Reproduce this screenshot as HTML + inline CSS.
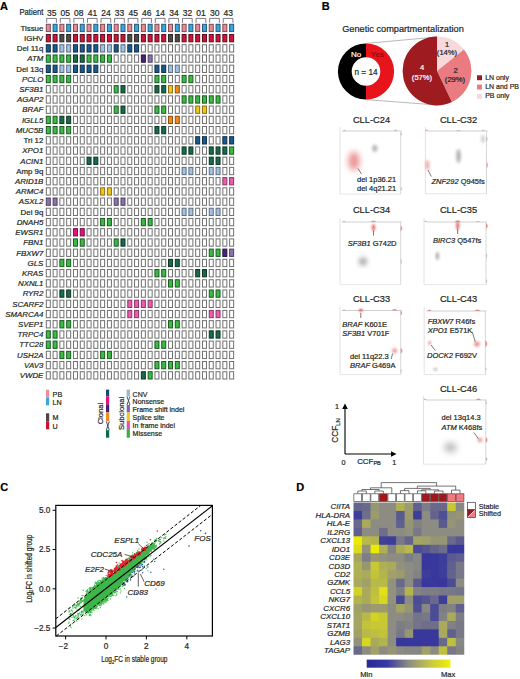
<!DOCTYPE html>
<html><head><meta charset="utf-8"><style>
html,body{margin:0;padding:0;background:#fff;width:520px;height:679px;overflow:hidden}
svg{display:block}
text{font-family:"Liberation Sans", sans-serif}
</style></head><body>
<svg width="520" height="679" viewBox="0 0 520 679">
<text x="0.00" y="9.60" font-size="11" text-anchor="start" font-weight="bold" fill="#000" stroke="#000" stroke-width="0.2">A</text>
<text x="0.00" y="0.00" font-size="8.2" text-anchor="start" fill="#231f20" stroke="#231f20" stroke-width="0.2" transform="translate(19.40 15.30) scale(0.94 1)">Patient</text>
<text x="51.69" y="15.50" font-size="8.5" text-anchor="middle" fill="#231f20" stroke="#231f20" stroke-width="0.2">35</text>
<path d="M46.70 22.8V18.4H56.39V22.8" fill="none" stroke="#5d5a6a" stroke-width="0.8"/>
<text x="65.28" y="15.50" font-size="8.5" text-anchor="middle" fill="#231f20" stroke="#231f20" stroke-width="0.2">05</text>
<path d="M60.28 22.8V18.4H69.97V22.8" fill="none" stroke="#5d5a6a" stroke-width="0.8"/>
<text x="78.85" y="15.50" font-size="8.5" text-anchor="middle" fill="#231f20" stroke="#231f20" stroke-width="0.2">08</text>
<path d="M73.86 22.8V18.4H83.55V22.8" fill="none" stroke="#5d5a6a" stroke-width="0.8"/>
<text x="92.44" y="15.50" font-size="8.5" text-anchor="middle" fill="#231f20" stroke="#231f20" stroke-width="0.2">41</text>
<path d="M87.44 22.8V18.4H97.13V22.8" fill="none" stroke="#5d5a6a" stroke-width="0.8"/>
<text x="106.02" y="15.50" font-size="8.5" text-anchor="middle" fill="#231f20" stroke="#231f20" stroke-width="0.2">24</text>
<path d="M101.02 22.8V18.4H110.71V22.8" fill="none" stroke="#5d5a6a" stroke-width="0.8"/>
<text x="119.59" y="15.50" font-size="8.5" text-anchor="middle" fill="#231f20" stroke="#231f20" stroke-width="0.2">33</text>
<path d="M114.60 22.8V18.4H124.29V22.8" fill="none" stroke="#5d5a6a" stroke-width="0.8"/>
<text x="133.18" y="15.50" font-size="8.5" text-anchor="middle" fill="#231f20" stroke="#231f20" stroke-width="0.2">45</text>
<path d="M128.18 22.8V18.4H137.87V22.8" fill="none" stroke="#5d5a6a" stroke-width="0.8"/>
<text x="146.75" y="15.50" font-size="8.5" text-anchor="middle" fill="#231f20" stroke="#231f20" stroke-width="0.2">46</text>
<path d="M141.76 22.8V18.4H151.45V22.8" fill="none" stroke="#5d5a6a" stroke-width="0.8"/>
<text x="160.34" y="15.50" font-size="8.5" text-anchor="middle" fill="#231f20" stroke="#231f20" stroke-width="0.2">14</text>
<path d="M155.34 22.8V18.4H165.03V22.8" fill="none" stroke="#5d5a6a" stroke-width="0.8"/>
<text x="173.91" y="15.50" font-size="8.5" text-anchor="middle" fill="#231f20" stroke="#231f20" stroke-width="0.2">34</text>
<path d="M168.92 22.8V18.4H178.61V22.8" fill="none" stroke="#5d5a6a" stroke-width="0.8"/>
<text x="187.50" y="15.50" font-size="8.5" text-anchor="middle" fill="#231f20" stroke="#231f20" stroke-width="0.2">32</text>
<path d="M182.50 22.8V18.4H192.19V22.8" fill="none" stroke="#5d5a6a" stroke-width="0.8"/>
<text x="201.07" y="15.50" font-size="8.5" text-anchor="middle" fill="#231f20" stroke="#231f20" stroke-width="0.2">01</text>
<path d="M196.08 22.8V18.4H205.77V22.8" fill="none" stroke="#5d5a6a" stroke-width="0.8"/>
<text x="214.66" y="15.50" font-size="8.5" text-anchor="middle" fill="#231f20" stroke="#231f20" stroke-width="0.2">30</text>
<path d="M209.66 22.8V18.4H219.35V22.8" fill="none" stroke="#5d5a6a" stroke-width="0.8"/>
<text x="228.23" y="15.50" font-size="8.5" text-anchor="middle" fill="#231f20" stroke="#231f20" stroke-width="0.2">43</text>
<path d="M223.24 22.8V18.4H232.93V22.8" fill="none" stroke="#5d5a6a" stroke-width="0.8"/>
<text x="43.40" y="30.70" font-size="7.9" text-anchor="end" fill="#231f20" stroke="#231f20" stroke-width="0.2">Tissue</text>
<rect x="46.30" y="24.30" width="4.00" height="7.30" fill="#e88a96" stroke="#7e4a52" stroke-width="1.0"/>
<rect x="53.09" y="24.30" width="4.00" height="7.30" fill="#36a6dd" stroke="#265a7c" stroke-width="1.0"/>
<rect x="59.88" y="24.30" width="4.00" height="7.30" fill="#e88a96" stroke="#7e4a52" stroke-width="1.0"/>
<rect x="66.67" y="24.30" width="4.00" height="7.30" fill="#36a6dd" stroke="#265a7c" stroke-width="1.0"/>
<rect x="73.46" y="24.30" width="4.00" height="7.30" fill="#e88a96" stroke="#7e4a52" stroke-width="1.0"/>
<rect x="80.25" y="24.30" width="4.00" height="7.30" fill="#36a6dd" stroke="#265a7c" stroke-width="1.0"/>
<rect x="87.04" y="24.30" width="4.00" height="7.30" fill="#e88a96" stroke="#7e4a52" stroke-width="1.0"/>
<rect x="93.83" y="24.30" width="4.00" height="7.30" fill="#36a6dd" stroke="#265a7c" stroke-width="1.0"/>
<rect x="100.62" y="24.30" width="4.00" height="7.30" fill="#e88a96" stroke="#7e4a52" stroke-width="1.0"/>
<rect x="107.41" y="24.30" width="4.00" height="7.30" fill="#36a6dd" stroke="#265a7c" stroke-width="1.0"/>
<rect x="114.20" y="24.30" width="4.00" height="7.30" fill="#e88a96" stroke="#7e4a52" stroke-width="1.0"/>
<rect x="120.99" y="24.30" width="4.00" height="7.30" fill="#36a6dd" stroke="#265a7c" stroke-width="1.0"/>
<rect x="127.78" y="24.30" width="4.00" height="7.30" fill="#e88a96" stroke="#7e4a52" stroke-width="1.0"/>
<rect x="134.57" y="24.30" width="4.00" height="7.30" fill="#36a6dd" stroke="#265a7c" stroke-width="1.0"/>
<rect x="141.36" y="24.30" width="4.00" height="7.30" fill="#e88a96" stroke="#7e4a52" stroke-width="1.0"/>
<rect x="148.15" y="24.30" width="4.00" height="7.30" fill="#36a6dd" stroke="#265a7c" stroke-width="1.0"/>
<rect x="154.94" y="24.30" width="4.00" height="7.30" fill="#e88a96" stroke="#7e4a52" stroke-width="1.0"/>
<rect x="161.73" y="24.30" width="4.00" height="7.30" fill="#36a6dd" stroke="#265a7c" stroke-width="1.0"/>
<rect x="168.52" y="24.30" width="4.00" height="7.30" fill="#e88a96" stroke="#7e4a52" stroke-width="1.0"/>
<rect x="175.31" y="24.30" width="4.00" height="7.30" fill="#36a6dd" stroke="#265a7c" stroke-width="1.0"/>
<rect x="182.10" y="24.30" width="4.00" height="7.30" fill="#e88a96" stroke="#7e4a52" stroke-width="1.0"/>
<rect x="188.89" y="24.30" width="4.00" height="7.30" fill="#36a6dd" stroke="#265a7c" stroke-width="1.0"/>
<rect x="195.68" y="24.30" width="4.00" height="7.30" fill="#e88a96" stroke="#7e4a52" stroke-width="1.0"/>
<rect x="202.47" y="24.30" width="4.00" height="7.30" fill="#36a6dd" stroke="#265a7c" stroke-width="1.0"/>
<rect x="209.26" y="24.30" width="4.00" height="7.30" fill="#e88a96" stroke="#7e4a52" stroke-width="1.0"/>
<rect x="216.05" y="24.30" width="4.00" height="7.30" fill="#36a6dd" stroke="#265a7c" stroke-width="1.0"/>
<rect x="222.84" y="24.30" width="4.00" height="7.30" fill="#e88a96" stroke="#7e4a52" stroke-width="1.0"/>
<rect x="229.63" y="24.30" width="4.00" height="7.30" fill="#36a6dd" stroke="#265a7c" stroke-width="1.0"/>
<text x="43.40" y="40.92" font-size="7.9" text-anchor="end" fill="#231f20" stroke="#231f20" stroke-width="0.2">IGHV</text>
<rect x="46.30" y="34.52" width="4.00" height="7.30" fill="#cf143c" stroke="#5e0c1c" stroke-width="1.0"/>
<rect x="53.09" y="34.52" width="4.00" height="7.30" fill="#cf143c" stroke="#5e0c1c" stroke-width="1.0"/>
<rect x="59.88" y="34.52" width="4.00" height="7.30" fill="#4e4a48" stroke="#2a2626" stroke-width="1.0"/>
<rect x="66.67" y="34.52" width="4.00" height="7.30" fill="#4e4a48" stroke="#2a2626" stroke-width="1.0"/>
<rect x="73.46" y="34.52" width="4.00" height="7.30" fill="#cf143c" stroke="#5e0c1c" stroke-width="1.0"/>
<rect x="80.25" y="34.52" width="4.00" height="7.30" fill="#cf143c" stroke="#5e0c1c" stroke-width="1.0"/>
<rect x="87.04" y="34.52" width="4.00" height="7.30" fill="#cf143c" stroke="#5e0c1c" stroke-width="1.0"/>
<rect x="93.83" y="34.52" width="4.00" height="7.30" fill="#cf143c" stroke="#5e0c1c" stroke-width="1.0"/>
<rect x="100.62" y="34.52" width="4.00" height="7.30" fill="#cf143c" stroke="#5e0c1c" stroke-width="1.0"/>
<rect x="107.41" y="34.52" width="4.00" height="7.30" fill="#cf143c" stroke="#5e0c1c" stroke-width="1.0"/>
<rect x="114.20" y="34.52" width="4.00" height="7.30" fill="#cf143c" stroke="#5e0c1c" stroke-width="1.0"/>
<rect x="120.99" y="34.52" width="4.00" height="7.30" fill="#cf143c" stroke="#5e0c1c" stroke-width="1.0"/>
<rect x="127.78" y="34.52" width="4.00" height="7.30" fill="#4e4a48" stroke="#2a2626" stroke-width="1.0"/>
<rect x="134.57" y="34.52" width="4.00" height="7.30" fill="#4e4a48" stroke="#2a2626" stroke-width="1.0"/>
<rect x="141.36" y="34.52" width="4.00" height="7.30" fill="#cf143c" stroke="#5e0c1c" stroke-width="1.0"/>
<rect x="148.15" y="34.52" width="4.00" height="7.30" fill="#cf143c" stroke="#5e0c1c" stroke-width="1.0"/>
<rect x="154.94" y="34.52" width="4.00" height="7.30" fill="#cf143c" stroke="#5e0c1c" stroke-width="1.0"/>
<rect x="161.73" y="34.52" width="4.00" height="7.30" fill="#cf143c" stroke="#5e0c1c" stroke-width="1.0"/>
<rect x="168.52" y="34.52" width="4.00" height="7.30" fill="#4e4a48" stroke="#2a2626" stroke-width="1.0"/>
<rect x="175.31" y="34.52" width="4.00" height="7.30" fill="#4e4a48" stroke="#2a2626" stroke-width="1.0"/>
<rect x="182.10" y="34.52" width="4.00" height="7.30" fill="#cf143c" stroke="#5e0c1c" stroke-width="1.0"/>
<rect x="188.89" y="34.52" width="4.00" height="7.30" fill="#cf143c" stroke="#5e0c1c" stroke-width="1.0"/>
<rect x="195.68" y="34.52" width="4.00" height="7.30" fill="#cf143c" stroke="#5e0c1c" stroke-width="1.0"/>
<rect x="202.47" y="34.52" width="4.00" height="7.30" fill="#cf143c" stroke="#5e0c1c" stroke-width="1.0"/>
<rect x="209.26" y="34.52" width="4.00" height="7.30" fill="#cf143c" stroke="#5e0c1c" stroke-width="1.0"/>
<rect x="216.05" y="34.52" width="4.00" height="7.30" fill="#cf143c" stroke="#5e0c1c" stroke-width="1.0"/>
<rect x="222.84" y="34.52" width="4.00" height="7.30" fill="#cf143c" stroke="#5e0c1c" stroke-width="1.0"/>
<rect x="229.63" y="34.52" width="4.00" height="7.30" fill="#cf143c" stroke="#5e0c1c" stroke-width="1.0"/>
<text x="43.40" y="51.14" font-size="7.9" text-anchor="end" fill="#231f20" stroke="#231f20" stroke-width="0.2">Del 11q</text>
<rect x="46.30" y="44.74" width="4.00" height="7.30" fill="#1d5a8c" stroke="#0e2c4a" stroke-width="1.0"/>
<rect x="53.09" y="44.74" width="4.00" height="7.30" fill="#1d5a8c" stroke="#0e2c4a" stroke-width="1.0"/>
<rect x="59.88" y="44.74" width="4.00" height="7.30" fill="#a6c2e0" stroke="#5c6c84" stroke-width="1.0"/>
<rect x="66.67" y="44.74" width="4.00" height="7.30" fill="#a6c2e0" stroke="#5c6c84" stroke-width="1.0"/>
<rect x="73.46" y="44.74" width="4.00" height="7.30" fill="#1d5a8c" stroke="#0e2c4a" stroke-width="1.0"/>
<rect x="80.25" y="44.74" width="4.00" height="7.30" fill="#1d5a8c" stroke="#0e2c4a" stroke-width="1.0"/>
<rect x="87.04" y="44.74" width="4.00" height="7.30" fill="#1d5a8c" stroke="#0e2c4a" stroke-width="1.0"/>
<rect x="93.83" y="44.74" width="4.00" height="7.30" fill="#1d5a8c" stroke="#0e2c4a" stroke-width="1.0"/>
<rect x="100.62" y="44.74" width="4.00" height="7.30" fill="#a6c2e0" stroke="#5c6c84" stroke-width="1.0"/>
<rect x="107.41" y="44.74" width="4.00" height="7.30" fill="#a6c2e0" stroke="#5c6c84" stroke-width="1.0"/>
<rect x="114.20" y="44.74" width="4.00" height="7.30" fill="#1d5a8c" stroke="#0e2c4a" stroke-width="1.0"/>
<rect x="120.99" y="44.74" width="4.00" height="7.30" fill="#a6c2e0" stroke="#5c6c84" stroke-width="1.0"/>
<rect x="127.78" y="44.74" width="4.00" height="7.30" fill="#1d5a8c" stroke="#0e2c4a" stroke-width="1.0"/>
<rect x="134.57" y="44.74" width="4.00" height="7.30" fill="#1d5a8c" stroke="#0e2c4a" stroke-width="1.0"/>
<rect x="141.36" y="44.74" width="4.00" height="7.30" fill="#ffffff" stroke="#707070" stroke-width="1.0"/>
<rect x="148.15" y="44.74" width="4.00" height="7.30" fill="#ffffff" stroke="#707070" stroke-width="1.0"/>
<rect x="154.94" y="44.74" width="4.00" height="7.30" fill="#ffffff" stroke="#707070" stroke-width="1.0"/>
<rect x="161.73" y="44.74" width="4.00" height="7.30" fill="#ffffff" stroke="#707070" stroke-width="1.0"/>
<rect x="168.52" y="44.74" width="4.00" height="7.30" fill="#ffffff" stroke="#707070" stroke-width="1.0"/>
<rect x="175.31" y="44.74" width="4.00" height="7.30" fill="#ffffff" stroke="#707070" stroke-width="1.0"/>
<rect x="182.10" y="44.74" width="4.00" height="7.30" fill="#ffffff" stroke="#707070" stroke-width="1.0"/>
<rect x="188.89" y="44.74" width="4.00" height="7.30" fill="#ffffff" stroke="#707070" stroke-width="1.0"/>
<rect x="195.68" y="44.74" width="4.00" height="7.30" fill="#ffffff" stroke="#707070" stroke-width="1.0"/>
<rect x="202.47" y="44.74" width="4.00" height="7.30" fill="#ffffff" stroke="#707070" stroke-width="1.0"/>
<rect x="209.26" y="44.74" width="4.00" height="7.30" fill="#ffffff" stroke="#707070" stroke-width="1.0"/>
<rect x="216.05" y="44.74" width="4.00" height="7.30" fill="#ffffff" stroke="#707070" stroke-width="1.0"/>
<rect x="222.84" y="44.74" width="4.00" height="7.30" fill="#ffffff" stroke="#707070" stroke-width="1.0"/>
<rect x="229.63" y="44.74" width="4.00" height="7.30" fill="#ffffff" stroke="#707070" stroke-width="1.0"/>
<text x="43.40" y="61.35" font-size="7.9" text-anchor="end" font-style="italic" fill="#231f20" stroke="#231f20" stroke-width="0.2">ATM</text>
<rect x="46.30" y="54.95" width="4.00" height="7.30" fill="#3cbc46" stroke="#1a5a20" stroke-width="1.0"/>
<rect x="53.09" y="54.95" width="4.00" height="7.30" fill="#3cbc46" stroke="#1a5a20" stroke-width="1.0"/>
<rect x="59.88" y="54.95" width="4.00" height="7.30" fill="#3cbc46" stroke="#1a5a20" stroke-width="1.0"/>
<rect x="66.67" y="54.95" width="4.00" height="7.30" fill="#3cbc46" stroke="#1a5a20" stroke-width="1.0"/>
<rect x="73.46" y="54.95" width="4.00" height="7.30" fill="#1a6b4a" stroke="#0c3524" stroke-width="1.0"/>
<rect x="80.25" y="54.95" width="4.00" height="7.30" fill="#1a6b4a" stroke="#0c3524" stroke-width="1.0"/>
<rect x="87.04" y="54.95" width="4.00" height="7.30" fill="#3cbc46" stroke="#1a5a20" stroke-width="1.0"/>
<rect x="93.83" y="54.95" width="4.00" height="7.30" fill="#3cbc46" stroke="#1a5a20" stroke-width="1.0"/>
<rect x="100.62" y="54.95" width="4.00" height="7.30" fill="#3cbc46" stroke="#1a5a20" stroke-width="1.0"/>
<rect x="107.41" y="54.95" width="4.00" height="7.30" fill="#3cbc46" stroke="#1a5a20" stroke-width="1.0"/>
<rect x="114.20" y="54.95" width="4.00" height="7.30" fill="#ffffff" stroke="#707070" stroke-width="1.0"/>
<rect x="120.99" y="54.95" width="4.00" height="7.30" fill="#ffffff" stroke="#707070" stroke-width="1.0"/>
<rect x="127.78" y="54.95" width="4.00" height="7.30" fill="#ffffff" stroke="#707070" stroke-width="1.0"/>
<rect x="134.57" y="54.95" width="4.00" height="7.30" fill="#ffffff" stroke="#707070" stroke-width="1.0"/>
<rect x="141.36" y="54.95" width="4.00" height="7.30" fill="#4b2375" stroke="#2a1242" stroke-width="1.0"/>
<rect x="148.15" y="54.95" width="4.00" height="7.30" fill="#8c74aa" stroke="#4e4066" stroke-width="1.0"/>
<rect x="154.94" y="54.95" width="4.00" height="7.30" fill="#ffffff" stroke="#707070" stroke-width="1.0"/>
<rect x="161.73" y="54.95" width="4.00" height="7.30" fill="#ffffff" stroke="#707070" stroke-width="1.0"/>
<rect x="168.52" y="54.95" width="4.00" height="7.30" fill="#ffffff" stroke="#707070" stroke-width="1.0"/>
<rect x="175.31" y="54.95" width="4.00" height="7.30" fill="#ffffff" stroke="#707070" stroke-width="1.0"/>
<rect x="182.10" y="54.95" width="4.00" height="7.30" fill="#ffffff" stroke="#707070" stroke-width="1.0"/>
<rect x="188.89" y="54.95" width="4.00" height="7.30" fill="#ffffff" stroke="#707070" stroke-width="1.0"/>
<rect x="195.68" y="54.95" width="4.00" height="7.30" fill="#ffffff" stroke="#707070" stroke-width="1.0"/>
<rect x="202.47" y="54.95" width="4.00" height="7.30" fill="#ffffff" stroke="#707070" stroke-width="1.0"/>
<rect x="209.26" y="54.95" width="4.00" height="7.30" fill="#ffffff" stroke="#707070" stroke-width="1.0"/>
<rect x="216.05" y="54.95" width="4.00" height="7.30" fill="#ffffff" stroke="#707070" stroke-width="1.0"/>
<rect x="222.84" y="54.95" width="4.00" height="7.30" fill="#ffffff" stroke="#707070" stroke-width="1.0"/>
<rect x="229.63" y="54.95" width="4.00" height="7.30" fill="#ffffff" stroke="#707070" stroke-width="1.0"/>
<text x="43.40" y="71.57" font-size="7.9" text-anchor="end" fill="#231f20" stroke="#231f20" stroke-width="0.2">Del 13q</text>
<rect x="46.30" y="65.17" width="4.00" height="7.30" fill="#1d5a8c" stroke="#0e2c4a" stroke-width="1.0"/>
<rect x="53.09" y="65.17" width="4.00" height="7.30" fill="#1d5a8c" stroke="#0e2c4a" stroke-width="1.0"/>
<rect x="59.88" y="65.17" width="4.00" height="7.30" fill="#a6c2e0" stroke="#5c6c84" stroke-width="1.0"/>
<rect x="66.67" y="65.17" width="4.00" height="7.30" fill="#a6c2e0" stroke="#5c6c84" stroke-width="1.0"/>
<rect x="73.46" y="65.17" width="4.00" height="7.30" fill="#1d5a8c" stroke="#0e2c4a" stroke-width="1.0"/>
<rect x="80.25" y="65.17" width="4.00" height="7.30" fill="#1d5a8c" stroke="#0e2c4a" stroke-width="1.0"/>
<rect x="87.04" y="65.17" width="4.00" height="7.30" fill="#1d5a8c" stroke="#0e2c4a" stroke-width="1.0"/>
<rect x="93.83" y="65.17" width="4.00" height="7.30" fill="#1d5a8c" stroke="#0e2c4a" stroke-width="1.0"/>
<rect x="100.62" y="65.17" width="4.00" height="7.30" fill="#ffffff" stroke="#707070" stroke-width="1.0"/>
<rect x="107.41" y="65.17" width="4.00" height="7.30" fill="#ffffff" stroke="#707070" stroke-width="1.0"/>
<rect x="114.20" y="65.17" width="4.00" height="7.30" fill="#ffffff" stroke="#707070" stroke-width="1.0"/>
<rect x="120.99" y="65.17" width="4.00" height="7.30" fill="#ffffff" stroke="#707070" stroke-width="1.0"/>
<rect x="127.78" y="65.17" width="4.00" height="7.30" fill="#ffffff" stroke="#707070" stroke-width="1.0"/>
<rect x="134.57" y="65.17" width="4.00" height="7.30" fill="#ffffff" stroke="#707070" stroke-width="1.0"/>
<rect x="141.36" y="65.17" width="4.00" height="7.30" fill="#ffffff" stroke="#707070" stroke-width="1.0"/>
<rect x="148.15" y="65.17" width="4.00" height="7.30" fill="#ffffff" stroke="#707070" stroke-width="1.0"/>
<rect x="154.94" y="65.17" width="4.00" height="7.30" fill="#1d5a8c" stroke="#0e2c4a" stroke-width="1.0"/>
<rect x="161.73" y="65.17" width="4.00" height="7.30" fill="#1d5a8c" stroke="#0e2c4a" stroke-width="1.0"/>
<rect x="168.52" y="65.17" width="4.00" height="7.30" fill="#a6c2e0" stroke="#5c6c84" stroke-width="1.0"/>
<rect x="175.31" y="65.17" width="4.00" height="7.30" fill="#a6c2e0" stroke="#5c6c84" stroke-width="1.0"/>
<rect x="182.10" y="65.17" width="4.00" height="7.30" fill="#ffffff" stroke="#707070" stroke-width="1.0"/>
<rect x="188.89" y="65.17" width="4.00" height="7.30" fill="#ffffff" stroke="#707070" stroke-width="1.0"/>
<rect x="195.68" y="65.17" width="4.00" height="7.30" fill="#ffffff" stroke="#707070" stroke-width="1.0"/>
<rect x="202.47" y="65.17" width="4.00" height="7.30" fill="#ffffff" stroke="#707070" stroke-width="1.0"/>
<rect x="209.26" y="65.17" width="4.00" height="7.30" fill="#ffffff" stroke="#707070" stroke-width="1.0"/>
<rect x="216.05" y="65.17" width="4.00" height="7.30" fill="#ffffff" stroke="#707070" stroke-width="1.0"/>
<rect x="222.84" y="65.17" width="4.00" height="7.30" fill="#ffffff" stroke="#707070" stroke-width="1.0"/>
<rect x="229.63" y="65.17" width="4.00" height="7.30" fill="#ffffff" stroke="#707070" stroke-width="1.0"/>
<text x="43.40" y="81.79" font-size="7.9" text-anchor="end" font-style="italic" fill="#231f20" stroke="#231f20" stroke-width="0.2">PCLO</text>
<rect x="46.30" y="75.39" width="4.00" height="7.30" fill="#3cbc46" stroke="#1a5a20" stroke-width="1.0"/>
<rect x="53.09" y="75.39" width="4.00" height="7.30" fill="#3cbc46" stroke="#1a5a20" stroke-width="1.0"/>
<rect x="59.88" y="75.39" width="4.00" height="7.30" fill="#3cbc46" stroke="#1a5a20" stroke-width="1.0"/>
<rect x="66.67" y="75.39" width="4.00" height="7.30" fill="#3cbc46" stroke="#1a5a20" stroke-width="1.0"/>
<rect x="73.46" y="75.39" width="4.00" height="7.30" fill="#ffffff" stroke="#707070" stroke-width="1.0"/>
<rect x="80.25" y="75.39" width="4.00" height="7.30" fill="#ffffff" stroke="#707070" stroke-width="1.0"/>
<rect x="87.04" y="75.39" width="4.00" height="7.30" fill="#ffffff" stroke="#707070" stroke-width="1.0"/>
<rect x="93.83" y="75.39" width="4.00" height="7.30" fill="#ffffff" stroke="#707070" stroke-width="1.0"/>
<rect x="100.62" y="75.39" width="4.00" height="7.30" fill="#ffffff" stroke="#707070" stroke-width="1.0"/>
<rect x="107.41" y="75.39" width="4.00" height="7.30" fill="#ffffff" stroke="#707070" stroke-width="1.0"/>
<rect x="114.20" y="75.39" width="4.00" height="7.30" fill="#ffffff" stroke="#707070" stroke-width="1.0"/>
<rect x="120.99" y="75.39" width="4.00" height="7.30" fill="#ffffff" stroke="#707070" stroke-width="1.0"/>
<rect x="127.78" y="75.39" width="4.00" height="7.30" fill="#ffffff" stroke="#707070" stroke-width="1.0"/>
<rect x="134.57" y="75.39" width="4.00" height="7.30" fill="#ffffff" stroke="#707070" stroke-width="1.0"/>
<rect x="141.36" y="75.39" width="4.00" height="7.30" fill="#ffffff" stroke="#707070" stroke-width="1.0"/>
<rect x="148.15" y="75.39" width="4.00" height="7.30" fill="#ffffff" stroke="#707070" stroke-width="1.0"/>
<rect x="154.94" y="75.39" width="4.00" height="7.30" fill="#3cbc46" stroke="#1a5a20" stroke-width="1.0"/>
<rect x="161.73" y="75.39" width="4.00" height="7.30" fill="#3cbc46" stroke="#1a5a20" stroke-width="1.0"/>
<rect x="168.52" y="75.39" width="4.00" height="7.30" fill="#ffffff" stroke="#707070" stroke-width="1.0"/>
<rect x="175.31" y="75.39" width="4.00" height="7.30" fill="#ffffff" stroke="#707070" stroke-width="1.0"/>
<rect x="182.10" y="75.39" width="4.00" height="7.30" fill="#3cbc46" stroke="#1a5a20" stroke-width="1.0"/>
<rect x="188.89" y="75.39" width="4.00" height="7.30" fill="#3cbc46" stroke="#1a5a20" stroke-width="1.0"/>
<rect x="195.68" y="75.39" width="4.00" height="7.30" fill="#ffffff" stroke="#707070" stroke-width="1.0"/>
<rect x="202.47" y="75.39" width="4.00" height="7.30" fill="#ffffff" stroke="#707070" stroke-width="1.0"/>
<rect x="209.26" y="75.39" width="4.00" height="7.30" fill="#ffffff" stroke="#707070" stroke-width="1.0"/>
<rect x="216.05" y="75.39" width="4.00" height="7.30" fill="#ffffff" stroke="#707070" stroke-width="1.0"/>
<rect x="222.84" y="75.39" width="4.00" height="7.30" fill="#ffffff" stroke="#707070" stroke-width="1.0"/>
<rect x="229.63" y="75.39" width="4.00" height="7.30" fill="#ffffff" stroke="#707070" stroke-width="1.0"/>
<text x="43.40" y="92.01" font-size="7.9" text-anchor="end" font-style="italic" fill="#231f20" stroke="#231f20" stroke-width="0.2">SF3B1</text>
<rect x="46.30" y="85.61" width="4.00" height="7.30" fill="#ffffff" stroke="#707070" stroke-width="1.0"/>
<rect x="53.09" y="85.61" width="4.00" height="7.30" fill="#ffffff" stroke="#707070" stroke-width="1.0"/>
<rect x="59.88" y="85.61" width="4.00" height="7.30" fill="#ffffff" stroke="#707070" stroke-width="1.0"/>
<rect x="66.67" y="85.61" width="4.00" height="7.30" fill="#ffffff" stroke="#707070" stroke-width="1.0"/>
<rect x="73.46" y="85.61" width="4.00" height="7.30" fill="#ffffff" stroke="#707070" stroke-width="1.0"/>
<rect x="80.25" y="85.61" width="4.00" height="7.30" fill="#ffffff" stroke="#707070" stroke-width="1.0"/>
<rect x="87.04" y="85.61" width="4.00" height="7.30" fill="#ffffff" stroke="#707070" stroke-width="1.0"/>
<rect x="93.83" y="85.61" width="4.00" height="7.30" fill="#ffffff" stroke="#707070" stroke-width="1.0"/>
<rect x="100.62" y="85.61" width="4.00" height="7.30" fill="#ffffff" stroke="#707070" stroke-width="1.0"/>
<rect x="107.41" y="85.61" width="4.00" height="7.30" fill="#ffffff" stroke="#707070" stroke-width="1.0"/>
<rect x="114.20" y="85.61" width="4.00" height="7.30" fill="#3cbc46" stroke="#1a5a20" stroke-width="1.0"/>
<rect x="120.99" y="85.61" width="4.00" height="7.30" fill="#1a6b4a" stroke="#0c3524" stroke-width="1.0"/>
<rect x="127.78" y="85.61" width="4.00" height="7.30" fill="#ffffff" stroke="#707070" stroke-width="1.0"/>
<rect x="134.57" y="85.61" width="4.00" height="7.30" fill="#ffffff" stroke="#707070" stroke-width="1.0"/>
<rect x="141.36" y="85.61" width="4.00" height="7.30" fill="#ffffff" stroke="#707070" stroke-width="1.0"/>
<rect x="148.15" y="85.61" width="4.00" height="7.30" fill="#ffffff" stroke="#707070" stroke-width="1.0"/>
<rect x="154.94" y="85.61" width="4.00" height="7.30" fill="#1a6b4a" stroke="#0c3524" stroke-width="1.0"/>
<rect x="161.73" y="85.61" width="4.00" height="7.30" fill="#1a6b4a" stroke="#0c3524" stroke-width="1.0"/>
<rect x="168.52" y="85.61" width="4.00" height="7.30" fill="#f4c624" stroke="#8a7010" stroke-width="1.0"/>
<rect x="175.31" y="85.61" width="4.00" height="7.30" fill="#f28a1c" stroke="#8a5010" stroke-width="1.0"/>
<rect x="182.10" y="85.61" width="4.00" height="7.30" fill="#ffffff" stroke="#707070" stroke-width="1.0"/>
<rect x="188.89" y="85.61" width="4.00" height="7.30" fill="#ffffff" stroke="#707070" stroke-width="1.0"/>
<rect x="195.68" y="85.61" width="4.00" height="7.30" fill="#ffffff" stroke="#707070" stroke-width="1.0"/>
<rect x="202.47" y="85.61" width="4.00" height="7.30" fill="#ffffff" stroke="#707070" stroke-width="1.0"/>
<rect x="209.26" y="85.61" width="4.00" height="7.30" fill="#ffffff" stroke="#707070" stroke-width="1.0"/>
<rect x="216.05" y="85.61" width="4.00" height="7.30" fill="#ffffff" stroke="#707070" stroke-width="1.0"/>
<rect x="222.84" y="85.61" width="4.00" height="7.30" fill="#ffffff" stroke="#707070" stroke-width="1.0"/>
<rect x="229.63" y="85.61" width="4.00" height="7.30" fill="#ffffff" stroke="#707070" stroke-width="1.0"/>
<text x="43.40" y="102.23" font-size="7.9" text-anchor="end" font-style="italic" fill="#231f20" stroke="#231f20" stroke-width="0.2">AGAP2</text>
<rect x="46.30" y="95.83" width="4.00" height="7.30" fill="#ffffff" stroke="#707070" stroke-width="1.0"/>
<rect x="53.09" y="95.83" width="4.00" height="7.30" fill="#ffffff" stroke="#707070" stroke-width="1.0"/>
<rect x="59.88" y="95.83" width="4.00" height="7.30" fill="#ffffff" stroke="#707070" stroke-width="1.0"/>
<rect x="66.67" y="95.83" width="4.00" height="7.30" fill="#ffffff" stroke="#707070" stroke-width="1.0"/>
<rect x="73.46" y="95.83" width="4.00" height="7.30" fill="#ffffff" stroke="#707070" stroke-width="1.0"/>
<rect x="80.25" y="95.83" width="4.00" height="7.30" fill="#ffffff" stroke="#707070" stroke-width="1.0"/>
<rect x="87.04" y="95.83" width="4.00" height="7.30" fill="#ffffff" stroke="#707070" stroke-width="1.0"/>
<rect x="93.83" y="95.83" width="4.00" height="7.30" fill="#ffffff" stroke="#707070" stroke-width="1.0"/>
<rect x="100.62" y="95.83" width="4.00" height="7.30" fill="#ffffff" stroke="#707070" stroke-width="1.0"/>
<rect x="107.41" y="95.83" width="4.00" height="7.30" fill="#ffffff" stroke="#707070" stroke-width="1.0"/>
<rect x="114.20" y="95.83" width="4.00" height="7.30" fill="#ffffff" stroke="#707070" stroke-width="1.0"/>
<rect x="120.99" y="95.83" width="4.00" height="7.30" fill="#ffffff" stroke="#707070" stroke-width="1.0"/>
<rect x="127.78" y="95.83" width="4.00" height="7.30" fill="#ffffff" stroke="#707070" stroke-width="1.0"/>
<rect x="134.57" y="95.83" width="4.00" height="7.30" fill="#ffffff" stroke="#707070" stroke-width="1.0"/>
<rect x="141.36" y="95.83" width="4.00" height="7.30" fill="#ffffff" stroke="#707070" stroke-width="1.0"/>
<rect x="148.15" y="95.83" width="4.00" height="7.30" fill="#ffffff" stroke="#707070" stroke-width="1.0"/>
<rect x="154.94" y="95.83" width="4.00" height="7.30" fill="#ffffff" stroke="#707070" stroke-width="1.0"/>
<rect x="161.73" y="95.83" width="4.00" height="7.30" fill="#ffffff" stroke="#707070" stroke-width="1.0"/>
<rect x="168.52" y="95.83" width="4.00" height="7.30" fill="#ffffff" stroke="#707070" stroke-width="1.0"/>
<rect x="175.31" y="95.83" width="4.00" height="7.30" fill="#ffffff" stroke="#707070" stroke-width="1.0"/>
<rect x="182.10" y="95.83" width="4.00" height="7.30" fill="#3cbc46" stroke="#1a5a20" stroke-width="1.0"/>
<rect x="188.89" y="95.83" width="4.00" height="7.30" fill="#3cbc46" stroke="#1a5a20" stroke-width="1.0"/>
<rect x="195.68" y="95.83" width="4.00" height="7.30" fill="#3cbc46" stroke="#1a5a20" stroke-width="1.0"/>
<rect x="202.47" y="95.83" width="4.00" height="7.30" fill="#3cbc46" stroke="#1a5a20" stroke-width="1.0"/>
<rect x="209.26" y="95.83" width="4.00" height="7.30" fill="#3cbc46" stroke="#1a5a20" stroke-width="1.0"/>
<rect x="216.05" y="95.83" width="4.00" height="7.30" fill="#3cbc46" stroke="#1a5a20" stroke-width="1.0"/>
<rect x="222.84" y="95.83" width="4.00" height="7.30" fill="#ffffff" stroke="#707070" stroke-width="1.0"/>
<rect x="229.63" y="95.83" width="4.00" height="7.30" fill="#ffffff" stroke="#707070" stroke-width="1.0"/>
<text x="43.40" y="112.44" font-size="7.9" text-anchor="end" font-style="italic" fill="#231f20" stroke="#231f20" stroke-width="0.2">BRAF</text>
<rect x="46.30" y="106.04" width="4.00" height="7.30" fill="#ffffff" stroke="#707070" stroke-width="1.0"/>
<rect x="53.09" y="106.04" width="4.00" height="7.30" fill="#ffffff" stroke="#707070" stroke-width="1.0"/>
<rect x="59.88" y="106.04" width="4.00" height="7.30" fill="#ffffff" stroke="#707070" stroke-width="1.0"/>
<rect x="66.67" y="106.04" width="4.00" height="7.30" fill="#ffffff" stroke="#707070" stroke-width="1.0"/>
<rect x="73.46" y="106.04" width="4.00" height="7.30" fill="#ffffff" stroke="#707070" stroke-width="1.0"/>
<rect x="80.25" y="106.04" width="4.00" height="7.30" fill="#ffffff" stroke="#707070" stroke-width="1.0"/>
<rect x="87.04" y="106.04" width="4.00" height="7.30" fill="#ffffff" stroke="#707070" stroke-width="1.0"/>
<rect x="93.83" y="106.04" width="4.00" height="7.30" fill="#ffffff" stroke="#707070" stroke-width="1.0"/>
<rect x="100.62" y="106.04" width="4.00" height="7.30" fill="#ffffff" stroke="#707070" stroke-width="1.0"/>
<rect x="107.41" y="106.04" width="4.00" height="7.30" fill="#ffffff" stroke="#707070" stroke-width="1.0"/>
<rect x="114.20" y="106.04" width="4.00" height="7.30" fill="#3cbc46" stroke="#1a5a20" stroke-width="1.0"/>
<rect x="120.99" y="106.04" width="4.00" height="7.30" fill="#1a6b4a" stroke="#0c3524" stroke-width="1.0"/>
<rect x="127.78" y="106.04" width="4.00" height="7.30" fill="#ffffff" stroke="#707070" stroke-width="1.0"/>
<rect x="134.57" y="106.04" width="4.00" height="7.30" fill="#ffffff" stroke="#707070" stroke-width="1.0"/>
<rect x="141.36" y="106.04" width="4.00" height="7.30" fill="#ffffff" stroke="#707070" stroke-width="1.0"/>
<rect x="148.15" y="106.04" width="4.00" height="7.30" fill="#ffffff" stroke="#707070" stroke-width="1.0"/>
<rect x="154.94" y="106.04" width="4.00" height="7.30" fill="#3cbc46" stroke="#1a5a20" stroke-width="1.0"/>
<rect x="161.73" y="106.04" width="4.00" height="7.30" fill="#3cbc46" stroke="#1a5a20" stroke-width="1.0"/>
<rect x="168.52" y="106.04" width="4.00" height="7.30" fill="#ffffff" stroke="#707070" stroke-width="1.0"/>
<rect x="175.31" y="106.04" width="4.00" height="7.30" fill="#ffffff" stroke="#707070" stroke-width="1.0"/>
<rect x="182.10" y="106.04" width="4.00" height="7.30" fill="#ffffff" stroke="#707070" stroke-width="1.0"/>
<rect x="188.89" y="106.04" width="4.00" height="7.30" fill="#ffffff" stroke="#707070" stroke-width="1.0"/>
<rect x="195.68" y="106.04" width="4.00" height="7.30" fill="#f4c624" stroke="#8a7010" stroke-width="1.0"/>
<rect x="202.47" y="106.04" width="4.00" height="7.30" fill="#f4c624" stroke="#8a7010" stroke-width="1.0"/>
<rect x="209.26" y="106.04" width="4.00" height="7.30" fill="#ffffff" stroke="#707070" stroke-width="1.0"/>
<rect x="216.05" y="106.04" width="4.00" height="7.30" fill="#ffffff" stroke="#707070" stroke-width="1.0"/>
<rect x="222.84" y="106.04" width="4.00" height="7.30" fill="#ffffff" stroke="#707070" stroke-width="1.0"/>
<rect x="229.63" y="106.04" width="4.00" height="7.30" fill="#ffffff" stroke="#707070" stroke-width="1.0"/>
<text x="43.40" y="122.66" font-size="7.9" text-anchor="end" font-style="italic" fill="#231f20" stroke="#231f20" stroke-width="0.2">IGLL5</text>
<rect x="46.30" y="116.26" width="4.00" height="7.30" fill="#3cbc46" stroke="#1a5a20" stroke-width="1.0"/>
<rect x="53.09" y="116.26" width="4.00" height="7.30" fill="#3cbc46" stroke="#1a5a20" stroke-width="1.0"/>
<rect x="59.88" y="116.26" width="4.00" height="7.30" fill="#1a6b4a" stroke="#0c3524" stroke-width="1.0"/>
<rect x="66.67" y="116.26" width="4.00" height="7.30" fill="#1a6b4a" stroke="#0c3524" stroke-width="1.0"/>
<rect x="73.46" y="116.26" width="4.00" height="7.30" fill="#ffffff" stroke="#707070" stroke-width="1.0"/>
<rect x="80.25" y="116.26" width="4.00" height="7.30" fill="#ffffff" stroke="#707070" stroke-width="1.0"/>
<rect x="87.04" y="116.26" width="4.00" height="7.30" fill="#ffffff" stroke="#707070" stroke-width="1.0"/>
<rect x="93.83" y="116.26" width="4.00" height="7.30" fill="#ffffff" stroke="#707070" stroke-width="1.0"/>
<rect x="100.62" y="116.26" width="4.00" height="7.30" fill="#ffffff" stroke="#707070" stroke-width="1.0"/>
<rect x="107.41" y="116.26" width="4.00" height="7.30" fill="#ffffff" stroke="#707070" stroke-width="1.0"/>
<rect x="114.20" y="116.26" width="4.00" height="7.30" fill="#ffffff" stroke="#707070" stroke-width="1.0"/>
<rect x="120.99" y="116.26" width="4.00" height="7.30" fill="#ffffff" stroke="#707070" stroke-width="1.0"/>
<rect x="127.78" y="116.26" width="4.00" height="7.30" fill="#ffffff" stroke="#707070" stroke-width="1.0"/>
<rect x="134.57" y="116.26" width="4.00" height="7.30" fill="#ffffff" stroke="#707070" stroke-width="1.0"/>
<rect x="141.36" y="116.26" width="4.00" height="7.30" fill="#ffffff" stroke="#707070" stroke-width="1.0"/>
<rect x="148.15" y="116.26" width="4.00" height="7.30" fill="#ffffff" stroke="#707070" stroke-width="1.0"/>
<rect x="154.94" y="116.26" width="4.00" height="7.30" fill="#ffffff" stroke="#707070" stroke-width="1.0"/>
<rect x="161.73" y="116.26" width="4.00" height="7.30" fill="#ffffff" stroke="#707070" stroke-width="1.0"/>
<rect x="168.52" y="116.26" width="4.00" height="7.30" fill="#f28a1c" stroke="#8a5010" stroke-width="1.0"/>
<rect x="175.31" y="116.26" width="4.00" height="7.30" fill="#f28a1c" stroke="#8a5010" stroke-width="1.0"/>
<rect x="182.10" y="116.26" width="4.00" height="7.30" fill="#ffffff" stroke="#707070" stroke-width="1.0"/>
<rect x="188.89" y="116.26" width="4.00" height="7.30" fill="#ffffff" stroke="#707070" stroke-width="1.0"/>
<rect x="195.68" y="116.26" width="4.00" height="7.30" fill="#ffffff" stroke="#707070" stroke-width="1.0"/>
<rect x="202.47" y="116.26" width="4.00" height="7.30" fill="#ffffff" stroke="#707070" stroke-width="1.0"/>
<rect x="209.26" y="116.26" width="4.00" height="7.30" fill="#ffffff" stroke="#707070" stroke-width="1.0"/>
<rect x="216.05" y="116.26" width="4.00" height="7.30" fill="#ffffff" stroke="#707070" stroke-width="1.0"/>
<rect x="222.84" y="116.26" width="4.00" height="7.30" fill="#ffffff" stroke="#707070" stroke-width="1.0"/>
<rect x="229.63" y="116.26" width="4.00" height="7.30" fill="#ffffff" stroke="#707070" stroke-width="1.0"/>
<text x="43.40" y="132.88" font-size="7.9" text-anchor="end" font-style="italic" fill="#231f20" stroke="#231f20" stroke-width="0.2">MUC5B</text>
<rect x="46.30" y="126.48" width="4.00" height="7.30" fill="#3cbc46" stroke="#1a5a20" stroke-width="1.0"/>
<rect x="53.09" y="126.48" width="4.00" height="7.30" fill="#3cbc46" stroke="#1a5a20" stroke-width="1.0"/>
<rect x="59.88" y="126.48" width="4.00" height="7.30" fill="#3cbc46" stroke="#1a5a20" stroke-width="1.0"/>
<rect x="66.67" y="126.48" width="4.00" height="7.30" fill="#3cbc46" stroke="#1a5a20" stroke-width="1.0"/>
<rect x="73.46" y="126.48" width="4.00" height="7.30" fill="#ffffff" stroke="#707070" stroke-width="1.0"/>
<rect x="80.25" y="126.48" width="4.00" height="7.30" fill="#ffffff" stroke="#707070" stroke-width="1.0"/>
<rect x="87.04" y="126.48" width="4.00" height="7.30" fill="#ffffff" stroke="#707070" stroke-width="1.0"/>
<rect x="93.83" y="126.48" width="4.00" height="7.30" fill="#ffffff" stroke="#707070" stroke-width="1.0"/>
<rect x="100.62" y="126.48" width="4.00" height="7.30" fill="#ffffff" stroke="#707070" stroke-width="1.0"/>
<rect x="107.41" y="126.48" width="4.00" height="7.30" fill="#ffffff" stroke="#707070" stroke-width="1.0"/>
<rect x="114.20" y="126.48" width="4.00" height="7.30" fill="#ffffff" stroke="#707070" stroke-width="1.0"/>
<rect x="120.99" y="126.48" width="4.00" height="7.30" fill="#ffffff" stroke="#707070" stroke-width="1.0"/>
<rect x="127.78" y="126.48" width="4.00" height="7.30" fill="#ffffff" stroke="#707070" stroke-width="1.0"/>
<rect x="134.57" y="126.48" width="4.00" height="7.30" fill="#ffffff" stroke="#707070" stroke-width="1.0"/>
<rect x="141.36" y="126.48" width="4.00" height="7.30" fill="#ffffff" stroke="#707070" stroke-width="1.0"/>
<rect x="148.15" y="126.48" width="4.00" height="7.30" fill="#ffffff" stroke="#707070" stroke-width="1.0"/>
<rect x="154.94" y="126.48" width="4.00" height="7.30" fill="#1a6b4a" stroke="#0c3524" stroke-width="1.0"/>
<rect x="161.73" y="126.48" width="4.00" height="7.30" fill="#1a6b4a" stroke="#0c3524" stroke-width="1.0"/>
<rect x="168.52" y="126.48" width="4.00" height="7.30" fill="#ffffff" stroke="#707070" stroke-width="1.0"/>
<rect x="175.31" y="126.48" width="4.00" height="7.30" fill="#ffffff" stroke="#707070" stroke-width="1.0"/>
<rect x="182.10" y="126.48" width="4.00" height="7.30" fill="#ffffff" stroke="#707070" stroke-width="1.0"/>
<rect x="188.89" y="126.48" width="4.00" height="7.30" fill="#ffffff" stroke="#707070" stroke-width="1.0"/>
<rect x="195.68" y="126.48" width="4.00" height="7.30" fill="#ffffff" stroke="#707070" stroke-width="1.0"/>
<rect x="202.47" y="126.48" width="4.00" height="7.30" fill="#ffffff" stroke="#707070" stroke-width="1.0"/>
<rect x="209.26" y="126.48" width="4.00" height="7.30" fill="#ffffff" stroke="#707070" stroke-width="1.0"/>
<rect x="216.05" y="126.48" width="4.00" height="7.30" fill="#ffffff" stroke="#707070" stroke-width="1.0"/>
<rect x="222.84" y="126.48" width="4.00" height="7.30" fill="#ffffff" stroke="#707070" stroke-width="1.0"/>
<rect x="229.63" y="126.48" width="4.00" height="7.30" fill="#ffffff" stroke="#707070" stroke-width="1.0"/>
<text x="43.40" y="143.10" font-size="7.9" text-anchor="end" fill="#231f20" stroke="#231f20" stroke-width="0.2">Tri 12</text>
<rect x="46.30" y="136.70" width="4.00" height="7.30" fill="#ffffff" stroke="#707070" stroke-width="1.0"/>
<rect x="53.09" y="136.70" width="4.00" height="7.30" fill="#ffffff" stroke="#707070" stroke-width="1.0"/>
<rect x="59.88" y="136.70" width="4.00" height="7.30" fill="#ffffff" stroke="#707070" stroke-width="1.0"/>
<rect x="66.67" y="136.70" width="4.00" height="7.30" fill="#ffffff" stroke="#707070" stroke-width="1.0"/>
<rect x="73.46" y="136.70" width="4.00" height="7.30" fill="#ffffff" stroke="#707070" stroke-width="1.0"/>
<rect x="80.25" y="136.70" width="4.00" height="7.30" fill="#ffffff" stroke="#707070" stroke-width="1.0"/>
<rect x="87.04" y="136.70" width="4.00" height="7.30" fill="#ffffff" stroke="#707070" stroke-width="1.0"/>
<rect x="93.83" y="136.70" width="4.00" height="7.30" fill="#ffffff" stroke="#707070" stroke-width="1.0"/>
<rect x="100.62" y="136.70" width="4.00" height="7.30" fill="#ffffff" stroke="#707070" stroke-width="1.0"/>
<rect x="107.41" y="136.70" width="4.00" height="7.30" fill="#ffffff" stroke="#707070" stroke-width="1.0"/>
<rect x="114.20" y="136.70" width="4.00" height="7.30" fill="#ffffff" stroke="#707070" stroke-width="1.0"/>
<rect x="120.99" y="136.70" width="4.00" height="7.30" fill="#ffffff" stroke="#707070" stroke-width="1.0"/>
<rect x="127.78" y="136.70" width="4.00" height="7.30" fill="#ffffff" stroke="#707070" stroke-width="1.0"/>
<rect x="134.57" y="136.70" width="4.00" height="7.30" fill="#ffffff" stroke="#707070" stroke-width="1.0"/>
<rect x="141.36" y="136.70" width="4.00" height="7.30" fill="#ffffff" stroke="#707070" stroke-width="1.0"/>
<rect x="148.15" y="136.70" width="4.00" height="7.30" fill="#ffffff" stroke="#707070" stroke-width="1.0"/>
<rect x="154.94" y="136.70" width="4.00" height="7.30" fill="#ffffff" stroke="#707070" stroke-width="1.0"/>
<rect x="161.73" y="136.70" width="4.00" height="7.30" fill="#ffffff" stroke="#707070" stroke-width="1.0"/>
<rect x="168.52" y="136.70" width="4.00" height="7.30" fill="#ffffff" stroke="#707070" stroke-width="1.0"/>
<rect x="175.31" y="136.70" width="4.00" height="7.30" fill="#ffffff" stroke="#707070" stroke-width="1.0"/>
<rect x="182.10" y="136.70" width="4.00" height="7.30" fill="#ffffff" stroke="#707070" stroke-width="1.0"/>
<rect x="188.89" y="136.70" width="4.00" height="7.30" fill="#ffffff" stroke="#707070" stroke-width="1.0"/>
<rect x="195.68" y="136.70" width="4.00" height="7.30" fill="#1d5a8c" stroke="#0e2c4a" stroke-width="1.0"/>
<rect x="202.47" y="136.70" width="4.00" height="7.30" fill="#1d5a8c" stroke="#0e2c4a" stroke-width="1.0"/>
<rect x="209.26" y="136.70" width="4.00" height="7.30" fill="#ffffff" stroke="#707070" stroke-width="1.0"/>
<rect x="216.05" y="136.70" width="4.00" height="7.30" fill="#ffffff" stroke="#707070" stroke-width="1.0"/>
<rect x="222.84" y="136.70" width="4.00" height="7.30" fill="#1d5a8c" stroke="#0e2c4a" stroke-width="1.0"/>
<rect x="229.63" y="136.70" width="4.00" height="7.30" fill="#1d5a8c" stroke="#0e2c4a" stroke-width="1.0"/>
<text x="43.40" y="153.32" font-size="7.9" text-anchor="end" font-style="italic" fill="#231f20" stroke="#231f20" stroke-width="0.2">XPO1</text>
<rect x="46.30" y="146.92" width="4.00" height="7.30" fill="#ffffff" stroke="#707070" stroke-width="1.0"/>
<rect x="53.09" y="146.92" width="4.00" height="7.30" fill="#ffffff" stroke="#707070" stroke-width="1.0"/>
<rect x="59.88" y="146.92" width="4.00" height="7.30" fill="#ffffff" stroke="#707070" stroke-width="1.0"/>
<rect x="66.67" y="146.92" width="4.00" height="7.30" fill="#ffffff" stroke="#707070" stroke-width="1.0"/>
<rect x="73.46" y="146.92" width="4.00" height="7.30" fill="#ffffff" stroke="#707070" stroke-width="1.0"/>
<rect x="80.25" y="146.92" width="4.00" height="7.30" fill="#ffffff" stroke="#707070" stroke-width="1.0"/>
<rect x="87.04" y="146.92" width="4.00" height="7.30" fill="#ffffff" stroke="#707070" stroke-width="1.0"/>
<rect x="93.83" y="146.92" width="4.00" height="7.30" fill="#ffffff" stroke="#707070" stroke-width="1.0"/>
<rect x="100.62" y="146.92" width="4.00" height="7.30" fill="#ffffff" stroke="#707070" stroke-width="1.0"/>
<rect x="107.41" y="146.92" width="4.00" height="7.30" fill="#ffffff" stroke="#707070" stroke-width="1.0"/>
<rect x="114.20" y="146.92" width="4.00" height="7.30" fill="#ffffff" stroke="#707070" stroke-width="1.0"/>
<rect x="120.99" y="146.92" width="4.00" height="7.30" fill="#ffffff" stroke="#707070" stroke-width="1.0"/>
<rect x="127.78" y="146.92" width="4.00" height="7.30" fill="#ffffff" stroke="#707070" stroke-width="1.0"/>
<rect x="134.57" y="146.92" width="4.00" height="7.30" fill="#ffffff" stroke="#707070" stroke-width="1.0"/>
<rect x="141.36" y="146.92" width="4.00" height="7.30" fill="#ffffff" stroke="#707070" stroke-width="1.0"/>
<rect x="148.15" y="146.92" width="4.00" height="7.30" fill="#ffffff" stroke="#707070" stroke-width="1.0"/>
<rect x="154.94" y="146.92" width="4.00" height="7.30" fill="#ffffff" stroke="#707070" stroke-width="1.0"/>
<rect x="161.73" y="146.92" width="4.00" height="7.30" fill="#ffffff" stroke="#707070" stroke-width="1.0"/>
<rect x="168.52" y="146.92" width="4.00" height="7.30" fill="#ffffff" stroke="#707070" stroke-width="1.0"/>
<rect x="175.31" y="146.92" width="4.00" height="7.30" fill="#ffffff" stroke="#707070" stroke-width="1.0"/>
<rect x="182.10" y="146.92" width="4.00" height="7.30" fill="#1a6b4a" stroke="#0c3524" stroke-width="1.0"/>
<rect x="188.89" y="146.92" width="4.00" height="7.30" fill="#1a6b4a" stroke="#0c3524" stroke-width="1.0"/>
<rect x="195.68" y="146.92" width="4.00" height="7.30" fill="#ffffff" stroke="#707070" stroke-width="1.0"/>
<rect x="202.47" y="146.92" width="4.00" height="7.30" fill="#ffffff" stroke="#707070" stroke-width="1.0"/>
<rect x="209.26" y="146.92" width="4.00" height="7.30" fill="#1a6b4a" stroke="#0c3524" stroke-width="1.0"/>
<rect x="216.05" y="146.92" width="4.00" height="7.30" fill="#1a6b4a" stroke="#0c3524" stroke-width="1.0"/>
<rect x="222.84" y="146.92" width="4.00" height="7.30" fill="#1a6b4a" stroke="#0c3524" stroke-width="1.0"/>
<rect x="229.63" y="146.92" width="4.00" height="7.30" fill="#3cbc46" stroke="#1a5a20" stroke-width="1.0"/>
<text x="43.40" y="163.53" font-size="7.9" text-anchor="end" font-style="italic" fill="#231f20" stroke="#231f20" stroke-width="0.2">ACIN1</text>
<rect x="46.30" y="157.13" width="4.00" height="7.30" fill="#ffffff" stroke="#707070" stroke-width="1.0"/>
<rect x="53.09" y="157.13" width="4.00" height="7.30" fill="#ffffff" stroke="#707070" stroke-width="1.0"/>
<rect x="59.88" y="157.13" width="4.00" height="7.30" fill="#ffffff" stroke="#707070" stroke-width="1.0"/>
<rect x="66.67" y="157.13" width="4.00" height="7.30" fill="#ffffff" stroke="#707070" stroke-width="1.0"/>
<rect x="73.46" y="157.13" width="4.00" height="7.30" fill="#ffffff" stroke="#707070" stroke-width="1.0"/>
<rect x="80.25" y="157.13" width="4.00" height="7.30" fill="#ffffff" stroke="#707070" stroke-width="1.0"/>
<rect x="87.04" y="157.13" width="4.00" height="7.30" fill="#1a6b4a" stroke="#0c3524" stroke-width="1.0"/>
<rect x="93.83" y="157.13" width="4.00" height="7.30" fill="#1a6b4a" stroke="#0c3524" stroke-width="1.0"/>
<rect x="100.62" y="157.13" width="4.00" height="7.30" fill="#ffffff" stroke="#707070" stroke-width="1.0"/>
<rect x="107.41" y="157.13" width="4.00" height="7.30" fill="#ffffff" stroke="#707070" stroke-width="1.0"/>
<rect x="114.20" y="157.13" width="4.00" height="7.30" fill="#ffffff" stroke="#707070" stroke-width="1.0"/>
<rect x="120.99" y="157.13" width="4.00" height="7.30" fill="#ffffff" stroke="#707070" stroke-width="1.0"/>
<rect x="127.78" y="157.13" width="4.00" height="7.30" fill="#ffffff" stroke="#707070" stroke-width="1.0"/>
<rect x="134.57" y="157.13" width="4.00" height="7.30" fill="#ffffff" stroke="#707070" stroke-width="1.0"/>
<rect x="141.36" y="157.13" width="4.00" height="7.30" fill="#ffffff" stroke="#707070" stroke-width="1.0"/>
<rect x="148.15" y="157.13" width="4.00" height="7.30" fill="#ffffff" stroke="#707070" stroke-width="1.0"/>
<rect x="154.94" y="157.13" width="4.00" height="7.30" fill="#ffffff" stroke="#707070" stroke-width="1.0"/>
<rect x="161.73" y="157.13" width="4.00" height="7.30" fill="#ffffff" stroke="#707070" stroke-width="1.0"/>
<rect x="168.52" y="157.13" width="4.00" height="7.30" fill="#ffffff" stroke="#707070" stroke-width="1.0"/>
<rect x="175.31" y="157.13" width="4.00" height="7.30" fill="#ffffff" stroke="#707070" stroke-width="1.0"/>
<rect x="182.10" y="157.13" width="4.00" height="7.30" fill="#ffffff" stroke="#707070" stroke-width="1.0"/>
<rect x="188.89" y="157.13" width="4.00" height="7.30" fill="#ffffff" stroke="#707070" stroke-width="1.0"/>
<rect x="195.68" y="157.13" width="4.00" height="7.30" fill="#ffffff" stroke="#707070" stroke-width="1.0"/>
<rect x="202.47" y="157.13" width="4.00" height="7.30" fill="#ffffff" stroke="#707070" stroke-width="1.0"/>
<rect x="209.26" y="157.13" width="4.00" height="7.30" fill="#1a6b4a" stroke="#0c3524" stroke-width="1.0"/>
<rect x="216.05" y="157.13" width="4.00" height="7.30" fill="#1a6b4a" stroke="#0c3524" stroke-width="1.0"/>
<rect x="222.84" y="157.13" width="4.00" height="7.30" fill="#ffffff" stroke="#707070" stroke-width="1.0"/>
<rect x="229.63" y="157.13" width="4.00" height="7.30" fill="#ffffff" stroke="#707070" stroke-width="1.0"/>
<text x="43.40" y="173.75" font-size="7.9" text-anchor="end" fill="#231f20" stroke="#231f20" stroke-width="0.2">Amp 9q</text>
<rect x="46.30" y="167.35" width="4.00" height="7.30" fill="#ffffff" stroke="#707070" stroke-width="1.0"/>
<rect x="53.09" y="167.35" width="4.00" height="7.30" fill="#ffffff" stroke="#707070" stroke-width="1.0"/>
<rect x="59.88" y="167.35" width="4.00" height="7.30" fill="#ffffff" stroke="#707070" stroke-width="1.0"/>
<rect x="66.67" y="167.35" width="4.00" height="7.30" fill="#ffffff" stroke="#707070" stroke-width="1.0"/>
<rect x="73.46" y="167.35" width="4.00" height="7.30" fill="#ffffff" stroke="#707070" stroke-width="1.0"/>
<rect x="80.25" y="167.35" width="4.00" height="7.30" fill="#ffffff" stroke="#707070" stroke-width="1.0"/>
<rect x="87.04" y="167.35" width="4.00" height="7.30" fill="#ffffff" stroke="#707070" stroke-width="1.0"/>
<rect x="93.83" y="167.35" width="4.00" height="7.30" fill="#ffffff" stroke="#707070" stroke-width="1.0"/>
<rect x="100.62" y="167.35" width="4.00" height="7.30" fill="#ffffff" stroke="#707070" stroke-width="1.0"/>
<rect x="107.41" y="167.35" width="4.00" height="7.30" fill="#ffffff" stroke="#707070" stroke-width="1.0"/>
<rect x="114.20" y="167.35" width="4.00" height="7.30" fill="#ffffff" stroke="#707070" stroke-width="1.0"/>
<rect x="120.99" y="167.35" width="4.00" height="7.30" fill="#ffffff" stroke="#707070" stroke-width="1.0"/>
<rect x="127.78" y="167.35" width="4.00" height="7.30" fill="#ffffff" stroke="#707070" stroke-width="1.0"/>
<rect x="134.57" y="167.35" width="4.00" height="7.30" fill="#ffffff" stroke="#707070" stroke-width="1.0"/>
<rect x="141.36" y="167.35" width="4.00" height="7.30" fill="#ffffff" stroke="#707070" stroke-width="1.0"/>
<rect x="148.15" y="167.35" width="4.00" height="7.30" fill="#ffffff" stroke="#707070" stroke-width="1.0"/>
<rect x="154.94" y="167.35" width="4.00" height="7.30" fill="#ffffff" stroke="#707070" stroke-width="1.0"/>
<rect x="161.73" y="167.35" width="4.00" height="7.30" fill="#ffffff" stroke="#707070" stroke-width="1.0"/>
<rect x="168.52" y="167.35" width="4.00" height="7.30" fill="#ffffff" stroke="#707070" stroke-width="1.0"/>
<rect x="175.31" y="167.35" width="4.00" height="7.30" fill="#ffffff" stroke="#707070" stroke-width="1.0"/>
<rect x="182.10" y="167.35" width="4.00" height="7.30" fill="#a6c2e0" stroke="#5c6c84" stroke-width="1.0"/>
<rect x="188.89" y="167.35" width="4.00" height="7.30" fill="#a6c2e0" stroke="#5c6c84" stroke-width="1.0"/>
<rect x="195.68" y="167.35" width="4.00" height="7.30" fill="#ffffff" stroke="#707070" stroke-width="1.0"/>
<rect x="202.47" y="167.35" width="4.00" height="7.30" fill="#ffffff" stroke="#707070" stroke-width="1.0"/>
<rect x="209.26" y="167.35" width="4.00" height="7.30" fill="#a6c2e0" stroke="#5c6c84" stroke-width="1.0"/>
<rect x="216.05" y="167.35" width="4.00" height="7.30" fill="#a6c2e0" stroke="#5c6c84" stroke-width="1.0"/>
<rect x="222.84" y="167.35" width="4.00" height="7.30" fill="#ffffff" stroke="#707070" stroke-width="1.0"/>
<rect x="229.63" y="167.35" width="4.00" height="7.30" fill="#ffffff" stroke="#707070" stroke-width="1.0"/>
<text x="43.40" y="183.97" font-size="7.9" text-anchor="end" font-style="italic" fill="#231f20" stroke="#231f20" stroke-width="0.2">ARID1B</text>
<rect x="46.30" y="177.57" width="4.00" height="7.30" fill="#ffffff" stroke="#707070" stroke-width="1.0"/>
<rect x="53.09" y="177.57" width="4.00" height="7.30" fill="#ffffff" stroke="#707070" stroke-width="1.0"/>
<rect x="59.88" y="177.57" width="4.00" height="7.30" fill="#ffffff" stroke="#707070" stroke-width="1.0"/>
<rect x="66.67" y="177.57" width="4.00" height="7.30" fill="#ffffff" stroke="#707070" stroke-width="1.0"/>
<rect x="73.46" y="177.57" width="4.00" height="7.30" fill="#ffffff" stroke="#707070" stroke-width="1.0"/>
<rect x="80.25" y="177.57" width="4.00" height="7.30" fill="#ffffff" stroke="#707070" stroke-width="1.0"/>
<rect x="87.04" y="177.57" width="4.00" height="7.30" fill="#ffffff" stroke="#707070" stroke-width="1.0"/>
<rect x="93.83" y="177.57" width="4.00" height="7.30" fill="#ffffff" stroke="#707070" stroke-width="1.0"/>
<rect x="100.62" y="177.57" width="4.00" height="7.30" fill="#ffffff" stroke="#707070" stroke-width="1.0"/>
<rect x="107.41" y="177.57" width="4.00" height="7.30" fill="#ffffff" stroke="#707070" stroke-width="1.0"/>
<rect x="114.20" y="177.57" width="4.00" height="7.30" fill="#ffffff" stroke="#707070" stroke-width="1.0"/>
<rect x="120.99" y="177.57" width="4.00" height="7.30" fill="#ffffff" stroke="#707070" stroke-width="1.0"/>
<rect x="127.78" y="177.57" width="4.00" height="7.30" fill="#ffffff" stroke="#707070" stroke-width="1.0"/>
<rect x="134.57" y="177.57" width="4.00" height="7.30" fill="#ffffff" stroke="#707070" stroke-width="1.0"/>
<rect x="141.36" y="177.57" width="4.00" height="7.30" fill="#ffffff" stroke="#707070" stroke-width="1.0"/>
<rect x="148.15" y="177.57" width="4.00" height="7.30" fill="#ffffff" stroke="#707070" stroke-width="1.0"/>
<rect x="154.94" y="177.57" width="4.00" height="7.30" fill="#ffffff" stroke="#707070" stroke-width="1.0"/>
<rect x="161.73" y="177.57" width="4.00" height="7.30" fill="#ffffff" stroke="#707070" stroke-width="1.0"/>
<rect x="168.52" y="177.57" width="4.00" height="7.30" fill="#ffffff" stroke="#707070" stroke-width="1.0"/>
<rect x="175.31" y="177.57" width="4.00" height="7.30" fill="#ffffff" stroke="#707070" stroke-width="1.0"/>
<rect x="182.10" y="177.57" width="4.00" height="7.30" fill="#ffffff" stroke="#707070" stroke-width="1.0"/>
<rect x="188.89" y="177.57" width="4.00" height="7.30" fill="#ffffff" stroke="#707070" stroke-width="1.0"/>
<rect x="195.68" y="177.57" width="4.00" height="7.30" fill="#ffffff" stroke="#707070" stroke-width="1.0"/>
<rect x="202.47" y="177.57" width="4.00" height="7.30" fill="#ffffff" stroke="#707070" stroke-width="1.0"/>
<rect x="209.26" y="177.57" width="4.00" height="7.30" fill="#ffffff" stroke="#707070" stroke-width="1.0"/>
<rect x="216.05" y="177.57" width="4.00" height="7.30" fill="#ffffff" stroke="#707070" stroke-width="1.0"/>
<rect x="222.84" y="177.57" width="4.00" height="7.30" fill="#ea5fae" stroke="#8a3464" stroke-width="1.0"/>
<rect x="229.63" y="177.57" width="4.00" height="7.30" fill="#ea5fae" stroke="#8a3464" stroke-width="1.0"/>
<text x="43.40" y="194.19" font-size="7.9" text-anchor="end" font-style="italic" fill="#231f20" stroke="#231f20" stroke-width="0.2">ARMC4</text>
<rect x="46.30" y="187.79" width="4.00" height="7.30" fill="#ffffff" stroke="#707070" stroke-width="1.0"/>
<rect x="53.09" y="187.79" width="4.00" height="7.30" fill="#ffffff" stroke="#707070" stroke-width="1.0"/>
<rect x="59.88" y="187.79" width="4.00" height="7.30" fill="#ffffff" stroke="#707070" stroke-width="1.0"/>
<rect x="66.67" y="187.79" width="4.00" height="7.30" fill="#ffffff" stroke="#707070" stroke-width="1.0"/>
<rect x="73.46" y="187.79" width="4.00" height="7.30" fill="#ffffff" stroke="#707070" stroke-width="1.0"/>
<rect x="80.25" y="187.79" width="4.00" height="7.30" fill="#ffffff" stroke="#707070" stroke-width="1.0"/>
<rect x="87.04" y="187.79" width="4.00" height="7.30" fill="#ffffff" stroke="#707070" stroke-width="1.0"/>
<rect x="93.83" y="187.79" width="4.00" height="7.30" fill="#ffffff" stroke="#707070" stroke-width="1.0"/>
<rect x="100.62" y="187.79" width="4.00" height="7.30" fill="#f4c624" stroke="#8a7010" stroke-width="1.0"/>
<rect x="107.41" y="187.79" width="4.00" height="7.30" fill="#f4c624" stroke="#8a7010" stroke-width="1.0"/>
<rect x="114.20" y="187.79" width="4.00" height="7.30" fill="#ffffff" stroke="#707070" stroke-width="1.0"/>
<rect x="120.99" y="187.79" width="4.00" height="7.30" fill="#ffffff" stroke="#707070" stroke-width="1.0"/>
<rect x="127.78" y="187.79" width="4.00" height="7.30" fill="#ffffff" stroke="#707070" stroke-width="1.0"/>
<rect x="134.57" y="187.79" width="4.00" height="7.30" fill="#ffffff" stroke="#707070" stroke-width="1.0"/>
<rect x="141.36" y="187.79" width="4.00" height="7.30" fill="#ffffff" stroke="#707070" stroke-width="1.0"/>
<rect x="148.15" y="187.79" width="4.00" height="7.30" fill="#ffffff" stroke="#707070" stroke-width="1.0"/>
<rect x="154.94" y="187.79" width="4.00" height="7.30" fill="#ffffff" stroke="#707070" stroke-width="1.0"/>
<rect x="161.73" y="187.79" width="4.00" height="7.30" fill="#ffffff" stroke="#707070" stroke-width="1.0"/>
<rect x="168.52" y="187.79" width="4.00" height="7.30" fill="#ffffff" stroke="#707070" stroke-width="1.0"/>
<rect x="175.31" y="187.79" width="4.00" height="7.30" fill="#ffffff" stroke="#707070" stroke-width="1.0"/>
<rect x="182.10" y="187.79" width="4.00" height="7.30" fill="#ffffff" stroke="#707070" stroke-width="1.0"/>
<rect x="188.89" y="187.79" width="4.00" height="7.30" fill="#ffffff" stroke="#707070" stroke-width="1.0"/>
<rect x="195.68" y="187.79" width="4.00" height="7.30" fill="#ffffff" stroke="#707070" stroke-width="1.0"/>
<rect x="202.47" y="187.79" width="4.00" height="7.30" fill="#ffffff" stroke="#707070" stroke-width="1.0"/>
<rect x="209.26" y="187.79" width="4.00" height="7.30" fill="#ffffff" stroke="#707070" stroke-width="1.0"/>
<rect x="216.05" y="187.79" width="4.00" height="7.30" fill="#ffffff" stroke="#707070" stroke-width="1.0"/>
<rect x="222.84" y="187.79" width="4.00" height="7.30" fill="#ffffff" stroke="#707070" stroke-width="1.0"/>
<rect x="229.63" y="187.79" width="4.00" height="7.30" fill="#ffffff" stroke="#707070" stroke-width="1.0"/>
<text x="43.40" y="204.41" font-size="7.9" text-anchor="end" font-style="italic" fill="#231f20" stroke="#231f20" stroke-width="0.2">ASXL2</text>
<rect x="46.30" y="198.01" width="4.00" height="7.30" fill="#8c74aa" stroke="#4e4066" stroke-width="1.0"/>
<rect x="53.09" y="198.01" width="4.00" height="7.30" fill="#8c74aa" stroke="#4e4066" stroke-width="1.0"/>
<rect x="59.88" y="198.01" width="4.00" height="7.30" fill="#ffffff" stroke="#707070" stroke-width="1.0"/>
<rect x="66.67" y="198.01" width="4.00" height="7.30" fill="#ffffff" stroke="#707070" stroke-width="1.0"/>
<rect x="73.46" y="198.01" width="4.00" height="7.30" fill="#ffffff" stroke="#707070" stroke-width="1.0"/>
<rect x="80.25" y="198.01" width="4.00" height="7.30" fill="#ffffff" stroke="#707070" stroke-width="1.0"/>
<rect x="87.04" y="198.01" width="4.00" height="7.30" fill="#ffffff" stroke="#707070" stroke-width="1.0"/>
<rect x="93.83" y="198.01" width="4.00" height="7.30" fill="#ffffff" stroke="#707070" stroke-width="1.0"/>
<rect x="100.62" y="198.01" width="4.00" height="7.30" fill="#ffffff" stroke="#707070" stroke-width="1.0"/>
<rect x="107.41" y="198.01" width="4.00" height="7.30" fill="#ffffff" stroke="#707070" stroke-width="1.0"/>
<rect x="114.20" y="198.01" width="4.00" height="7.30" fill="#8c74aa" stroke="#4e4066" stroke-width="1.0"/>
<rect x="120.99" y="198.01" width="4.00" height="7.30" fill="#8c74aa" stroke="#4e4066" stroke-width="1.0"/>
<rect x="127.78" y="198.01" width="4.00" height="7.30" fill="#ffffff" stroke="#707070" stroke-width="1.0"/>
<rect x="134.57" y="198.01" width="4.00" height="7.30" fill="#ffffff" stroke="#707070" stroke-width="1.0"/>
<rect x="141.36" y="198.01" width="4.00" height="7.30" fill="#ffffff" stroke="#707070" stroke-width="1.0"/>
<rect x="148.15" y="198.01" width="4.00" height="7.30" fill="#ffffff" stroke="#707070" stroke-width="1.0"/>
<rect x="154.94" y="198.01" width="4.00" height="7.30" fill="#ffffff" stroke="#707070" stroke-width="1.0"/>
<rect x="161.73" y="198.01" width="4.00" height="7.30" fill="#ffffff" stroke="#707070" stroke-width="1.0"/>
<rect x="168.52" y="198.01" width="4.00" height="7.30" fill="#ffffff" stroke="#707070" stroke-width="1.0"/>
<rect x="175.31" y="198.01" width="4.00" height="7.30" fill="#ffffff" stroke="#707070" stroke-width="1.0"/>
<rect x="182.10" y="198.01" width="4.00" height="7.30" fill="#ffffff" stroke="#707070" stroke-width="1.0"/>
<rect x="188.89" y="198.01" width="4.00" height="7.30" fill="#ffffff" stroke="#707070" stroke-width="1.0"/>
<rect x="195.68" y="198.01" width="4.00" height="7.30" fill="#ffffff" stroke="#707070" stroke-width="1.0"/>
<rect x="202.47" y="198.01" width="4.00" height="7.30" fill="#ffffff" stroke="#707070" stroke-width="1.0"/>
<rect x="209.26" y="198.01" width="4.00" height="7.30" fill="#ffffff" stroke="#707070" stroke-width="1.0"/>
<rect x="216.05" y="198.01" width="4.00" height="7.30" fill="#ffffff" stroke="#707070" stroke-width="1.0"/>
<rect x="222.84" y="198.01" width="4.00" height="7.30" fill="#ffffff" stroke="#707070" stroke-width="1.0"/>
<rect x="229.63" y="198.01" width="4.00" height="7.30" fill="#ffffff" stroke="#707070" stroke-width="1.0"/>
<text x="43.40" y="214.62" font-size="7.9" text-anchor="end" fill="#231f20" stroke="#231f20" stroke-width="0.2">Del 9q</text>
<rect x="46.30" y="208.22" width="4.00" height="7.30" fill="#ffffff" stroke="#707070" stroke-width="1.0"/>
<rect x="53.09" y="208.22" width="4.00" height="7.30" fill="#ffffff" stroke="#707070" stroke-width="1.0"/>
<rect x="59.88" y="208.22" width="4.00" height="7.30" fill="#ffffff" stroke="#707070" stroke-width="1.0"/>
<rect x="66.67" y="208.22" width="4.00" height="7.30" fill="#ffffff" stroke="#707070" stroke-width="1.0"/>
<rect x="73.46" y="208.22" width="4.00" height="7.30" fill="#ffffff" stroke="#707070" stroke-width="1.0"/>
<rect x="80.25" y="208.22" width="4.00" height="7.30" fill="#ffffff" stroke="#707070" stroke-width="1.0"/>
<rect x="87.04" y="208.22" width="4.00" height="7.30" fill="#ffffff" stroke="#707070" stroke-width="1.0"/>
<rect x="93.83" y="208.22" width="4.00" height="7.30" fill="#ffffff" stroke="#707070" stroke-width="1.0"/>
<rect x="100.62" y="208.22" width="4.00" height="7.30" fill="#ffffff" stroke="#707070" stroke-width="1.0"/>
<rect x="107.41" y="208.22" width="4.00" height="7.30" fill="#ffffff" stroke="#707070" stroke-width="1.0"/>
<rect x="114.20" y="208.22" width="4.00" height="7.30" fill="#ffffff" stroke="#707070" stroke-width="1.0"/>
<rect x="120.99" y="208.22" width="4.00" height="7.30" fill="#ffffff" stroke="#707070" stroke-width="1.0"/>
<rect x="127.78" y="208.22" width="4.00" height="7.30" fill="#ffffff" stroke="#707070" stroke-width="1.0"/>
<rect x="134.57" y="208.22" width="4.00" height="7.30" fill="#ffffff" stroke="#707070" stroke-width="1.0"/>
<rect x="141.36" y="208.22" width="4.00" height="7.30" fill="#ffffff" stroke="#707070" stroke-width="1.0"/>
<rect x="148.15" y="208.22" width="4.00" height="7.30" fill="#ffffff" stroke="#707070" stroke-width="1.0"/>
<rect x="154.94" y="208.22" width="4.00" height="7.30" fill="#ffffff" stroke="#707070" stroke-width="1.0"/>
<rect x="161.73" y="208.22" width="4.00" height="7.30" fill="#ffffff" stroke="#707070" stroke-width="1.0"/>
<rect x="168.52" y="208.22" width="4.00" height="7.30" fill="#ffffff" stroke="#707070" stroke-width="1.0"/>
<rect x="175.31" y="208.22" width="4.00" height="7.30" fill="#ffffff" stroke="#707070" stroke-width="1.0"/>
<rect x="182.10" y="208.22" width="4.00" height="7.30" fill="#a6c2e0" stroke="#5c6c84" stroke-width="1.0"/>
<rect x="188.89" y="208.22" width="4.00" height="7.30" fill="#a6c2e0" stroke="#5c6c84" stroke-width="1.0"/>
<rect x="195.68" y="208.22" width="4.00" height="7.30" fill="#ffffff" stroke="#707070" stroke-width="1.0"/>
<rect x="202.47" y="208.22" width="4.00" height="7.30" fill="#ffffff" stroke="#707070" stroke-width="1.0"/>
<rect x="209.26" y="208.22" width="4.00" height="7.30" fill="#a6c2e0" stroke="#5c6c84" stroke-width="1.0"/>
<rect x="216.05" y="208.22" width="4.00" height="7.30" fill="#a6c2e0" stroke="#5c6c84" stroke-width="1.0"/>
<rect x="222.84" y="208.22" width="4.00" height="7.30" fill="#ffffff" stroke="#707070" stroke-width="1.0"/>
<rect x="229.63" y="208.22" width="4.00" height="7.30" fill="#ffffff" stroke="#707070" stroke-width="1.0"/>
<text x="43.40" y="224.84" font-size="7.9" text-anchor="end" font-style="italic" fill="#231f20" stroke="#231f20" stroke-width="0.2">DNAH5</text>
<rect x="46.30" y="218.44" width="4.00" height="7.30" fill="#ffffff" stroke="#707070" stroke-width="1.0"/>
<rect x="53.09" y="218.44" width="4.00" height="7.30" fill="#ffffff" stroke="#707070" stroke-width="1.0"/>
<rect x="59.88" y="218.44" width="4.00" height="7.30" fill="#ffffff" stroke="#707070" stroke-width="1.0"/>
<rect x="66.67" y="218.44" width="4.00" height="7.30" fill="#ffffff" stroke="#707070" stroke-width="1.0"/>
<rect x="73.46" y="218.44" width="4.00" height="7.30" fill="#ffffff" stroke="#707070" stroke-width="1.0"/>
<rect x="80.25" y="218.44" width="4.00" height="7.30" fill="#ffffff" stroke="#707070" stroke-width="1.0"/>
<rect x="87.04" y="218.44" width="4.00" height="7.30" fill="#ffffff" stroke="#707070" stroke-width="1.0"/>
<rect x="93.83" y="218.44" width="4.00" height="7.30" fill="#ffffff" stroke="#707070" stroke-width="1.0"/>
<rect x="100.62" y="218.44" width="4.00" height="7.30" fill="#3cbc46" stroke="#1a5a20" stroke-width="1.0"/>
<rect x="107.41" y="218.44" width="4.00" height="7.30" fill="#3cbc46" stroke="#1a5a20" stroke-width="1.0"/>
<rect x="114.20" y="218.44" width="4.00" height="7.30" fill="#ffffff" stroke="#707070" stroke-width="1.0"/>
<rect x="120.99" y="218.44" width="4.00" height="7.30" fill="#ffffff" stroke="#707070" stroke-width="1.0"/>
<rect x="127.78" y="218.44" width="4.00" height="7.30" fill="#ffffff" stroke="#707070" stroke-width="1.0"/>
<rect x="134.57" y="218.44" width="4.00" height="7.30" fill="#ffffff" stroke="#707070" stroke-width="1.0"/>
<rect x="141.36" y="218.44" width="4.00" height="7.30" fill="#3cbc46" stroke="#1a5a20" stroke-width="1.0"/>
<rect x="148.15" y="218.44" width="4.00" height="7.30" fill="#3cbc46" stroke="#1a5a20" stroke-width="1.0"/>
<rect x="154.94" y="218.44" width="4.00" height="7.30" fill="#ffffff" stroke="#707070" stroke-width="1.0"/>
<rect x="161.73" y="218.44" width="4.00" height="7.30" fill="#ffffff" stroke="#707070" stroke-width="1.0"/>
<rect x="168.52" y="218.44" width="4.00" height="7.30" fill="#ffffff" stroke="#707070" stroke-width="1.0"/>
<rect x="175.31" y="218.44" width="4.00" height="7.30" fill="#ffffff" stroke="#707070" stroke-width="1.0"/>
<rect x="182.10" y="218.44" width="4.00" height="7.30" fill="#ffffff" stroke="#707070" stroke-width="1.0"/>
<rect x="188.89" y="218.44" width="4.00" height="7.30" fill="#ffffff" stroke="#707070" stroke-width="1.0"/>
<rect x="195.68" y="218.44" width="4.00" height="7.30" fill="#ffffff" stroke="#707070" stroke-width="1.0"/>
<rect x="202.47" y="218.44" width="4.00" height="7.30" fill="#ffffff" stroke="#707070" stroke-width="1.0"/>
<rect x="209.26" y="218.44" width="4.00" height="7.30" fill="#ffffff" stroke="#707070" stroke-width="1.0"/>
<rect x="216.05" y="218.44" width="4.00" height="7.30" fill="#ffffff" stroke="#707070" stroke-width="1.0"/>
<rect x="222.84" y="218.44" width="4.00" height="7.30" fill="#ffffff" stroke="#707070" stroke-width="1.0"/>
<rect x="229.63" y="218.44" width="4.00" height="7.30" fill="#ffffff" stroke="#707070" stroke-width="1.0"/>
<text x="43.40" y="235.06" font-size="7.9" text-anchor="end" font-style="italic" fill="#231f20" stroke="#231f20" stroke-width="0.2">EWSR1</text>
<rect x="46.30" y="228.66" width="4.00" height="7.30" fill="#ffffff" stroke="#707070" stroke-width="1.0"/>
<rect x="53.09" y="228.66" width="4.00" height="7.30" fill="#ffffff" stroke="#707070" stroke-width="1.0"/>
<rect x="59.88" y="228.66" width="4.00" height="7.30" fill="#ffffff" stroke="#707070" stroke-width="1.0"/>
<rect x="66.67" y="228.66" width="4.00" height="7.30" fill="#ffffff" stroke="#707070" stroke-width="1.0"/>
<rect x="73.46" y="228.66" width="4.00" height="7.30" fill="#e6137c" stroke="#7e0a44" stroke-width="1.0"/>
<rect x="80.25" y="228.66" width="4.00" height="7.30" fill="#e6137c" stroke="#7e0a44" stroke-width="1.0"/>
<rect x="87.04" y="228.66" width="4.00" height="7.30" fill="#ffffff" stroke="#707070" stroke-width="1.0"/>
<rect x="93.83" y="228.66" width="4.00" height="7.30" fill="#ffffff" stroke="#707070" stroke-width="1.0"/>
<rect x="100.62" y="228.66" width="4.00" height="7.30" fill="#ffffff" stroke="#707070" stroke-width="1.0"/>
<rect x="107.41" y="228.66" width="4.00" height="7.30" fill="#ffffff" stroke="#707070" stroke-width="1.0"/>
<rect x="114.20" y="228.66" width="4.00" height="7.30" fill="#ffffff" stroke="#707070" stroke-width="1.0"/>
<rect x="120.99" y="228.66" width="4.00" height="7.30" fill="#ffffff" stroke="#707070" stroke-width="1.0"/>
<rect x="127.78" y="228.66" width="4.00" height="7.30" fill="#ffffff" stroke="#707070" stroke-width="1.0"/>
<rect x="134.57" y="228.66" width="4.00" height="7.30" fill="#ffffff" stroke="#707070" stroke-width="1.0"/>
<rect x="141.36" y="228.66" width="4.00" height="7.30" fill="#ffffff" stroke="#707070" stroke-width="1.0"/>
<rect x="148.15" y="228.66" width="4.00" height="7.30" fill="#ffffff" stroke="#707070" stroke-width="1.0"/>
<rect x="154.94" y="228.66" width="4.00" height="7.30" fill="#ffffff" stroke="#707070" stroke-width="1.0"/>
<rect x="161.73" y="228.66" width="4.00" height="7.30" fill="#ffffff" stroke="#707070" stroke-width="1.0"/>
<rect x="168.52" y="228.66" width="4.00" height="7.30" fill="#ffffff" stroke="#707070" stroke-width="1.0"/>
<rect x="175.31" y="228.66" width="4.00" height="7.30" fill="#ffffff" stroke="#707070" stroke-width="1.0"/>
<rect x="182.10" y="228.66" width="4.00" height="7.30" fill="#ffffff" stroke="#707070" stroke-width="1.0"/>
<rect x="188.89" y="228.66" width="4.00" height="7.30" fill="#ffffff" stroke="#707070" stroke-width="1.0"/>
<rect x="195.68" y="228.66" width="4.00" height="7.30" fill="#ffffff" stroke="#707070" stroke-width="1.0"/>
<rect x="202.47" y="228.66" width="4.00" height="7.30" fill="#ffffff" stroke="#707070" stroke-width="1.0"/>
<rect x="209.26" y="228.66" width="4.00" height="7.30" fill="#ffffff" stroke="#707070" stroke-width="1.0"/>
<rect x="216.05" y="228.66" width="4.00" height="7.30" fill="#ffffff" stroke="#707070" stroke-width="1.0"/>
<rect x="222.84" y="228.66" width="4.00" height="7.30" fill="#ffffff" stroke="#707070" stroke-width="1.0"/>
<rect x="229.63" y="228.66" width="4.00" height="7.30" fill="#ffffff" stroke="#707070" stroke-width="1.0"/>
<text x="43.40" y="245.28" font-size="7.9" text-anchor="end" font-style="italic" fill="#231f20" stroke="#231f20" stroke-width="0.2">FBN1</text>
<rect x="46.30" y="238.88" width="4.00" height="7.30" fill="#ffffff" stroke="#707070" stroke-width="1.0"/>
<rect x="53.09" y="238.88" width="4.00" height="7.30" fill="#ffffff" stroke="#707070" stroke-width="1.0"/>
<rect x="59.88" y="238.88" width="4.00" height="7.30" fill="#ffffff" stroke="#707070" stroke-width="1.0"/>
<rect x="66.67" y="238.88" width="4.00" height="7.30" fill="#ffffff" stroke="#707070" stroke-width="1.0"/>
<rect x="73.46" y="238.88" width="4.00" height="7.30" fill="#3cbc46" stroke="#1a5a20" stroke-width="1.0"/>
<rect x="80.25" y="238.88" width="4.00" height="7.30" fill="#3cbc46" stroke="#1a5a20" stroke-width="1.0"/>
<rect x="87.04" y="238.88" width="4.00" height="7.30" fill="#ffffff" stroke="#707070" stroke-width="1.0"/>
<rect x="93.83" y="238.88" width="4.00" height="7.30" fill="#ffffff" stroke="#707070" stroke-width="1.0"/>
<rect x="100.62" y="238.88" width="4.00" height="7.30" fill="#ffffff" stroke="#707070" stroke-width="1.0"/>
<rect x="107.41" y="238.88" width="4.00" height="7.30" fill="#ffffff" stroke="#707070" stroke-width="1.0"/>
<rect x="114.20" y="238.88" width="4.00" height="7.30" fill="#3cbc46" stroke="#1a5a20" stroke-width="1.0"/>
<rect x="120.99" y="238.88" width="4.00" height="7.30" fill="#1a6b4a" stroke="#0c3524" stroke-width="1.0"/>
<rect x="127.78" y="238.88" width="4.00" height="7.30" fill="#ffffff" stroke="#707070" stroke-width="1.0"/>
<rect x="134.57" y="238.88" width="4.00" height="7.30" fill="#ffffff" stroke="#707070" stroke-width="1.0"/>
<rect x="141.36" y="238.88" width="4.00" height="7.30" fill="#ffffff" stroke="#707070" stroke-width="1.0"/>
<rect x="148.15" y="238.88" width="4.00" height="7.30" fill="#ffffff" stroke="#707070" stroke-width="1.0"/>
<rect x="154.94" y="238.88" width="4.00" height="7.30" fill="#ffffff" stroke="#707070" stroke-width="1.0"/>
<rect x="161.73" y="238.88" width="4.00" height="7.30" fill="#ffffff" stroke="#707070" stroke-width="1.0"/>
<rect x="168.52" y="238.88" width="4.00" height="7.30" fill="#ffffff" stroke="#707070" stroke-width="1.0"/>
<rect x="175.31" y="238.88" width="4.00" height="7.30" fill="#ffffff" stroke="#707070" stroke-width="1.0"/>
<rect x="182.10" y="238.88" width="4.00" height="7.30" fill="#ffffff" stroke="#707070" stroke-width="1.0"/>
<rect x="188.89" y="238.88" width="4.00" height="7.30" fill="#ffffff" stroke="#707070" stroke-width="1.0"/>
<rect x="195.68" y="238.88" width="4.00" height="7.30" fill="#ffffff" stroke="#707070" stroke-width="1.0"/>
<rect x="202.47" y="238.88" width="4.00" height="7.30" fill="#ffffff" stroke="#707070" stroke-width="1.0"/>
<rect x="209.26" y="238.88" width="4.00" height="7.30" fill="#ffffff" stroke="#707070" stroke-width="1.0"/>
<rect x="216.05" y="238.88" width="4.00" height="7.30" fill="#ffffff" stroke="#707070" stroke-width="1.0"/>
<rect x="222.84" y="238.88" width="4.00" height="7.30" fill="#ffffff" stroke="#707070" stroke-width="1.0"/>
<rect x="229.63" y="238.88" width="4.00" height="7.30" fill="#ffffff" stroke="#707070" stroke-width="1.0"/>
<text x="43.40" y="255.50" font-size="7.9" text-anchor="end" font-style="italic" fill="#231f20" stroke="#231f20" stroke-width="0.2">FBXW7</text>
<rect x="46.30" y="249.10" width="4.00" height="7.30" fill="#ffffff" stroke="#707070" stroke-width="1.0"/>
<rect x="53.09" y="249.10" width="4.00" height="7.30" fill="#ffffff" stroke="#707070" stroke-width="1.0"/>
<rect x="59.88" y="249.10" width="4.00" height="7.30" fill="#ffffff" stroke="#707070" stroke-width="1.0"/>
<rect x="66.67" y="249.10" width="4.00" height="7.30" fill="#ffffff" stroke="#707070" stroke-width="1.0"/>
<rect x="73.46" y="249.10" width="4.00" height="7.30" fill="#ffffff" stroke="#707070" stroke-width="1.0"/>
<rect x="80.25" y="249.10" width="4.00" height="7.30" fill="#ffffff" stroke="#707070" stroke-width="1.0"/>
<rect x="87.04" y="249.10" width="4.00" height="7.30" fill="#ffffff" stroke="#707070" stroke-width="1.0"/>
<rect x="93.83" y="249.10" width="4.00" height="7.30" fill="#ffffff" stroke="#707070" stroke-width="1.0"/>
<rect x="100.62" y="249.10" width="4.00" height="7.30" fill="#ffffff" stroke="#707070" stroke-width="1.0"/>
<rect x="107.41" y="249.10" width="4.00" height="7.30" fill="#ffffff" stroke="#707070" stroke-width="1.0"/>
<rect x="114.20" y="249.10" width="4.00" height="7.30" fill="#ffffff" stroke="#707070" stroke-width="1.0"/>
<rect x="120.99" y="249.10" width="4.00" height="7.30" fill="#ffffff" stroke="#707070" stroke-width="1.0"/>
<rect x="127.78" y="249.10" width="4.00" height="7.30" fill="#ffffff" stroke="#707070" stroke-width="1.0"/>
<rect x="134.57" y="249.10" width="4.00" height="7.30" fill="#ffffff" stroke="#707070" stroke-width="1.0"/>
<rect x="141.36" y="249.10" width="4.00" height="7.30" fill="#ffffff" stroke="#707070" stroke-width="1.0"/>
<rect x="148.15" y="249.10" width="4.00" height="7.30" fill="#ffffff" stroke="#707070" stroke-width="1.0"/>
<rect x="154.94" y="249.10" width="4.00" height="7.30" fill="#ffffff" stroke="#707070" stroke-width="1.0"/>
<rect x="161.73" y="249.10" width="4.00" height="7.30" fill="#ffffff" stroke="#707070" stroke-width="1.0"/>
<rect x="168.52" y="249.10" width="4.00" height="7.30" fill="#ffffff" stroke="#707070" stroke-width="1.0"/>
<rect x="175.31" y="249.10" width="4.00" height="7.30" fill="#ffffff" stroke="#707070" stroke-width="1.0"/>
<rect x="182.10" y="249.10" width="4.00" height="7.30" fill="#ffffff" stroke="#707070" stroke-width="1.0"/>
<rect x="188.89" y="249.10" width="4.00" height="7.30" fill="#ffffff" stroke="#707070" stroke-width="1.0"/>
<rect x="195.68" y="249.10" width="4.00" height="7.30" fill="#ffffff" stroke="#707070" stroke-width="1.0"/>
<rect x="202.47" y="249.10" width="4.00" height="7.30" fill="#ffffff" stroke="#707070" stroke-width="1.0"/>
<rect x="209.26" y="249.10" width="4.00" height="7.30" fill="#3cbc46" stroke="#1a5a20" stroke-width="1.0"/>
<rect x="216.05" y="249.10" width="4.00" height="7.30" fill="#3cbc46" stroke="#1a5a20" stroke-width="1.0"/>
<rect x="222.84" y="249.10" width="4.00" height="7.30" fill="#4b2375" stroke="#2a1242" stroke-width="1.0"/>
<rect x="229.63" y="249.10" width="4.00" height="7.30" fill="#8c74aa" stroke="#4e4066" stroke-width="1.0"/>
<text x="43.40" y="265.71" font-size="7.9" text-anchor="end" font-style="italic" fill="#231f20" stroke="#231f20" stroke-width="0.2">GLS</text>
<rect x="46.30" y="259.31" width="4.00" height="7.30" fill="#ffffff" stroke="#707070" stroke-width="1.0"/>
<rect x="53.09" y="259.31" width="4.00" height="7.30" fill="#ffffff" stroke="#707070" stroke-width="1.0"/>
<rect x="59.88" y="259.31" width="4.00" height="7.30" fill="#3cbc46" stroke="#1a5a20" stroke-width="1.0"/>
<rect x="66.67" y="259.31" width="4.00" height="7.30" fill="#3cbc46" stroke="#1a5a20" stroke-width="1.0"/>
<rect x="73.46" y="259.31" width="4.00" height="7.30" fill="#ffffff" stroke="#707070" stroke-width="1.0"/>
<rect x="80.25" y="259.31" width="4.00" height="7.30" fill="#ffffff" stroke="#707070" stroke-width="1.0"/>
<rect x="87.04" y="259.31" width="4.00" height="7.30" fill="#ffffff" stroke="#707070" stroke-width="1.0"/>
<rect x="93.83" y="259.31" width="4.00" height="7.30" fill="#ffffff" stroke="#707070" stroke-width="1.0"/>
<rect x="100.62" y="259.31" width="4.00" height="7.30" fill="#ffffff" stroke="#707070" stroke-width="1.0"/>
<rect x="107.41" y="259.31" width="4.00" height="7.30" fill="#ffffff" stroke="#707070" stroke-width="1.0"/>
<rect x="114.20" y="259.31" width="4.00" height="7.30" fill="#ffffff" stroke="#707070" stroke-width="1.0"/>
<rect x="120.99" y="259.31" width="4.00" height="7.30" fill="#ffffff" stroke="#707070" stroke-width="1.0"/>
<rect x="127.78" y="259.31" width="4.00" height="7.30" fill="#ffffff" stroke="#707070" stroke-width="1.0"/>
<rect x="134.57" y="259.31" width="4.00" height="7.30" fill="#ffffff" stroke="#707070" stroke-width="1.0"/>
<rect x="141.36" y="259.31" width="4.00" height="7.30" fill="#ffffff" stroke="#707070" stroke-width="1.0"/>
<rect x="148.15" y="259.31" width="4.00" height="7.30" fill="#ffffff" stroke="#707070" stroke-width="1.0"/>
<rect x="154.94" y="259.31" width="4.00" height="7.30" fill="#ffffff" stroke="#707070" stroke-width="1.0"/>
<rect x="161.73" y="259.31" width="4.00" height="7.30" fill="#ffffff" stroke="#707070" stroke-width="1.0"/>
<rect x="168.52" y="259.31" width="4.00" height="7.30" fill="#1a6b4a" stroke="#0c3524" stroke-width="1.0"/>
<rect x="175.31" y="259.31" width="4.00" height="7.30" fill="#1a6b4a" stroke="#0c3524" stroke-width="1.0"/>
<rect x="182.10" y="259.31" width="4.00" height="7.30" fill="#ffffff" stroke="#707070" stroke-width="1.0"/>
<rect x="188.89" y="259.31" width="4.00" height="7.30" fill="#ffffff" stroke="#707070" stroke-width="1.0"/>
<rect x="195.68" y="259.31" width="4.00" height="7.30" fill="#ffffff" stroke="#707070" stroke-width="1.0"/>
<rect x="202.47" y="259.31" width="4.00" height="7.30" fill="#ffffff" stroke="#707070" stroke-width="1.0"/>
<rect x="209.26" y="259.31" width="4.00" height="7.30" fill="#ffffff" stroke="#707070" stroke-width="1.0"/>
<rect x="216.05" y="259.31" width="4.00" height="7.30" fill="#ffffff" stroke="#707070" stroke-width="1.0"/>
<rect x="222.84" y="259.31" width="4.00" height="7.30" fill="#ffffff" stroke="#707070" stroke-width="1.0"/>
<rect x="229.63" y="259.31" width="4.00" height="7.30" fill="#ffffff" stroke="#707070" stroke-width="1.0"/>
<text x="43.40" y="275.93" font-size="7.9" text-anchor="end" font-style="italic" fill="#231f20" stroke="#231f20" stroke-width="0.2">KRAS</text>
<rect x="46.30" y="269.53" width="4.00" height="7.30" fill="#ffffff" stroke="#707070" stroke-width="1.0"/>
<rect x="53.09" y="269.53" width="4.00" height="7.30" fill="#ffffff" stroke="#707070" stroke-width="1.0"/>
<rect x="59.88" y="269.53" width="4.00" height="7.30" fill="#ffffff" stroke="#707070" stroke-width="1.0"/>
<rect x="66.67" y="269.53" width="4.00" height="7.30" fill="#ffffff" stroke="#707070" stroke-width="1.0"/>
<rect x="73.46" y="269.53" width="4.00" height="7.30" fill="#ffffff" stroke="#707070" stroke-width="1.0"/>
<rect x="80.25" y="269.53" width="4.00" height="7.30" fill="#ffffff" stroke="#707070" stroke-width="1.0"/>
<rect x="87.04" y="269.53" width="4.00" height="7.30" fill="#ffffff" stroke="#707070" stroke-width="1.0"/>
<rect x="93.83" y="269.53" width="4.00" height="7.30" fill="#ffffff" stroke="#707070" stroke-width="1.0"/>
<rect x="100.62" y="269.53" width="4.00" height="7.30" fill="#ffffff" stroke="#707070" stroke-width="1.0"/>
<rect x="107.41" y="269.53" width="4.00" height="7.30" fill="#ffffff" stroke="#707070" stroke-width="1.0"/>
<rect x="114.20" y="269.53" width="4.00" height="7.30" fill="#ffffff" stroke="#707070" stroke-width="1.0"/>
<rect x="120.99" y="269.53" width="4.00" height="7.30" fill="#ffffff" stroke="#707070" stroke-width="1.0"/>
<rect x="127.78" y="269.53" width="4.00" height="7.30" fill="#ffffff" stroke="#707070" stroke-width="1.0"/>
<rect x="134.57" y="269.53" width="4.00" height="7.30" fill="#ffffff" stroke="#707070" stroke-width="1.0"/>
<rect x="141.36" y="269.53" width="4.00" height="7.30" fill="#ffffff" stroke="#707070" stroke-width="1.0"/>
<rect x="148.15" y="269.53" width="4.00" height="7.30" fill="#ffffff" stroke="#707070" stroke-width="1.0"/>
<rect x="154.94" y="269.53" width="4.00" height="7.30" fill="#3cbc46" stroke="#1a5a20" stroke-width="1.0"/>
<rect x="161.73" y="269.53" width="4.00" height="7.30" fill="#3cbc46" stroke="#1a5a20" stroke-width="1.0"/>
<rect x="168.52" y="269.53" width="4.00" height="7.30" fill="#ffffff" stroke="#707070" stroke-width="1.0"/>
<rect x="175.31" y="269.53" width="4.00" height="7.30" fill="#ffffff" stroke="#707070" stroke-width="1.0"/>
<rect x="182.10" y="269.53" width="4.00" height="7.30" fill="#ffffff" stroke="#707070" stroke-width="1.0"/>
<rect x="188.89" y="269.53" width="4.00" height="7.30" fill="#ffffff" stroke="#707070" stroke-width="1.0"/>
<rect x="195.68" y="269.53" width="4.00" height="7.30" fill="#1a6b4a" stroke="#0c3524" stroke-width="1.0"/>
<rect x="202.47" y="269.53" width="4.00" height="7.30" fill="#1a6b4a" stroke="#0c3524" stroke-width="1.0"/>
<rect x="209.26" y="269.53" width="4.00" height="7.30" fill="#ffffff" stroke="#707070" stroke-width="1.0"/>
<rect x="216.05" y="269.53" width="4.00" height="7.30" fill="#ffffff" stroke="#707070" stroke-width="1.0"/>
<rect x="222.84" y="269.53" width="4.00" height="7.30" fill="#ffffff" stroke="#707070" stroke-width="1.0"/>
<rect x="229.63" y="269.53" width="4.00" height="7.30" fill="#ffffff" stroke="#707070" stroke-width="1.0"/>
<text x="43.40" y="286.15" font-size="7.9" text-anchor="end" font-style="italic" fill="#231f20" stroke="#231f20" stroke-width="0.2">NXNL1</text>
<rect x="46.30" y="279.75" width="4.00" height="7.30" fill="#ffffff" stroke="#707070" stroke-width="1.0"/>
<rect x="53.09" y="279.75" width="4.00" height="7.30" fill="#ffffff" stroke="#707070" stroke-width="1.0"/>
<rect x="59.88" y="279.75" width="4.00" height="7.30" fill="#ffffff" stroke="#707070" stroke-width="1.0"/>
<rect x="66.67" y="279.75" width="4.00" height="7.30" fill="#ffffff" stroke="#707070" stroke-width="1.0"/>
<rect x="73.46" y="279.75" width="4.00" height="7.30" fill="#ffffff" stroke="#707070" stroke-width="1.0"/>
<rect x="80.25" y="279.75" width="4.00" height="7.30" fill="#ffffff" stroke="#707070" stroke-width="1.0"/>
<rect x="87.04" y="279.75" width="4.00" height="7.30" fill="#ffffff" stroke="#707070" stroke-width="1.0"/>
<rect x="93.83" y="279.75" width="4.00" height="7.30" fill="#ffffff" stroke="#707070" stroke-width="1.0"/>
<rect x="100.62" y="279.75" width="4.00" height="7.30" fill="#ffffff" stroke="#707070" stroke-width="1.0"/>
<rect x="107.41" y="279.75" width="4.00" height="7.30" fill="#ffffff" stroke="#707070" stroke-width="1.0"/>
<rect x="114.20" y="279.75" width="4.00" height="7.30" fill="#ffffff" stroke="#707070" stroke-width="1.0"/>
<rect x="120.99" y="279.75" width="4.00" height="7.30" fill="#ffffff" stroke="#707070" stroke-width="1.0"/>
<rect x="127.78" y="279.75" width="4.00" height="7.30" fill="#ffffff" stroke="#707070" stroke-width="1.0"/>
<rect x="134.57" y="279.75" width="4.00" height="7.30" fill="#ffffff" stroke="#707070" stroke-width="1.0"/>
<rect x="141.36" y="279.75" width="4.00" height="7.30" fill="#ffffff" stroke="#707070" stroke-width="1.0"/>
<rect x="148.15" y="279.75" width="4.00" height="7.30" fill="#ffffff" stroke="#707070" stroke-width="1.0"/>
<rect x="154.94" y="279.75" width="4.00" height="7.30" fill="#ffffff" stroke="#707070" stroke-width="1.0"/>
<rect x="161.73" y="279.75" width="4.00" height="7.30" fill="#ffffff" stroke="#707070" stroke-width="1.0"/>
<rect x="168.52" y="279.75" width="4.00" height="7.30" fill="#3cbc46" stroke="#1a5a20" stroke-width="1.0"/>
<rect x="175.31" y="279.75" width="4.00" height="7.30" fill="#3cbc46" stroke="#1a5a20" stroke-width="1.0"/>
<rect x="182.10" y="279.75" width="4.00" height="7.30" fill="#ffffff" stroke="#707070" stroke-width="1.0"/>
<rect x="188.89" y="279.75" width="4.00" height="7.30" fill="#ffffff" stroke="#707070" stroke-width="1.0"/>
<rect x="195.68" y="279.75" width="4.00" height="7.30" fill="#ffffff" stroke="#707070" stroke-width="1.0"/>
<rect x="202.47" y="279.75" width="4.00" height="7.30" fill="#ffffff" stroke="#707070" stroke-width="1.0"/>
<rect x="209.26" y="279.75" width="4.00" height="7.30" fill="#ffffff" stroke="#707070" stroke-width="1.0"/>
<rect x="216.05" y="279.75" width="4.00" height="7.30" fill="#ffffff" stroke="#707070" stroke-width="1.0"/>
<rect x="222.84" y="279.75" width="4.00" height="7.30" fill="#ffffff" stroke="#707070" stroke-width="1.0"/>
<rect x="229.63" y="279.75" width="4.00" height="7.30" fill="#ffffff" stroke="#707070" stroke-width="1.0"/>
<text x="43.40" y="296.37" font-size="7.9" text-anchor="end" font-style="italic" fill="#231f20" stroke="#231f20" stroke-width="0.2">RYR2</text>
<rect x="46.30" y="289.97" width="4.00" height="7.30" fill="#ffffff" stroke="#707070" stroke-width="1.0"/>
<rect x="53.09" y="289.97" width="4.00" height="7.30" fill="#ffffff" stroke="#707070" stroke-width="1.0"/>
<rect x="59.88" y="289.97" width="4.00" height="7.30" fill="#1a6b4a" stroke="#0c3524" stroke-width="1.0"/>
<rect x="66.67" y="289.97" width="4.00" height="7.30" fill="#1a6b4a" stroke="#0c3524" stroke-width="1.0"/>
<rect x="73.46" y="289.97" width="4.00" height="7.30" fill="#ffffff" stroke="#707070" stroke-width="1.0"/>
<rect x="80.25" y="289.97" width="4.00" height="7.30" fill="#ffffff" stroke="#707070" stroke-width="1.0"/>
<rect x="87.04" y="289.97" width="4.00" height="7.30" fill="#ffffff" stroke="#707070" stroke-width="1.0"/>
<rect x="93.83" y="289.97" width="4.00" height="7.30" fill="#ffffff" stroke="#707070" stroke-width="1.0"/>
<rect x="100.62" y="289.97" width="4.00" height="7.30" fill="#ffffff" stroke="#707070" stroke-width="1.0"/>
<rect x="107.41" y="289.97" width="4.00" height="7.30" fill="#ffffff" stroke="#707070" stroke-width="1.0"/>
<rect x="114.20" y="289.97" width="4.00" height="7.30" fill="#ffffff" stroke="#707070" stroke-width="1.0"/>
<rect x="120.99" y="289.97" width="4.00" height="7.30" fill="#ffffff" stroke="#707070" stroke-width="1.0"/>
<rect x="127.78" y="289.97" width="4.00" height="7.30" fill="#ffffff" stroke="#707070" stroke-width="1.0"/>
<rect x="134.57" y="289.97" width="4.00" height="7.30" fill="#ffffff" stroke="#707070" stroke-width="1.0"/>
<rect x="141.36" y="289.97" width="4.00" height="7.30" fill="#ffffff" stroke="#707070" stroke-width="1.0"/>
<rect x="148.15" y="289.97" width="4.00" height="7.30" fill="#ffffff" stroke="#707070" stroke-width="1.0"/>
<rect x="154.94" y="289.97" width="4.00" height="7.30" fill="#ffffff" stroke="#707070" stroke-width="1.0"/>
<rect x="161.73" y="289.97" width="4.00" height="7.30" fill="#ffffff" stroke="#707070" stroke-width="1.0"/>
<rect x="168.52" y="289.97" width="4.00" height="7.30" fill="#ffffff" stroke="#707070" stroke-width="1.0"/>
<rect x="175.31" y="289.97" width="4.00" height="7.30" fill="#ffffff" stroke="#707070" stroke-width="1.0"/>
<rect x="182.10" y="289.97" width="4.00" height="7.30" fill="#ffffff" stroke="#707070" stroke-width="1.0"/>
<rect x="188.89" y="289.97" width="4.00" height="7.30" fill="#ffffff" stroke="#707070" stroke-width="1.0"/>
<rect x="195.68" y="289.97" width="4.00" height="7.30" fill="#ffffff" stroke="#707070" stroke-width="1.0"/>
<rect x="202.47" y="289.97" width="4.00" height="7.30" fill="#ffffff" stroke="#707070" stroke-width="1.0"/>
<rect x="209.26" y="289.97" width="4.00" height="7.30" fill="#3cbc46" stroke="#1a5a20" stroke-width="1.0"/>
<rect x="216.05" y="289.97" width="4.00" height="7.30" fill="#3cbc46" stroke="#1a5a20" stroke-width="1.0"/>
<rect x="222.84" y="289.97" width="4.00" height="7.30" fill="#ffffff" stroke="#707070" stroke-width="1.0"/>
<rect x="229.63" y="289.97" width="4.00" height="7.30" fill="#ffffff" stroke="#707070" stroke-width="1.0"/>
<text x="43.40" y="306.59" font-size="7.9" text-anchor="end" font-style="italic" fill="#231f20" stroke="#231f20" stroke-width="0.2">SCARF2</text>
<rect x="46.30" y="300.19" width="4.00" height="7.30" fill="#ffffff" stroke="#707070" stroke-width="1.0"/>
<rect x="53.09" y="300.19" width="4.00" height="7.30" fill="#ffffff" stroke="#707070" stroke-width="1.0"/>
<rect x="59.88" y="300.19" width="4.00" height="7.30" fill="#ffffff" stroke="#707070" stroke-width="1.0"/>
<rect x="66.67" y="300.19" width="4.00" height="7.30" fill="#ffffff" stroke="#707070" stroke-width="1.0"/>
<rect x="73.46" y="300.19" width="4.00" height="7.30" fill="#ffffff" stroke="#707070" stroke-width="1.0"/>
<rect x="80.25" y="300.19" width="4.00" height="7.30" fill="#ffffff" stroke="#707070" stroke-width="1.0"/>
<rect x="87.04" y="300.19" width="4.00" height="7.30" fill="#ffffff" stroke="#707070" stroke-width="1.0"/>
<rect x="93.83" y="300.19" width="4.00" height="7.30" fill="#ffffff" stroke="#707070" stroke-width="1.0"/>
<rect x="100.62" y="300.19" width="4.00" height="7.30" fill="#ffffff" stroke="#707070" stroke-width="1.0"/>
<rect x="107.41" y="300.19" width="4.00" height="7.30" fill="#ffffff" stroke="#707070" stroke-width="1.0"/>
<rect x="114.20" y="300.19" width="4.00" height="7.30" fill="#ffffff" stroke="#707070" stroke-width="1.0"/>
<rect x="120.99" y="300.19" width="4.00" height="7.30" fill="#ffffff" stroke="#707070" stroke-width="1.0"/>
<rect x="127.78" y="300.19" width="4.00" height="7.30" fill="#ea5fae" stroke="#8a3464" stroke-width="1.0"/>
<rect x="134.57" y="300.19" width="4.00" height="7.30" fill="#ea5fae" stroke="#8a3464" stroke-width="1.0"/>
<rect x="141.36" y="300.19" width="4.00" height="7.30" fill="#ea5fae" stroke="#8a3464" stroke-width="1.0"/>
<rect x="148.15" y="300.19" width="4.00" height="7.30" fill="#ea5fae" stroke="#8a3464" stroke-width="1.0"/>
<rect x="154.94" y="300.19" width="4.00" height="7.30" fill="#ffffff" stroke="#707070" stroke-width="1.0"/>
<rect x="161.73" y="300.19" width="4.00" height="7.30" fill="#ffffff" stroke="#707070" stroke-width="1.0"/>
<rect x="168.52" y="300.19" width="4.00" height="7.30" fill="#ffffff" stroke="#707070" stroke-width="1.0"/>
<rect x="175.31" y="300.19" width="4.00" height="7.30" fill="#ffffff" stroke="#707070" stroke-width="1.0"/>
<rect x="182.10" y="300.19" width="4.00" height="7.30" fill="#ffffff" stroke="#707070" stroke-width="1.0"/>
<rect x="188.89" y="300.19" width="4.00" height="7.30" fill="#ffffff" stroke="#707070" stroke-width="1.0"/>
<rect x="195.68" y="300.19" width="4.00" height="7.30" fill="#ffffff" stroke="#707070" stroke-width="1.0"/>
<rect x="202.47" y="300.19" width="4.00" height="7.30" fill="#ffffff" stroke="#707070" stroke-width="1.0"/>
<rect x="209.26" y="300.19" width="4.00" height="7.30" fill="#ffffff" stroke="#707070" stroke-width="1.0"/>
<rect x="216.05" y="300.19" width="4.00" height="7.30" fill="#ffffff" stroke="#707070" stroke-width="1.0"/>
<rect x="222.84" y="300.19" width="4.00" height="7.30" fill="#ffffff" stroke="#707070" stroke-width="1.0"/>
<rect x="229.63" y="300.19" width="4.00" height="7.30" fill="#ffffff" stroke="#707070" stroke-width="1.0"/>
<text x="43.40" y="316.80" font-size="7.9" text-anchor="end" font-style="italic" fill="#231f20" stroke="#231f20" stroke-width="0.2">SMARCA4</text>
<rect x="46.30" y="310.40" width="4.00" height="7.30" fill="#ffffff" stroke="#707070" stroke-width="1.0"/>
<rect x="53.09" y="310.40" width="4.00" height="7.30" fill="#ffffff" stroke="#707070" stroke-width="1.0"/>
<rect x="59.88" y="310.40" width="4.00" height="7.30" fill="#ffffff" stroke="#707070" stroke-width="1.0"/>
<rect x="66.67" y="310.40" width="4.00" height="7.30" fill="#ffffff" stroke="#707070" stroke-width="1.0"/>
<rect x="73.46" y="310.40" width="4.00" height="7.30" fill="#ffffff" stroke="#707070" stroke-width="1.0"/>
<rect x="80.25" y="310.40" width="4.00" height="7.30" fill="#ffffff" stroke="#707070" stroke-width="1.0"/>
<rect x="87.04" y="310.40" width="4.00" height="7.30" fill="#ffffff" stroke="#707070" stroke-width="1.0"/>
<rect x="93.83" y="310.40" width="4.00" height="7.30" fill="#ffffff" stroke="#707070" stroke-width="1.0"/>
<rect x="100.62" y="310.40" width="4.00" height="7.30" fill="#ffffff" stroke="#707070" stroke-width="1.0"/>
<rect x="107.41" y="310.40" width="4.00" height="7.30" fill="#ffffff" stroke="#707070" stroke-width="1.0"/>
<rect x="114.20" y="310.40" width="4.00" height="7.30" fill="#ffffff" stroke="#707070" stroke-width="1.0"/>
<rect x="120.99" y="310.40" width="4.00" height="7.30" fill="#ffffff" stroke="#707070" stroke-width="1.0"/>
<rect x="127.78" y="310.40" width="4.00" height="7.30" fill="#ea5fae" stroke="#8a3464" stroke-width="1.0"/>
<rect x="134.57" y="310.40" width="4.00" height="7.30" fill="#ea5fae" stroke="#8a3464" stroke-width="1.0"/>
<rect x="141.36" y="310.40" width="4.00" height="7.30" fill="#ffffff" stroke="#707070" stroke-width="1.0"/>
<rect x="148.15" y="310.40" width="4.00" height="7.30" fill="#ffffff" stroke="#707070" stroke-width="1.0"/>
<rect x="154.94" y="310.40" width="4.00" height="7.30" fill="#ffffff" stroke="#707070" stroke-width="1.0"/>
<rect x="161.73" y="310.40" width="4.00" height="7.30" fill="#ffffff" stroke="#707070" stroke-width="1.0"/>
<rect x="168.52" y="310.40" width="4.00" height="7.30" fill="#ffffff" stroke="#707070" stroke-width="1.0"/>
<rect x="175.31" y="310.40" width="4.00" height="7.30" fill="#ffffff" stroke="#707070" stroke-width="1.0"/>
<rect x="182.10" y="310.40" width="4.00" height="7.30" fill="#ffffff" stroke="#707070" stroke-width="1.0"/>
<rect x="188.89" y="310.40" width="4.00" height="7.30" fill="#ffffff" stroke="#707070" stroke-width="1.0"/>
<rect x="195.68" y="310.40" width="4.00" height="7.30" fill="#ffffff" stroke="#707070" stroke-width="1.0"/>
<rect x="202.47" y="310.40" width="4.00" height="7.30" fill="#ffffff" stroke="#707070" stroke-width="1.0"/>
<rect x="209.26" y="310.40" width="4.00" height="7.30" fill="#ea5fae" stroke="#8a3464" stroke-width="1.0"/>
<rect x="216.05" y="310.40" width="4.00" height="7.30" fill="#ea5fae" stroke="#8a3464" stroke-width="1.0"/>
<rect x="222.84" y="310.40" width="4.00" height="7.30" fill="#ffffff" stroke="#707070" stroke-width="1.0"/>
<rect x="229.63" y="310.40" width="4.00" height="7.30" fill="#ffffff" stroke="#707070" stroke-width="1.0"/>
<text x="43.40" y="327.02" font-size="7.9" text-anchor="end" font-style="italic" fill="#231f20" stroke="#231f20" stroke-width="0.2">SVEP1</text>
<rect x="46.30" y="320.62" width="4.00" height="7.30" fill="#ffffff" stroke="#707070" stroke-width="1.0"/>
<rect x="53.09" y="320.62" width="4.00" height="7.30" fill="#ffffff" stroke="#707070" stroke-width="1.0"/>
<rect x="59.88" y="320.62" width="4.00" height="7.30" fill="#3cbc46" stroke="#1a5a20" stroke-width="1.0"/>
<rect x="66.67" y="320.62" width="4.00" height="7.30" fill="#3cbc46" stroke="#1a5a20" stroke-width="1.0"/>
<rect x="73.46" y="320.62" width="4.00" height="7.30" fill="#ffffff" stroke="#707070" stroke-width="1.0"/>
<rect x="80.25" y="320.62" width="4.00" height="7.30" fill="#ffffff" stroke="#707070" stroke-width="1.0"/>
<rect x="87.04" y="320.62" width="4.00" height="7.30" fill="#ffffff" stroke="#707070" stroke-width="1.0"/>
<rect x="93.83" y="320.62" width="4.00" height="7.30" fill="#ffffff" stroke="#707070" stroke-width="1.0"/>
<rect x="100.62" y="320.62" width="4.00" height="7.30" fill="#ffffff" stroke="#707070" stroke-width="1.0"/>
<rect x="107.41" y="320.62" width="4.00" height="7.30" fill="#ffffff" stroke="#707070" stroke-width="1.0"/>
<rect x="114.20" y="320.62" width="4.00" height="7.30" fill="#ffffff" stroke="#707070" stroke-width="1.0"/>
<rect x="120.99" y="320.62" width="4.00" height="7.30" fill="#ffffff" stroke="#707070" stroke-width="1.0"/>
<rect x="127.78" y="320.62" width="4.00" height="7.30" fill="#ffffff" stroke="#707070" stroke-width="1.0"/>
<rect x="134.57" y="320.62" width="4.00" height="7.30" fill="#ffffff" stroke="#707070" stroke-width="1.0"/>
<rect x="141.36" y="320.62" width="4.00" height="7.30" fill="#ffffff" stroke="#707070" stroke-width="1.0"/>
<rect x="148.15" y="320.62" width="4.00" height="7.30" fill="#ffffff" stroke="#707070" stroke-width="1.0"/>
<rect x="154.94" y="320.62" width="4.00" height="7.30" fill="#ffffff" stroke="#707070" stroke-width="1.0"/>
<rect x="161.73" y="320.62" width="4.00" height="7.30" fill="#ffffff" stroke="#707070" stroke-width="1.0"/>
<rect x="168.52" y="320.62" width="4.00" height="7.30" fill="#3cbc46" stroke="#1a5a20" stroke-width="1.0"/>
<rect x="175.31" y="320.62" width="4.00" height="7.30" fill="#3cbc46" stroke="#1a5a20" stroke-width="1.0"/>
<rect x="182.10" y="320.62" width="4.00" height="7.30" fill="#ffffff" stroke="#707070" stroke-width="1.0"/>
<rect x="188.89" y="320.62" width="4.00" height="7.30" fill="#ffffff" stroke="#707070" stroke-width="1.0"/>
<rect x="195.68" y="320.62" width="4.00" height="7.30" fill="#ffffff" stroke="#707070" stroke-width="1.0"/>
<rect x="202.47" y="320.62" width="4.00" height="7.30" fill="#ffffff" stroke="#707070" stroke-width="1.0"/>
<rect x="209.26" y="320.62" width="4.00" height="7.30" fill="#ffffff" stroke="#707070" stroke-width="1.0"/>
<rect x="216.05" y="320.62" width="4.00" height="7.30" fill="#ffffff" stroke="#707070" stroke-width="1.0"/>
<rect x="222.84" y="320.62" width="4.00" height="7.30" fill="#ffffff" stroke="#707070" stroke-width="1.0"/>
<rect x="229.63" y="320.62" width="4.00" height="7.30" fill="#ffffff" stroke="#707070" stroke-width="1.0"/>
<text x="43.40" y="337.24" font-size="7.9" text-anchor="end" font-style="italic" fill="#231f20" stroke="#231f20" stroke-width="0.2">TRPC4</text>
<rect x="46.30" y="330.84" width="4.00" height="7.30" fill="#3cbc46" stroke="#1a5a20" stroke-width="1.0"/>
<rect x="53.09" y="330.84" width="4.00" height="7.30" fill="#3cbc46" stroke="#1a5a20" stroke-width="1.0"/>
<rect x="59.88" y="330.84" width="4.00" height="7.30" fill="#ffffff" stroke="#707070" stroke-width="1.0"/>
<rect x="66.67" y="330.84" width="4.00" height="7.30" fill="#ffffff" stroke="#707070" stroke-width="1.0"/>
<rect x="73.46" y="330.84" width="4.00" height="7.30" fill="#ffffff" stroke="#707070" stroke-width="1.0"/>
<rect x="80.25" y="330.84" width="4.00" height="7.30" fill="#ffffff" stroke="#707070" stroke-width="1.0"/>
<rect x="87.04" y="330.84" width="4.00" height="7.30" fill="#ffffff" stroke="#707070" stroke-width="1.0"/>
<rect x="93.83" y="330.84" width="4.00" height="7.30" fill="#ffffff" stroke="#707070" stroke-width="1.0"/>
<rect x="100.62" y="330.84" width="4.00" height="7.30" fill="#ffffff" stroke="#707070" stroke-width="1.0"/>
<rect x="107.41" y="330.84" width="4.00" height="7.30" fill="#ffffff" stroke="#707070" stroke-width="1.0"/>
<rect x="114.20" y="330.84" width="4.00" height="7.30" fill="#ffffff" stroke="#707070" stroke-width="1.0"/>
<rect x="120.99" y="330.84" width="4.00" height="7.30" fill="#ffffff" stroke="#707070" stroke-width="1.0"/>
<rect x="127.78" y="330.84" width="4.00" height="7.30" fill="#ffffff" stroke="#707070" stroke-width="1.0"/>
<rect x="134.57" y="330.84" width="4.00" height="7.30" fill="#ffffff" stroke="#707070" stroke-width="1.0"/>
<rect x="141.36" y="330.84" width="4.00" height="7.30" fill="#ffffff" stroke="#707070" stroke-width="1.0"/>
<rect x="148.15" y="330.84" width="4.00" height="7.30" fill="#ffffff" stroke="#707070" stroke-width="1.0"/>
<rect x="154.94" y="330.84" width="4.00" height="7.30" fill="#ffffff" stroke="#707070" stroke-width="1.0"/>
<rect x="161.73" y="330.84" width="4.00" height="7.30" fill="#ffffff" stroke="#707070" stroke-width="1.0"/>
<rect x="168.52" y="330.84" width="4.00" height="7.30" fill="#ffffff" stroke="#707070" stroke-width="1.0"/>
<rect x="175.31" y="330.84" width="4.00" height="7.30" fill="#ffffff" stroke="#707070" stroke-width="1.0"/>
<rect x="182.10" y="330.84" width="4.00" height="7.30" fill="#ffffff" stroke="#707070" stroke-width="1.0"/>
<rect x="188.89" y="330.84" width="4.00" height="7.30" fill="#ffffff" stroke="#707070" stroke-width="1.0"/>
<rect x="195.68" y="330.84" width="4.00" height="7.30" fill="#ffffff" stroke="#707070" stroke-width="1.0"/>
<rect x="202.47" y="330.84" width="4.00" height="7.30" fill="#ffffff" stroke="#707070" stroke-width="1.0"/>
<rect x="209.26" y="330.84" width="4.00" height="7.30" fill="#1a6b4a" stroke="#0c3524" stroke-width="1.0"/>
<rect x="216.05" y="330.84" width="4.00" height="7.30" fill="#1a6b4a" stroke="#0c3524" stroke-width="1.0"/>
<rect x="222.84" y="330.84" width="4.00" height="7.30" fill="#ffffff" stroke="#707070" stroke-width="1.0"/>
<rect x="229.63" y="330.84" width="4.00" height="7.30" fill="#ffffff" stroke="#707070" stroke-width="1.0"/>
<text x="43.40" y="347.46" font-size="7.9" text-anchor="end" font-style="italic" fill="#231f20" stroke="#231f20" stroke-width="0.2">TTC28</text>
<rect x="46.30" y="341.06" width="4.00" height="7.30" fill="#3cbc46" stroke="#1a5a20" stroke-width="1.0"/>
<rect x="53.09" y="341.06" width="4.00" height="7.30" fill="#3cbc46" stroke="#1a5a20" stroke-width="1.0"/>
<rect x="59.88" y="341.06" width="4.00" height="7.30" fill="#ffffff" stroke="#707070" stroke-width="1.0"/>
<rect x="66.67" y="341.06" width="4.00" height="7.30" fill="#ffffff" stroke="#707070" stroke-width="1.0"/>
<rect x="73.46" y="341.06" width="4.00" height="7.30" fill="#ffffff" stroke="#707070" stroke-width="1.0"/>
<rect x="80.25" y="341.06" width="4.00" height="7.30" fill="#ffffff" stroke="#707070" stroke-width="1.0"/>
<rect x="87.04" y="341.06" width="4.00" height="7.30" fill="#ffffff" stroke="#707070" stroke-width="1.0"/>
<rect x="93.83" y="341.06" width="4.00" height="7.30" fill="#ffffff" stroke="#707070" stroke-width="1.0"/>
<rect x="100.62" y="341.06" width="4.00" height="7.30" fill="#ffffff" stroke="#707070" stroke-width="1.0"/>
<rect x="107.41" y="341.06" width="4.00" height="7.30" fill="#ffffff" stroke="#707070" stroke-width="1.0"/>
<rect x="114.20" y="341.06" width="4.00" height="7.30" fill="#ffffff" stroke="#707070" stroke-width="1.0"/>
<rect x="120.99" y="341.06" width="4.00" height="7.30" fill="#ffffff" stroke="#707070" stroke-width="1.0"/>
<rect x="127.78" y="341.06" width="4.00" height="7.30" fill="#ffffff" stroke="#707070" stroke-width="1.0"/>
<rect x="134.57" y="341.06" width="4.00" height="7.30" fill="#ffffff" stroke="#707070" stroke-width="1.0"/>
<rect x="141.36" y="341.06" width="4.00" height="7.30" fill="#ffffff" stroke="#707070" stroke-width="1.0"/>
<rect x="148.15" y="341.06" width="4.00" height="7.30" fill="#ffffff" stroke="#707070" stroke-width="1.0"/>
<rect x="154.94" y="341.06" width="4.00" height="7.30" fill="#3cbc46" stroke="#1a5a20" stroke-width="1.0"/>
<rect x="161.73" y="341.06" width="4.00" height="7.30" fill="#3cbc46" stroke="#1a5a20" stroke-width="1.0"/>
<rect x="168.52" y="341.06" width="4.00" height="7.30" fill="#ffffff" stroke="#707070" stroke-width="1.0"/>
<rect x="175.31" y="341.06" width="4.00" height="7.30" fill="#ffffff" stroke="#707070" stroke-width="1.0"/>
<rect x="182.10" y="341.06" width="4.00" height="7.30" fill="#ffffff" stroke="#707070" stroke-width="1.0"/>
<rect x="188.89" y="341.06" width="4.00" height="7.30" fill="#ffffff" stroke="#707070" stroke-width="1.0"/>
<rect x="195.68" y="341.06" width="4.00" height="7.30" fill="#ffffff" stroke="#707070" stroke-width="1.0"/>
<rect x="202.47" y="341.06" width="4.00" height="7.30" fill="#ffffff" stroke="#707070" stroke-width="1.0"/>
<rect x="209.26" y="341.06" width="4.00" height="7.30" fill="#ffffff" stroke="#707070" stroke-width="1.0"/>
<rect x="216.05" y="341.06" width="4.00" height="7.30" fill="#ffffff" stroke="#707070" stroke-width="1.0"/>
<rect x="222.84" y="341.06" width="4.00" height="7.30" fill="#ffffff" stroke="#707070" stroke-width="1.0"/>
<rect x="229.63" y="341.06" width="4.00" height="7.30" fill="#ffffff" stroke="#707070" stroke-width="1.0"/>
<text x="43.40" y="357.68" font-size="7.9" text-anchor="end" font-style="italic" fill="#231f20" stroke="#231f20" stroke-width="0.2">USH2A</text>
<rect x="46.30" y="351.28" width="4.00" height="7.30" fill="#ffffff" stroke="#707070" stroke-width="1.0"/>
<rect x="53.09" y="351.28" width="4.00" height="7.30" fill="#ffffff" stroke="#707070" stroke-width="1.0"/>
<rect x="59.88" y="351.28" width="4.00" height="7.30" fill="#3cbc46" stroke="#1a5a20" stroke-width="1.0"/>
<rect x="66.67" y="351.28" width="4.00" height="7.30" fill="#3cbc46" stroke="#1a5a20" stroke-width="1.0"/>
<rect x="73.46" y="351.28" width="4.00" height="7.30" fill="#ffffff" stroke="#707070" stroke-width="1.0"/>
<rect x="80.25" y="351.28" width="4.00" height="7.30" fill="#ffffff" stroke="#707070" stroke-width="1.0"/>
<rect x="87.04" y="351.28" width="4.00" height="7.30" fill="#ffffff" stroke="#707070" stroke-width="1.0"/>
<rect x="93.83" y="351.28" width="4.00" height="7.30" fill="#ffffff" stroke="#707070" stroke-width="1.0"/>
<rect x="100.62" y="351.28" width="4.00" height="7.30" fill="#3cbc46" stroke="#1a5a20" stroke-width="1.0"/>
<rect x="107.41" y="351.28" width="4.00" height="7.30" fill="#3cbc46" stroke="#1a5a20" stroke-width="1.0"/>
<rect x="114.20" y="351.28" width="4.00" height="7.30" fill="#ffffff" stroke="#707070" stroke-width="1.0"/>
<rect x="120.99" y="351.28" width="4.00" height="7.30" fill="#ffffff" stroke="#707070" stroke-width="1.0"/>
<rect x="127.78" y="351.28" width="4.00" height="7.30" fill="#ffffff" stroke="#707070" stroke-width="1.0"/>
<rect x="134.57" y="351.28" width="4.00" height="7.30" fill="#ffffff" stroke="#707070" stroke-width="1.0"/>
<rect x="141.36" y="351.28" width="4.00" height="7.30" fill="#ffffff" stroke="#707070" stroke-width="1.0"/>
<rect x="148.15" y="351.28" width="4.00" height="7.30" fill="#ffffff" stroke="#707070" stroke-width="1.0"/>
<rect x="154.94" y="351.28" width="4.00" height="7.30" fill="#ffffff" stroke="#707070" stroke-width="1.0"/>
<rect x="161.73" y="351.28" width="4.00" height="7.30" fill="#ffffff" stroke="#707070" stroke-width="1.0"/>
<rect x="168.52" y="351.28" width="4.00" height="7.30" fill="#ffffff" stroke="#707070" stroke-width="1.0"/>
<rect x="175.31" y="351.28" width="4.00" height="7.30" fill="#ffffff" stroke="#707070" stroke-width="1.0"/>
<rect x="182.10" y="351.28" width="4.00" height="7.30" fill="#ffffff" stroke="#707070" stroke-width="1.0"/>
<rect x="188.89" y="351.28" width="4.00" height="7.30" fill="#ffffff" stroke="#707070" stroke-width="1.0"/>
<rect x="195.68" y="351.28" width="4.00" height="7.30" fill="#ffffff" stroke="#707070" stroke-width="1.0"/>
<rect x="202.47" y="351.28" width="4.00" height="7.30" fill="#ffffff" stroke="#707070" stroke-width="1.0"/>
<rect x="209.26" y="351.28" width="4.00" height="7.30" fill="#ffffff" stroke="#707070" stroke-width="1.0"/>
<rect x="216.05" y="351.28" width="4.00" height="7.30" fill="#ffffff" stroke="#707070" stroke-width="1.0"/>
<rect x="222.84" y="351.28" width="4.00" height="7.30" fill="#ffffff" stroke="#707070" stroke-width="1.0"/>
<rect x="229.63" y="351.28" width="4.00" height="7.30" fill="#ffffff" stroke="#707070" stroke-width="1.0"/>
<text x="43.40" y="367.89" font-size="7.9" text-anchor="end" font-style="italic" fill="#231f20" stroke="#231f20" stroke-width="0.2">VAV3</text>
<rect x="46.30" y="361.49" width="4.00" height="7.30" fill="#ffffff" stroke="#707070" stroke-width="1.0"/>
<rect x="53.09" y="361.49" width="4.00" height="7.30" fill="#ffffff" stroke="#707070" stroke-width="1.0"/>
<rect x="59.88" y="361.49" width="4.00" height="7.30" fill="#ffffff" stroke="#707070" stroke-width="1.0"/>
<rect x="66.67" y="361.49" width="4.00" height="7.30" fill="#ffffff" stroke="#707070" stroke-width="1.0"/>
<rect x="73.46" y="361.49" width="4.00" height="7.30" fill="#ffffff" stroke="#707070" stroke-width="1.0"/>
<rect x="80.25" y="361.49" width="4.00" height="7.30" fill="#ffffff" stroke="#707070" stroke-width="1.0"/>
<rect x="87.04" y="361.49" width="4.00" height="7.30" fill="#ffffff" stroke="#707070" stroke-width="1.0"/>
<rect x="93.83" y="361.49" width="4.00" height="7.30" fill="#ffffff" stroke="#707070" stroke-width="1.0"/>
<rect x="100.62" y="361.49" width="4.00" height="7.30" fill="#ffffff" stroke="#707070" stroke-width="1.0"/>
<rect x="107.41" y="361.49" width="4.00" height="7.30" fill="#ffffff" stroke="#707070" stroke-width="1.0"/>
<rect x="114.20" y="361.49" width="4.00" height="7.30" fill="#ffffff" stroke="#707070" stroke-width="1.0"/>
<rect x="120.99" y="361.49" width="4.00" height="7.30" fill="#ffffff" stroke="#707070" stroke-width="1.0"/>
<rect x="127.78" y="361.49" width="4.00" height="7.30" fill="#ffffff" stroke="#707070" stroke-width="1.0"/>
<rect x="134.57" y="361.49" width="4.00" height="7.30" fill="#ffffff" stroke="#707070" stroke-width="1.0"/>
<rect x="141.36" y="361.49" width="4.00" height="7.30" fill="#ffffff" stroke="#707070" stroke-width="1.0"/>
<rect x="148.15" y="361.49" width="4.00" height="7.30" fill="#ffffff" stroke="#707070" stroke-width="1.0"/>
<rect x="154.94" y="361.49" width="4.00" height="7.30" fill="#3cbc46" stroke="#1a5a20" stroke-width="1.0"/>
<rect x="161.73" y="361.49" width="4.00" height="7.30" fill="#3cbc46" stroke="#1a5a20" stroke-width="1.0"/>
<rect x="168.52" y="361.49" width="4.00" height="7.30" fill="#3cbc46" stroke="#1a5a20" stroke-width="1.0"/>
<rect x="175.31" y="361.49" width="4.00" height="7.30" fill="#3cbc46" stroke="#1a5a20" stroke-width="1.0"/>
<rect x="182.10" y="361.49" width="4.00" height="7.30" fill="#ffffff" stroke="#707070" stroke-width="1.0"/>
<rect x="188.89" y="361.49" width="4.00" height="7.30" fill="#ffffff" stroke="#707070" stroke-width="1.0"/>
<rect x="195.68" y="361.49" width="4.00" height="7.30" fill="#ffffff" stroke="#707070" stroke-width="1.0"/>
<rect x="202.47" y="361.49" width="4.00" height="7.30" fill="#ffffff" stroke="#707070" stroke-width="1.0"/>
<rect x="209.26" y="361.49" width="4.00" height="7.30" fill="#ffffff" stroke="#707070" stroke-width="1.0"/>
<rect x="216.05" y="361.49" width="4.00" height="7.30" fill="#ffffff" stroke="#707070" stroke-width="1.0"/>
<rect x="222.84" y="361.49" width="4.00" height="7.30" fill="#ffffff" stroke="#707070" stroke-width="1.0"/>
<rect x="229.63" y="361.49" width="4.00" height="7.30" fill="#ffffff" stroke="#707070" stroke-width="1.0"/>
<text x="43.40" y="378.11" font-size="7.9" text-anchor="end" font-style="italic" fill="#231f20" stroke="#231f20" stroke-width="0.2">VWDE</text>
<rect x="46.30" y="371.71" width="4.00" height="7.30" fill="#ffffff" stroke="#707070" stroke-width="1.0"/>
<rect x="53.09" y="371.71" width="4.00" height="7.30" fill="#ffffff" stroke="#707070" stroke-width="1.0"/>
<rect x="59.88" y="371.71" width="4.00" height="7.30" fill="#ffffff" stroke="#707070" stroke-width="1.0"/>
<rect x="66.67" y="371.71" width="4.00" height="7.30" fill="#ffffff" stroke="#707070" stroke-width="1.0"/>
<rect x="73.46" y="371.71" width="4.00" height="7.30" fill="#ffffff" stroke="#707070" stroke-width="1.0"/>
<rect x="80.25" y="371.71" width="4.00" height="7.30" fill="#ffffff" stroke="#707070" stroke-width="1.0"/>
<rect x="87.04" y="371.71" width="4.00" height="7.30" fill="#ffffff" stroke="#707070" stroke-width="1.0"/>
<rect x="93.83" y="371.71" width="4.00" height="7.30" fill="#ffffff" stroke="#707070" stroke-width="1.0"/>
<rect x="100.62" y="371.71" width="4.00" height="7.30" fill="#ffffff" stroke="#707070" stroke-width="1.0"/>
<rect x="107.41" y="371.71" width="4.00" height="7.30" fill="#ffffff" stroke="#707070" stroke-width="1.0"/>
<rect x="114.20" y="371.71" width="4.00" height="7.30" fill="#ffffff" stroke="#707070" stroke-width="1.0"/>
<rect x="120.99" y="371.71" width="4.00" height="7.30" fill="#ffffff" stroke="#707070" stroke-width="1.0"/>
<rect x="127.78" y="371.71" width="4.00" height="7.30" fill="#ffffff" stroke="#707070" stroke-width="1.0"/>
<rect x="134.57" y="371.71" width="4.00" height="7.30" fill="#ffffff" stroke="#707070" stroke-width="1.0"/>
<rect x="141.36" y="371.71" width="4.00" height="7.30" fill="#1a6b4a" stroke="#0c3524" stroke-width="1.0"/>
<rect x="148.15" y="371.71" width="4.00" height="7.30" fill="#3cbc46" stroke="#1a5a20" stroke-width="1.0"/>
<rect x="154.94" y="371.71" width="4.00" height="7.30" fill="#ffffff" stroke="#707070" stroke-width="1.0"/>
<rect x="161.73" y="371.71" width="4.00" height="7.30" fill="#ffffff" stroke="#707070" stroke-width="1.0"/>
<rect x="168.52" y="371.71" width="4.00" height="7.30" fill="#ffffff" stroke="#707070" stroke-width="1.0"/>
<rect x="175.31" y="371.71" width="4.00" height="7.30" fill="#ffffff" stroke="#707070" stroke-width="1.0"/>
<rect x="182.10" y="371.71" width="4.00" height="7.30" fill="#ffffff" stroke="#707070" stroke-width="1.0"/>
<rect x="188.89" y="371.71" width="4.00" height="7.30" fill="#ffffff" stroke="#707070" stroke-width="1.0"/>
<rect x="195.68" y="371.71" width="4.00" height="7.30" fill="#ffffff" stroke="#707070" stroke-width="1.0"/>
<rect x="202.47" y="371.71" width="4.00" height="7.30" fill="#ffffff" stroke="#707070" stroke-width="1.0"/>
<rect x="209.26" y="371.71" width="4.00" height="7.30" fill="#ffffff" stroke="#707070" stroke-width="1.0"/>
<rect x="216.05" y="371.71" width="4.00" height="7.30" fill="#ffffff" stroke="#707070" stroke-width="1.0"/>
<rect x="222.84" y="371.71" width="4.00" height="7.30" fill="#ffffff" stroke="#707070" stroke-width="1.0"/>
<rect x="229.63" y="371.71" width="4.00" height="7.30" fill="#ffffff" stroke="#707070" stroke-width="1.0"/>
<rect x="46.00" y="389.70" width="3.2" height="7.80" fill="#e8909e"/>
<rect x="46.00" y="397.50" width="3.2" height="7.80" fill="#3aa6de"/>
<text x="52.60" y="396.80" font-size="7.2" text-anchor="start" fill="#231f20" stroke="#231f20" stroke-width="0.2">PB</text>
<text x="52.60" y="404.60" font-size="7.2" text-anchor="start" fill="#231f20" stroke="#231f20" stroke-width="0.2">LN</text>
<rect x="46.00" y="413.30" width="3.2" height="8.00" fill="#4d4547"/>
<rect x="46.00" y="421.30" width="3.2" height="8.00" fill="#c81432"/>
<text x="52.60" y="420.00" font-size="7.2" text-anchor="start" fill="#231f20" stroke="#231f20" stroke-width="0.2">M</text>
<text x="52.60" y="428.70" font-size="7.2" text-anchor="start" fill="#231f20" stroke="#231f20" stroke-width="0.2">U</text>
<rect x="106.00" y="389.60" width="3.2" height="6.70" fill="#124e72"/>
<rect x="106.00" y="396.30" width="3.2" height="8.00" fill="#e2127a"/>
<rect x="106.00" y="404.30" width="3.2" height="8.00" fill="#4b1f78"/>
<rect x="106.00" y="412.30" width="3.2" height="8.70" fill="#f08c1e"/>
<rect x="106.00" y="421.00" width="3.2" height="9.20" fill="#ffffff"/>
<rect x="106.00" y="430.20" width="3.2" height="7.50" fill="#0f6a4a"/>
<rect x="126.70" y="389.60" width="3.2" height="6.90" fill="#9fb4cc"/>
<rect x="126.70" y="396.50" width="3.2" height="8.50" fill="#ffffff"/>
<rect x="126.70" y="405.00" width="3.2" height="7.50" fill="#8462b2"/>
<rect x="126.70" y="412.50" width="3.2" height="8.50" fill="#f2c326"/>
<rect x="126.70" y="421.00" width="3.2" height="9.00" fill="#e452b2"/>
<rect x="126.70" y="430.00" width="3.2" height="7.70" fill="#34b044"/>
<path d="M106.3 421.3 L109.3 430.2 M109.3 421.3 L106.3 430.2" stroke="#2a3a4a" stroke-width="0.9"/>
<path d="M127.0 396.5 L129.9 405.0 M129.9 396.5 L127.0 405.0" stroke="#3a4050" stroke-width="0.9"/>
<text x="0.00" y="0.00" font-size="7.6" text-anchor="middle" fill="#231f20" stroke="#231f20" stroke-width="0.2" transform="translate(103.2 413.6) rotate(-90)">Clonal</text>
<text x="0.00" y="0.00" font-size="7.6" text-anchor="middle" fill="#231f20" stroke="#231f20" stroke-width="0.2" transform="translate(124.0 413.4) rotate(-90)">Subclonal</text>
<text x="132.60" y="396.50" font-size="7.0" text-anchor="start" fill="#231f20" stroke="#231f20" stroke-width="0.2">CNV</text>
<text x="132.60" y="404.48" font-size="7.0" text-anchor="start" fill="#231f20" stroke="#231f20" stroke-width="0.2">Nonsense</text>
<text x="132.60" y="412.46" font-size="7.0" text-anchor="start" fill="#231f20" stroke="#231f20" stroke-width="0.2">Frame shift indel</text>
<text x="132.60" y="420.44" font-size="7.0" text-anchor="start" fill="#231f20" stroke="#231f20" stroke-width="0.2">Splice site</text>
<text x="132.60" y="428.42" font-size="7.0" text-anchor="start" fill="#231f20" stroke="#231f20" stroke-width="0.2">In frame indel</text>
<text x="132.60" y="436.40" font-size="7.0" text-anchor="start" fill="#231f20" stroke="#231f20" stroke-width="0.2">Missense</text>
<text x="321.80" y="9.80" font-size="11" text-anchor="start" font-weight="bold" fill="#000" stroke="#000" stroke-width="0.2">B</text>
<text x="403.00" y="31.50" font-size="9.2" text-anchor="middle" fill="#231f20" stroke="#231f20" stroke-width="0.2">Genetic compartmentalization</text>
<path d="M366 43.4 L437 37 M366 99.6 L437 105" stroke="#9a9a9a" stroke-width="0.7" fill="none"/>
<path d="M366.0 43.4 A28.1 28.1 0 0 0 366.0 99.6 L366.0 85.8 A14.3 14.3 0 0 1 366.0 57.2 Z" fill="#000"/>
<path d="M366.0 43.4 A28.1 28.1 0 0 1 366.0 99.6 L366.0 85.8 A14.3 14.3 0 0 0 366.0 57.2 Z" fill="#e8141c"/>
<text x="356.00" y="56.60" font-size="8.0" text-anchor="middle" fill="#fff" stroke="#fff" stroke-width="0.2">No</text>
<text x="377.40" y="56.60" font-size="8.0" text-anchor="middle" fill="#8c0a0a" stroke="#8c0a0a" stroke-width="0.2">Yes</text>
<text x="366.00" y="74.90" font-size="8.2" text-anchor="middle" fill="#231f20" stroke="#231f20" stroke-width="0.2">n = 14</text>
<path d="M437.0 71.0 L437.00 36.60 A34.4 34.4 0 0 1 463.88 49.54 Z" fill="#f7d9dc"/>
<path d="M437.0 71.0 L463.88 49.54 A34.4 34.4 0 0 1 451.92 102.00 Z" fill="#e97b81"/>
<path d="M437.0 71.0 L451.92 102.00 A34.4 34.4 0 1 1 437.00 36.60 Z" fill="#9e1b20"/>
<text x="447.00" y="46.50" font-size="7.6" text-anchor="middle" fill="#231f20" stroke="#231f20" stroke-width="0.2">1</text>
<text x="447.00" y="55.30" font-size="7.6" text-anchor="middle" fill="#231f20" stroke="#231f20" stroke-width="0.2">(14%)</text>
<text x="455.50" y="72.80" font-size="7.6" text-anchor="middle" fill="#231f20" stroke="#231f20" stroke-width="0.2">2</text>
<text x="455.00" y="82.10" font-size="7.6" text-anchor="middle" fill="#231f20" stroke="#231f20" stroke-width="0.2">(29%)</text>
<text x="422.00" y="70.30" font-size="7.6" text-anchor="middle" fill="#fff" stroke="#fff" stroke-width="0.2">4</text>
<text x="422.00" y="79.80" font-size="7.6" text-anchor="middle" fill="#fff" stroke="#fff" stroke-width="0.2">(57%)</text>
<rect x="477.0" y="75.30" width="5" height="4.9" fill="#9e1b20"/>
<text x="485.20" y="79.60" font-size="7.0" text-anchor="start" fill="#231f20" stroke="#231f20" stroke-width="0.2">LN only</text>
<rect x="477.0" y="84.60" width="5" height="4.9" fill="#e97b81"/>
<text x="485.20" y="88.75" font-size="7.0" text-anchor="start" fill="#231f20" stroke="#231f20" stroke-width="0.2">LN and PB</text>
<rect x="477.0" y="93.90" width="5" height="4.9" fill="#f7d9dc"/>
<text x="485.20" y="97.90" font-size="7.0" text-anchor="start" fill="#231f20" stroke="#231f20" stroke-width="0.2">PB only</text>
<defs><filter id="bl3" x="-50%" y="-50%" width="200%" height="200%"><feGaussianBlur stdDeviation="2.6"/></filter><filter id="bl2" x="-50%" y="-50%" width="200%" height="200%"><feGaussianBlur stdDeviation="1.6"/></filter><filter id="bl4" x="-80%" y="-80%" width="260%" height="260%"><feGaussianBlur stdDeviation="3.4"/></filter><filter id="bl1" x="-50%" y="-50%" width="200%" height="200%"><feGaussianBlur stdDeviation="0.9"/></filter></defs>
<text x="371.50" y="123.20" font-size="9.3" text-anchor="middle" fill="#231f20" stroke="#231f20" stroke-width="0.2">CLL-C24</text>
<path d="M340 127 V194" stroke="#dadada" stroke-width="0.8" fill="none"/>
<path d="M340 194 H400.7" stroke="#dedede" stroke-width="0.8" fill="none"/>
<path d="M342 131 H401.7" stroke="#c4c4c4" stroke-width="0.8" fill="none"/>
<path d="M400.7 131 V194" stroke="#cdcdcd" stroke-width="0.8" fill="none"/>
<path d="M343.0 131 Q344.5 128.6 346.0 131 Z" fill="#b0b0b0" opacity="0.8"/>
<path d="M393.6 131 Q395.6 128.2 397.6 131 Z" fill="#b8b8b8" opacity="0.8"/>
<path d="M400.7 132 Q403.5 134 400.7 136 Z" fill="#b8b8b8" opacity="0.8"/>
<path d="M400.7 187 Q403.5 189 400.7 191 Z" fill="#b8b8b8" opacity="0.8"/>
<ellipse cx="354" cy="161" rx="5.5" ry="9.5" fill="#e46a6a" opacity="0.75" filter="url(#bl4)"/>
<ellipse cx="374.8" cy="148.3" rx="2.6" ry="3.6" fill="#a0a0a0" opacity="0.75" filter="url(#bl2)"/>
<path d="M358 168.5 L361.5 174" stroke="#231f20" stroke-width="0.6"/>
<text x="357.00" y="182.20" font-size="7.5" text-anchor="start" fill="#231f20" stroke="#231f20" stroke-width="0.2">del 1p36.21</text>
<text x="357.00" y="191.30" font-size="7.5" text-anchor="start" fill="#231f20" stroke="#231f20" stroke-width="0.2">del 4q21.21</text>
<text x="458.50" y="123.20" font-size="9.3" text-anchor="middle" fill="#231f20" stroke="#231f20" stroke-width="0.2">CLL-C32</text>
<path d="M425.4 127 V193.8" stroke="#dadada" stroke-width="0.8" fill="none"/>
<path d="M425.4 193.8 H486.5" stroke="#dedede" stroke-width="0.8" fill="none"/>
<path d="M427.4 131 H487.5" stroke="#c4c4c4" stroke-width="0.8" fill="none"/>
<path d="M486.5 131 V193.8" stroke="#cdcdcd" stroke-width="0.8" fill="none"/>
<path d="M425.0 131 Q426.5 128.0 428.0 131 Z" fill="#e48a8a" opacity="0.8"/>
<path d="M455.5 131 Q458.5 129.0 461.5 131 Z" fill="#b8b8b8" opacity="0.8"/>
<path d="M481 131 Q483 128.6 485 131 Z" fill="#b8b8b8" opacity="0.8"/>
<path d="M486.5 136 Q488.9 139 486.5 142 Z" fill="#b8b8b8" opacity="0.8"/>
<path d="M486.5 161 Q489.5 165 486.5 169 Z" fill="#e89a9a" opacity="0.8"/>
<ellipse cx="458.5" cy="156" rx="2.2" ry="7" fill="#9a9a9a" opacity="0.8" filter="url(#bl2)"/>
<ellipse cx="483" cy="139" rx="2" ry="4" fill="#b0b0b0" opacity="0.6" filter="url(#bl2)"/>
<ellipse cx="427.5" cy="165" rx="1.5" ry="5" fill="#e46a6a" opacity="0.7" filter="url(#bl2)"/>
<path d="M428 170 L431.3 176.5" stroke="#231f20" stroke-width="0.6"/>
<text x="431.50" y="184.20" font-size="7.5" text-anchor="start" fill="#231f20" stroke="#231f20" stroke-width="0.2"><tspan font-style="italic">ZNF292</tspan> Q945fs</text>
<text x="371.50" y="212.70" font-size="9.3" text-anchor="middle" fill="#231f20" stroke="#231f20" stroke-width="0.2">CLL-C34</text>
<path d="M340 218 V284.6" stroke="#dadada" stroke-width="0.8" fill="none"/>
<path d="M340 284.6 H400.7" stroke="#dedede" stroke-width="0.8" fill="none"/>
<path d="M342 222 H401.7" stroke="#c4c4c4" stroke-width="0.8" fill="none"/>
<path d="M400.7 222 V284.6" stroke="#cdcdcd" stroke-width="0.8" fill="none"/>
<path d="M342.5 222 Q344 219.6 345.5 222 Z" fill="#b0b0b0" opacity="0.8"/>
<path d="M370.5 222 Q373.5 218.8 376.5 222 Z" fill="#e07a7a" opacity="0.8"/>
<path d="M400.7 225.5 Q403.9 228.5 400.7 231.5 Z" fill="#e07a7a" opacity="0.8"/>
<path d="M400.7 258.5 Q403.09999999999997 261.5 400.7 264.5 Z" fill="#b8b8b8" opacity="0.8"/>
<ellipse cx="373.5" cy="227.5" rx="1.8" ry="3.5" fill="#e46a6a" opacity="0.9" filter="url(#bl1)"/>
<path d="M373.5 230.5 L373.5 235.5" stroke="#231f20" stroke-width="0.6"/>
<text x="347.70" y="246.30" font-size="7.5" text-anchor="start" fill="#231f20" stroke="#231f20" stroke-width="0.2"><tspan font-style="italic">SF3B1</tspan> G742D</text>
<ellipse cx="363" cy="261.5" rx="4" ry="4" fill="#909090" opacity="0.8" filter="url(#bl3)"/>
<text x="458.50" y="212.70" font-size="9.3" text-anchor="middle" fill="#231f20" stroke="#231f20" stroke-width="0.2">CLL-C35</text>
<path d="M424 218 V284.6" stroke="#dadada" stroke-width="0.8" fill="none"/>
<path d="M424 284.6 H486" stroke="#dedede" stroke-width="0.8" fill="none"/>
<path d="M426 222 H487" stroke="#c4c4c4" stroke-width="0.8" fill="none"/>
<path d="M486 222 V284.6" stroke="#cdcdcd" stroke-width="0.8" fill="none"/>
<path d="M424.0 222 Q425.5 218.8 427.0 222 Z" fill="#b0b0b0" opacity="0.8"/>
<path d="M454.7 222 Q457.7 218.4 460.7 222 Z" fill="#e07a7a" opacity="0.8"/>
<path d="M475.5 222 Q478 220.0 480.5 222 Z" fill="#b8b8b8" opacity="0.8"/>
<path d="M486 223 Q489.6 226 486 229 Z" fill="#e07a7a" opacity="0.8"/>
<path d="M486 253 Q488.4 256 486 259 Z" fill="#b8b8b8" opacity="0.8"/>
<path d="M486 279 Q488.4 281 486 283 Z" fill="#b8b8b8" opacity="0.8"/>
<ellipse cx="457.7" cy="225.5" rx="1.8" ry="4" fill="#e46a6a" opacity="0.9" filter="url(#bl1)"/>
<path d="M457.7 228.5 L457.7 234" stroke="#231f20" stroke-width="0.6"/>
<text x="433.00" y="243.30" font-size="7.5" text-anchor="start" fill="#231f20" stroke="#231f20" stroke-width="0.2"><tspan font-style="italic">BIRC3</tspan> Q547fs</text>
<ellipse cx="437.4" cy="256" rx="1.6" ry="4" fill="#909090" opacity="0.8" filter="url(#bl2)"/>
<text x="371.50" y="302.40" font-size="9.3" text-anchor="middle" fill="#231f20" stroke="#231f20" stroke-width="0.2">CLL-C33</text>
<path d="M340 306.5 V374.6" stroke="#dadada" stroke-width="0.8" fill="none"/>
<path d="M340 374.6 H400.7" stroke="#dedede" stroke-width="0.8" fill="none"/>
<path d="M342 310.5 H401.7" stroke="#c4c4c4" stroke-width="0.8" fill="none"/>
<path d="M400.7 310.5 V374.6" stroke="#cdcdcd" stroke-width="0.8" fill="none"/>
<path d="M342.5 310.5 Q344 308.1 345.5 310.5 Z" fill="#b0b0b0" opacity="0.8"/>
<path d="M358.3 310.5 Q360.8 307.3 363.3 310.5 Z" fill="#e07a7a" opacity="0.8"/>
<path d="M391.6 310.5 Q394.6 307.7 397.6 310.5 Z" fill="#e07a7a" opacity="0.8"/>
<path d="M400.7 310.5 Q403.5 313 400.7 315.5 Z" fill="#e07a7a" opacity="0.8"/>
<path d="M400.7 347.8 Q404.3 350.8 400.7 353.8 Z" fill="#e07a7a" opacity="0.8"/>
<path d="M400.7 369 Q403.09999999999997 371 400.7 373 Z" fill="#b8b8b8" opacity="0.8"/>
<ellipse cx="360.8" cy="310.5" rx="2" ry="1.8" fill="#e46a6a" opacity="0.9" filter="url(#bl1)"/>
<path d="M360.8 313 L360.8 318" stroke="#231f20" stroke-width="0.6"/>
<text x="342.30" y="327.10" font-size="7.5" text-anchor="start" fill="#231f20" stroke="#231f20" stroke-width="0.2"><tspan font-style="italic">BRAF</tspan> K601E</text>
<text x="342.30" y="335.50" font-size="7.5" text-anchor="start" fill="#231f20" stroke="#231f20" stroke-width="0.2"><tspan font-style="italic">SF3B1</tspan> V701F</text>
<ellipse cx="394.6" cy="350.8" rx="2.4" ry="2.4" fill="#e46a6a" opacity="0.8" filter="url(#bl2)"/>
<path d="M392.6 353.5 L391.2 359" stroke="#231f20" stroke-width="0.6"/>
<text x="350.00" y="359.00" font-size="7.5" text-anchor="start" fill="#231f20" stroke="#231f20" stroke-width="0.2">del 11q22.3</text>
<text x="350.00" y="367.90" font-size="7.5" text-anchor="start" fill="#231f20" stroke="#231f20" stroke-width="0.2"><tspan font-style="italic">BRAF</tspan> G469A</text>
<text x="458.50" y="302.40" font-size="9.3" text-anchor="middle" fill="#231f20" stroke="#231f20" stroke-width="0.2">CLL-C43</text>
<path d="M424.2 307 V374.6" stroke="#dadada" stroke-width="0.8" fill="none"/>
<path d="M424.2 374.6 H485.4" stroke="#dedede" stroke-width="0.8" fill="none"/>
<path d="M426.2 311 H486.4" stroke="#c4c4c4" stroke-width="0.8" fill="none"/>
<path d="M485.4 311 V374.6" stroke="#cdcdcd" stroke-width="0.8" fill="none"/>
<path d="M427.5 311 Q429.5 307.8 431.5 311 Z" fill="#e07a7a" opacity="0.8"/>
<path d="M474.5 311 Q477.5 308.2 480.5 311 Z" fill="#e07a7a" opacity="0.8"/>
<path d="M485.4 340.3 Q489.4 343.8 485.4 347.3 Z" fill="#e07a7a" opacity="0.8"/>
<path d="M485.4 367 Q487.79999999999995 369 485.4 371 Z" fill="#b8b8b8" opacity="0.8"/>
<text x="427.70" y="324.00" font-size="7.5" text-anchor="start" fill="#231f20" stroke="#231f20" stroke-width="0.2"><tspan font-style="italic">FBXW7</tspan> R46fs</text>
<text x="427.70" y="332.80" font-size="7.5" text-anchor="start" fill="#231f20" stroke="#231f20" stroke-width="0.2"><tspan font-style="italic">XPO1</tspan> E571K</text>
<path d="M472.3 332 L475.3 342" stroke="#231f20" stroke-width="0.6"/>
<ellipse cx="477" cy="344" rx="2.6" ry="2.6" fill="#e46a6a" opacity="0.85" filter="url(#bl2)"/>
<ellipse cx="429.7" cy="343" rx="1.3" ry="2.2" fill="#e46a6a" opacity="0.7" filter="url(#bl1)"/>
<path d="M431.2 345 L435.2 350.5" stroke="#231f20" stroke-width="0.6"/>
<text x="427.00" y="357.90" font-size="7.5" text-anchor="start" fill="#231f20" stroke="#231f20" stroke-width="0.2"><tspan font-style="italic">DOCK2</tspan> F692V</text>
<ellipse cx="435.4" cy="369.2" rx="2" ry="1.5" fill="#a0a0a0" opacity="0.7" filter="url(#bl1)"/>
<text x="458.50" y="392.40" font-size="9.3" text-anchor="middle" fill="#231f20" stroke="#231f20" stroke-width="0.2">CLL-C46</text>
<path d="M423.5 396 V464.2" stroke="#dadada" stroke-width="0.8" fill="none"/>
<path d="M423.5 464.2 H485.8" stroke="#dedede" stroke-width="0.8" fill="none"/>
<path d="M425.5 400 H486.8" stroke="#c4c4c4" stroke-width="0.8" fill="none"/>
<path d="M485.8 400 V464.2" stroke="#cdcdcd" stroke-width="0.8" fill="none"/>
<path d="M423.5 400 Q425 397.2 426.5 400 Z" fill="#b0b0b0" opacity="0.8"/>
<path d="M476.0 400 Q478.5 397.2 481.0 400 Z" fill="#e07a7a" opacity="0.8"/>
<path d="M485.8 401 Q488.2 403 485.8 405 Z" fill="#b8b8b8" opacity="0.8"/>
<path d="M485.8 437 Q489.40000000000003 440 485.8 443 Z" fill="#e07a7a" opacity="0.8"/>
<path d="M485.8 457 Q489.0 459 485.8 461 Z" fill="#a8a8a8" opacity="0.8"/>
<text x="441.50" y="420.20" font-size="7.5" text-anchor="start" fill="#231f20" stroke="#231f20" stroke-width="0.2">del 13q14.3</text>
<text x="441.50" y="429.50" font-size="7.5" text-anchor="start" fill="#231f20" stroke="#231f20" stroke-width="0.2"><tspan font-style="italic">ATM</tspan> K468fs</text>
<path d="M474 432.5 L478.5 439" stroke="#231f20" stroke-width="0.6"/>
<ellipse cx="480" cy="440" rx="2.2" ry="2.2" fill="#e46a6a" opacity="0.8" filter="url(#bl2)"/>
<ellipse cx="450.4" cy="447.5" rx="6.5" ry="5" fill="#a0a0a0" opacity="0.7" filter="url(#bl4)"/>
<path d="M345 454 V407.5 M345 454 H392.5" stroke="#000" stroke-width="1.1" fill="none"/>
<path d="M345 403.5 L342.2 409 L347.8 409 Z M396.5 454 L391 451.2 L391 456.8 Z" fill="#000"/>
<text x="337.00" y="408.80" font-size="7.2" text-anchor="middle" fill="#231f20" stroke="#231f20" stroke-width="0.2">1</text>
<text x="343.50" y="464.50" font-size="7.2" text-anchor="middle" fill="#231f20" stroke="#231f20" stroke-width="0.2">0</text>
<text x="394.30" y="464.50" font-size="7.2" text-anchor="middle" fill="#231f20" stroke="#231f20" stroke-width="0.2">1</text>
<text x="369.00" y="463.60" font-size="7.9" text-anchor="middle" fill="#231f20" stroke="#231f20" stroke-width="0.2">CCF<tspan font-size="5.6" dy="1.7">PB</tspan></text>
<text x="0.00" y="0.00" font-size="8.2" text-anchor="middle" fill="#231f20" stroke="#231f20" stroke-width="0.2" transform="translate(338.2 430.5) rotate(-90)">CCF<tspan font-size="5.8" dy="1.7">LN</tspan></text>
<text x="0.20" y="490.60" font-size="11" text-anchor="start" font-weight="bold" fill="#000" stroke="#000" stroke-width="0.2">C</text>
<path d="M83.5 601.0 L85.0 596.8 L88.0 592.7 L92.0 588.9 L100.0 582.6 L110.0 575.8 L120.0 568.6 L130.0 561.1 L138.0 555.0 L145.0 549.7 L150.0 546.1 L153.0 544.1 L154.0 543.5 L154.0 545.6 L153.0 547.7 L150.0 551.8 L145.0 557.1 L138.0 564.6 L130.0 573.8 L120.0 585.4 L110.0 595.6 L100.0 603.1 L92.0 609.4 L88.0 612.0 L85.0 612.3 L83.5 610.0 Z" fill="#3db54a"/>
<g fill="#3db54a"><circle cx="110.3" cy="596.5" r="0.65"/><circle cx="115.5" cy="590.3" r="0.65"/><circle cx="125.7" cy="579.6" r="0.65"/><circle cx="79.6" cy="613.0" r="0.65"/><circle cx="117.0" cy="571.1" r="0.65"/><circle cx="143.3" cy="559.4" r="0.65"/><circle cx="129.3" cy="562.2" r="0.65"/><circle cx="96.6" cy="584.7" r="0.65"/><circle cx="144.5" cy="549.5" r="0.65"/><circle cx="71.2" cy="610.2" r="0.65"/><circle cx="105.4" cy="578.7" r="0.65"/><circle cx="94.5" cy="585.0" r="0.65"/><circle cx="136.4" cy="552.5" r="0.65"/><circle cx="120.0" cy="568.8" r="0.65"/><circle cx="95.0" cy="607.7" r="0.65"/><circle cx="146.7" cy="547.5" r="0.65"/><circle cx="126.8" cy="562.2" r="0.65"/><circle cx="93.8" cy="606.8" r="0.65"/><circle cx="78.3" cy="604.2" r="0.65"/><circle cx="103.9" cy="578.4" r="0.65"/><circle cx="120.9" cy="584.0" r="0.65"/><circle cx="149.2" cy="552.8" r="0.65"/><circle cx="135.1" cy="568.7" r="0.65"/><circle cx="146.9" cy="559.8" r="0.65"/><circle cx="131.5" cy="559.5" r="0.65"/><circle cx="96.8" cy="586.1" r="0.65"/><circle cx="91.1" cy="610.7" r="0.65"/><circle cx="95.9" cy="605.3" r="0.65"/><circle cx="95.0" cy="586.5" r="0.65"/><circle cx="103.6" cy="601.1" r="0.65"/><circle cx="147.3" cy="555.2" r="0.65"/><circle cx="121.7" cy="568.1" r="0.65"/><circle cx="149.4" cy="551.8" r="0.65"/><circle cx="125.8" cy="565.0" r="0.65"/><circle cx="156.8" cy="538.4" r="0.65"/><circle cx="134.0" cy="568.8" r="0.65"/><circle cx="101.6" cy="604.8" r="0.65"/><circle cx="107.2" cy="598.5" r="0.65"/><circle cx="124.9" cy="563.3" r="0.65"/><circle cx="78.8" cy="618.8" r="0.65"/><circle cx="104.9" cy="600.6" r="0.65"/><circle cx="143.2" cy="552.2" r="0.65"/><circle cx="123.6" cy="567.0" r="0.65"/><circle cx="114.2" cy="591.8" r="0.65"/><circle cx="148.4" cy="553.2" r="0.65"/><circle cx="99.9" cy="604.1" r="0.65"/><circle cx="140.7" cy="563.3" r="0.65"/><circle cx="121.8" cy="567.1" r="0.65"/><circle cx="143.0" cy="560.2" r="0.65"/><circle cx="95.3" cy="582.1" r="0.65"/><circle cx="90.0" cy="591.2" r="0.65"/><circle cx="99.1" cy="605.0" r="0.65"/><circle cx="78.8" cy="605.5" r="0.65"/><circle cx="120.5" cy="568.5" r="0.65"/><circle cx="142.6" cy="552.4" r="0.65"/><circle cx="125.2" cy="563.5" r="0.65"/><circle cx="140.4" cy="561.3" r="0.65"/><circle cx="112.4" cy="572.8" r="0.65"/><circle cx="133.0" cy="560.0" r="0.65"/><circle cx="130.9" cy="574.4" r="0.65"/><circle cx="105.4" cy="598.7" r="0.65"/><circle cx="151.5" cy="550.8" r="0.65"/><circle cx="149.1" cy="543.6" r="0.65"/><circle cx="139.8" cy="565.2" r="0.65"/><circle cx="89.0" cy="611.4" r="0.65"/><circle cx="132.5" cy="555.0" r="0.65"/><circle cx="154.8" cy="545.7" r="0.65"/><circle cx="144.9" cy="549.1" r="0.65"/><circle cx="118.8" cy="586.1" r="0.65"/><circle cx="140.6" cy="553.7" r="0.65"/><circle cx="100.6" cy="602.5" r="0.65"/><circle cx="115.5" cy="590.5" r="0.65"/><circle cx="116.7" cy="571.8" r="0.65"/><circle cx="116.2" cy="591.5" r="0.65"/><circle cx="104.6" cy="599.4" r="0.65"/><circle cx="143.9" cy="557.7" r="0.65"/><circle cx="88.7" cy="610.6" r="0.65"/><circle cx="73.9" cy="616.9" r="0.65"/><circle cx="119.8" cy="567.6" r="0.65"/><circle cx="118.4" cy="570.6" r="0.65"/><circle cx="95.1" cy="586.5" r="0.65"/><circle cx="141.1" cy="561.8" r="0.65"/><circle cx="88.4" cy="610.9" r="0.65"/><circle cx="138.3" cy="555.5" r="0.65"/><circle cx="130.1" cy="560.5" r="0.65"/><circle cx="115.7" cy="572.2" r="0.65"/><circle cx="109.3" cy="575.2" r="0.65"/><circle cx="85.3" cy="595.1" r="0.65"/><circle cx="144.2" cy="557.8" r="0.65"/><circle cx="134.8" cy="568.7" r="0.65"/><circle cx="99.8" cy="604.7" r="0.65"/><circle cx="147.9" cy="548.9" r="0.65"/><circle cx="93.8" cy="587.3" r="0.65"/><circle cx="139.4" cy="552.6" r="0.65"/><circle cx="72.9" cy="608.0" r="0.65"/><circle cx="81.5" cy="611.2" r="0.65"/><circle cx="88.1" cy="593.3" r="0.65"/><circle cx="118.8" cy="586.6" r="0.65"/><circle cx="86.9" cy="590.7" r="0.65"/><circle cx="136.6" cy="554.9" r="0.65"/><circle cx="109.0" cy="596.1" r="0.65"/><circle cx="143.3" cy="551.6" r="0.65"/><circle cx="106.6" cy="578.4" r="0.65"/><circle cx="73.1" cy="620.4" r="0.65"/><circle cx="125.2" cy="561.5" r="0.65"/><circle cx="148.9" cy="552.0" r="0.65"/><circle cx="106.2" cy="599.9" r="0.65"/><circle cx="137.5" cy="567.7" r="0.65"/><circle cx="126.4" cy="577.0" r="0.65"/><circle cx="128.4" cy="558.1" r="0.65"/><circle cx="117.7" cy="569.3" r="0.65"/><circle cx="131.7" cy="570.8" r="0.65"/><circle cx="124.3" cy="579.3" r="0.65"/><circle cx="80.2" cy="601.7" r="0.65"/><circle cx="154.2" cy="549.5" r="0.65"/><circle cx="78.4" cy="613.7" r="0.65"/><circle cx="85.9" cy="595.9" r="0.65"/><circle cx="77.2" cy="617.6" r="0.65"/><circle cx="102.8" cy="580.1" r="0.65"/><circle cx="96.1" cy="605.1" r="0.65"/><circle cx="93.2" cy="587.4" r="0.65"/><circle cx="105.0" cy="598.0" r="0.65"/><circle cx="112.6" cy="594.2" r="0.65"/><circle cx="155.1" cy="546.0" r="0.65"/><circle cx="110.9" cy="573.9" r="0.65"/><circle cx="121.6" cy="566.6" r="0.65"/><circle cx="156.8" cy="546.9" r="0.65"/><circle cx="147.7" cy="554.1" r="0.65"/><circle cx="94.7" cy="607.5" r="0.65"/><circle cx="125.9" cy="578.8" r="0.65"/><circle cx="155.4" cy="546.8" r="0.65"/><circle cx="94.9" cy="587.5" r="0.65"/><circle cx="118.4" cy="570.5" r="0.65"/><circle cx="118.6" cy="587.4" r="0.65"/><circle cx="89.9" cy="590.3" r="0.65"/><circle cx="78.0" cy="601.6" r="0.65"/><circle cx="90.1" cy="589.2" r="0.65"/><circle cx="103.6" cy="604.1" r="0.65"/><circle cx="118.9" cy="585.7" r="0.65"/><circle cx="103.5" cy="580.4" r="0.65"/><circle cx="130.1" cy="562.0" r="0.65"/><circle cx="90.3" cy="611.3" r="0.65"/><circle cx="133.8" cy="568.7" r="0.65"/><circle cx="102.5" cy="601.0" r="0.65"/><circle cx="131.9" cy="575.3" r="0.65"/><circle cx="149.4" cy="546.9" r="0.65"/><circle cx="98.7" cy="580.3" r="0.65"/><circle cx="93.3" cy="587.8" r="0.65"/><circle cx="106.0" cy="579.0" r="0.65"/><circle cx="139.4" cy="563.3" r="0.65"/><circle cx="86.8" cy="612.4" r="0.65"/><circle cx="73.8" cy="620.5" r="0.65"/><circle cx="127.5" cy="578.7" r="0.65"/><circle cx="139.2" cy="552.3" r="0.65"/><circle cx="148.3" cy="547.6" r="0.65"/><circle cx="135.6" cy="566.4" r="0.65"/><circle cx="136.8" cy="564.7" r="0.65"/><circle cx="100.4" cy="602.8" r="0.65"/><circle cx="117.0" cy="588.1" r="0.65"/><circle cx="106.4" cy="599.3" r="0.65"/><circle cx="140.0" cy="565.7" r="0.65"/><circle cx="125.9" cy="577.9" r="0.65"/><circle cx="108.2" cy="576.3" r="0.65"/><circle cx="97.1" cy="605.9" r="0.65"/><circle cx="81.8" cy="611.9" r="0.65"/><circle cx="111.1" cy="594.2" r="0.65"/><circle cx="91.9" cy="609.7" r="0.65"/><circle cx="88.2" cy="592.5" r="0.65"/><circle cx="98.2" cy="604.3" r="0.65"/><circle cx="94.0" cy="608.5" r="0.65"/><circle cx="118.5" cy="587.5" r="0.65"/><circle cx="75.9" cy="616.2" r="0.65"/><circle cx="115.8" cy="569.6" r="0.65"/><circle cx="92.2" cy="587.8" r="0.65"/><circle cx="139.6" cy="562.8" r="0.65"/><circle cx="85.9" cy="597.3" r="0.65"/><circle cx="126.5" cy="577.4" r="0.65"/><circle cx="84.8" cy="615.6" r="0.65"/><circle cx="142.4" cy="552.8" r="0.65"/><circle cx="80.4" cy="598.7" r="0.65"/><circle cx="144.6" cy="550.5" r="0.65"/><circle cx="149.7" cy="546.6" r="0.65"/><circle cx="118.7" cy="588.7" r="0.65"/><circle cx="98.6" cy="583.4" r="0.65"/><circle cx="112.1" cy="595.1" r="0.65"/><circle cx="81.2" cy="597.8" r="0.65"/><circle cx="127.9" cy="561.6" r="0.65"/><circle cx="92.2" cy="608.4" r="0.65"/><circle cx="103.9" cy="602.4" r="0.65"/><circle cx="105.3" cy="600.1" r="0.65"/><circle cx="134.5" cy="557.6" r="0.65"/><circle cx="133.6" cy="558.7" r="0.65"/><circle cx="83.9" cy="599.9" r="0.65"/><circle cx="106.1" cy="598.8" r="0.65"/><circle cx="91.5" cy="590.2" r="0.65"/><circle cx="114.9" cy="589.3" r="0.65"/><circle cx="104.8" cy="580.2" r="0.65"/><circle cx="106.0" cy="601.9" r="0.65"/><circle cx="128.2" cy="577.1" r="0.65"/><circle cx="101.3" cy="603.1" r="0.65"/><circle cx="114.9" cy="590.6" r="0.65"/><circle cx="114.3" cy="572.1" r="0.65"/><circle cx="116.0" cy="595.8" r="0.65"/><circle cx="83.0" cy="614.2" r="0.65"/><circle cx="120.3" cy="585.0" r="0.65"/><circle cx="156.2" cy="545.2" r="0.65"/><circle cx="96.9" cy="604.8" r="0.65"/><circle cx="142.6" cy="551.9" r="0.65"/><circle cx="74.7" cy="603.7" r="0.65"/><circle cx="97.9" cy="603.6" r="0.65"/><circle cx="122.3" cy="583.2" r="0.65"/><circle cx="112.0" cy="573.5" r="0.65"/><circle cx="87.2" cy="611.2" r="0.65"/><circle cx="100.3" cy="605.5" r="0.65"/><circle cx="125.0" cy="580.1" r="0.65"/><circle cx="113.6" cy="595.3" r="0.65"/><circle cx="106.2" cy="575.5" r="0.65"/><circle cx="116.1" cy="589.8" r="0.65"/><circle cx="99.2" cy="582.4" r="0.65"/><circle cx="134.2" cy="573.3" r="0.65"/><circle cx="122.7" cy="566.1" r="0.65"/><circle cx="115.2" cy="571.9" r="0.65"/><circle cx="116.6" cy="571.0" r="0.65"/><circle cx="92.7" cy="587.9" r="0.65"/><circle cx="128.1" cy="577.8" r="0.65"/><circle cx="90.3" cy="611.1" r="0.65"/><circle cx="117.7" cy="588.5" r="0.65"/><circle cx="97.7" cy="581.5" r="0.65"/><circle cx="141.6" cy="551.9" r="0.65"/><circle cx="89.3" cy="588.2" r="0.65"/><circle cx="88.9" cy="612.2" r="0.65"/><circle cx="86.6" cy="612.7" r="0.65"/><circle cx="125.7" cy="565.0" r="0.65"/><circle cx="81.6" cy="613.8" r="0.65"/><circle cx="132.0" cy="558.6" r="0.65"/><circle cx="110.1" cy="576.8" r="0.65"/><circle cx="132.6" cy="559.8" r="0.65"/><circle cx="128.8" cy="577.0" r="0.65"/><circle cx="147.4" cy="553.9" r="0.65"/><circle cx="155.5" cy="539.8" r="0.65"/><circle cx="123.0" cy="567.4" r="0.65"/><circle cx="79.4" cy="600.8" r="0.65"/><circle cx="119.3" cy="569.0" r="0.65"/><circle cx="74.3" cy="604.9" r="0.65"/><circle cx="114.1" cy="570.4" r="0.65"/><circle cx="102.6" cy="601.3" r="0.65"/><circle cx="114.8" cy="592.4" r="0.65"/><circle cx="153.1" cy="543.0" r="0.65"/><circle cx="92.1" cy="587.5" r="0.65"/><circle cx="139.0" cy="551.4" r="0.65"/><circle cx="121.7" cy="568.7" r="0.65"/><circle cx="132.9" cy="570.2" r="0.65"/><circle cx="109.5" cy="577.4" r="0.65"/><circle cx="78.0" cy="616.9" r="0.65"/><circle cx="92.3" cy="589.6" r="0.65"/><circle cx="98.7" cy="604.9" r="0.65"/><circle cx="121.9" cy="567.7" r="0.65"/><circle cx="93.1" cy="587.3" r="0.65"/><circle cx="139.0" cy="553.8" r="0.65"/><circle cx="90.5" cy="612.1" r="0.65"/><circle cx="137.0" cy="566.6" r="0.65"/><circle cx="135.9" cy="558.0" r="0.65"/><circle cx="74.9" cy="619.0" r="0.65"/><circle cx="93.5" cy="608.8" r="0.65"/><circle cx="155.5" cy="547.4" r="0.65"/><circle cx="76.4" cy="605.4" r="0.65"/><circle cx="147.7" cy="545.9" r="0.65"/><circle cx="104.7" cy="599.1" r="0.65"/><circle cx="87.8" cy="611.7" r="0.65"/><circle cx="90.5" cy="590.9" r="0.65"/><circle cx="95.5" cy="586.8" r="0.65"/><circle cx="105.2" cy="598.3" r="0.65"/><circle cx="102.6" cy="580.1" r="0.65"/><circle cx="137.0" cy="564.9" r="0.65"/><circle cx="99.7" cy="580.4" r="0.65"/><circle cx="99.6" cy="603.1" r="0.65"/><circle cx="105.5" cy="578.8" r="0.65"/><circle cx="122.9" cy="567.0" r="0.65"/><circle cx="118.0" cy="570.6" r="0.65"/><circle cx="133.8" cy="569.4" r="0.65"/><circle cx="96.0" cy="607.3" r="0.65"/><circle cx="145.9" cy="550.0" r="0.65"/><circle cx="90.4" cy="588.6" r="0.65"/><circle cx="120.1" cy="586.2" r="0.65"/><circle cx="129.4" cy="574.6" r="0.65"/><circle cx="128.5" cy="575.4" r="0.65"/><circle cx="125.9" cy="563.5" r="0.65"/><circle cx="86.3" cy="611.0" r="0.65"/><circle cx="101.4" cy="581.4" r="0.65"/><circle cx="131.6" cy="570.9" r="0.65"/><circle cx="105.4" cy="578.1" r="0.65"/><circle cx="93.2" cy="587.6" r="0.65"/><circle cx="120.0" cy="565.9" r="0.65"/><circle cx="112.2" cy="593.9" r="0.65"/><circle cx="121.0" cy="583.8" r="0.65"/><circle cx="124.6" cy="563.2" r="0.65"/><circle cx="142.0" cy="559.6" r="0.65"/><circle cx="75.1" cy="605.2" r="0.65"/><circle cx="91.4" cy="608.5" r="0.65"/><circle cx="118.6" cy="570.9" r="0.65"/><circle cx="127.0" cy="578.1" r="0.65"/><circle cx="142.9" cy="559.7" r="0.65"/><circle cx="146.9" cy="548.5" r="0.65"/><circle cx="130.2" cy="572.9" r="0.65"/><circle cx="124.7" cy="564.2" r="0.65"/><circle cx="96.2" cy="606.7" r="0.65"/><circle cx="93.5" cy="588.0" r="0.65"/><circle cx="82.8" cy="601.0" r="0.65"/><circle cx="145.9" cy="558.2" r="0.65"/><circle cx="114.8" cy="589.8" r="0.65"/><circle cx="93.3" cy="609.6" r="0.65"/><circle cx="136.7" cy="567.2" r="0.65"/><circle cx="107.3" cy="599.0" r="0.65"/><circle cx="139.8" cy="551.7" r="0.65"/><circle cx="92.0" cy="588.1" r="0.65"/><circle cx="130.2" cy="560.5" r="0.65"/><circle cx="75.8" cy="607.1" r="0.65"/><circle cx="99.7" cy="583.8" r="0.65"/><circle cx="103.9" cy="580.6" r="0.65"/><circle cx="95.7" cy="582.9" r="0.65"/><circle cx="154.9" cy="540.5" r="0.65"/><circle cx="125.5" cy="565.6" r="0.65"/><circle cx="103.1" cy="580.9" r="0.65"/><circle cx="148.0" cy="547.6" r="0.65"/><circle cx="113.7" cy="592.8" r="0.65"/><circle cx="112.9" cy="573.9" r="0.65"/><circle cx="151.3" cy="551.2" r="0.65"/><circle cx="133.8" cy="558.1" r="0.65"/><circle cx="136.0" cy="557.4" r="0.65"/><circle cx="89.9" cy="612.7" r="0.65"/><circle cx="140.6" cy="560.6" r="0.65"/><circle cx="139.4" cy="561.8" r="0.65"/><circle cx="149.1" cy="545.8" r="0.65"/><circle cx="104.7" cy="579.7" r="0.65"/><circle cx="102.9" cy="603.6" r="0.65"/><circle cx="149.2" cy="546.6" r="0.65"/><circle cx="135.0" cy="557.3" r="0.65"/><circle cx="129.9" cy="559.7" r="0.65"/><circle cx="102.1" cy="581.9" r="0.65"/><circle cx="105.6" cy="579.4" r="0.65"/><circle cx="89.2" cy="611.3" r="0.65"/><circle cx="95.5" cy="607.9" r="0.65"/><circle cx="87.8" cy="593.8" r="0.65"/><circle cx="125.8" cy="565.3" r="0.65"/><circle cx="124.6" cy="580.5" r="0.65"/><circle cx="115.3" cy="592.2" r="0.65"/><circle cx="130.5" cy="559.1" r="0.65"/><circle cx="104.4" cy="578.6" r="0.65"/><circle cx="115.6" cy="571.1" r="0.65"/><circle cx="122.6" cy="583.4" r="0.65"/><circle cx="111.8" cy="593.1" r="0.65"/><circle cx="134.1" cy="569.5" r="0.65"/><circle cx="91.3" cy="611.8" r="0.65"/><circle cx="142.4" cy="566.9" r="0.65"/><circle cx="77.3" cy="614.9" r="0.65"/><circle cx="110.4" cy="594.9" r="0.65"/><circle cx="95.9" cy="608.2" r="0.65"/><circle cx="139.4" cy="555.3" r="0.65"/><circle cx="144.5" cy="561.7" r="0.65"/><circle cx="139.8" cy="554.2" r="0.65"/><circle cx="87.7" cy="591.5" r="0.65"/><circle cx="148.9" cy="545.8" r="0.65"/><circle cx="125.5" cy="578.0" r="0.65"/><circle cx="129.1" cy="561.8" r="0.65"/><circle cx="98.7" cy="603.1" r="0.65"/><circle cx="131.4" cy="558.6" r="0.65"/><circle cx="112.2" cy="573.3" r="0.65"/><circle cx="124.2" cy="563.4" r="0.65"/><circle cx="130.6" cy="579.7" r="0.65"/><circle cx="106.5" cy="577.8" r="0.65"/><circle cx="141.4" cy="551.7" r="0.65"/><circle cx="152.1" cy="545.2" r="0.65"/><circle cx="96.1" cy="608.3" r="0.65"/><circle cx="129.8" cy="558.5" r="0.65"/><circle cx="135.1" cy="567.7" r="0.65"/><circle cx="106.9" cy="578.3" r="0.65"/><circle cx="96.8" cy="606.7" r="0.65"/><circle cx="107.2" cy="577.6" r="0.65"/><circle cx="108.0" cy="577.5" r="0.65"/><circle cx="122.7" cy="586.2" r="0.65"/><circle cx="134.0" cy="571.7" r="0.65"/><circle cx="111.3" cy="574.0" r="0.65"/><circle cx="154.0" cy="548.7" r="0.65"/><circle cx="127.4" cy="578.8" r="0.65"/><circle cx="111.2" cy="576.0" r="0.65"/><circle cx="127.1" cy="577.0" r="0.65"/><circle cx="141.0" cy="562.2" r="0.65"/><circle cx="112.3" cy="574.5" r="0.65"/><circle cx="147.9" cy="544.5" r="0.65"/><circle cx="117.4" cy="569.5" r="0.65"/><circle cx="115.0" cy="571.5" r="0.65"/><circle cx="138.1" cy="555.5" r="0.65"/><circle cx="90.4" cy="589.2" r="0.65"/><circle cx="144.2" cy="550.7" r="0.65"/><circle cx="154.7" cy="548.6" r="0.65"/><circle cx="153.9" cy="543.5" r="0.65"/><circle cx="134.7" cy="569.3" r="0.65"/><circle cx="75.2" cy="607.4" r="0.65"/><circle cx="144.1" cy="550.9" r="0.65"/><circle cx="94.0" cy="586.7" r="0.65"/><circle cx="113.1" cy="595.5" r="0.65"/><circle cx="120.1" cy="586.0" r="0.65"/><circle cx="97.7" cy="604.1" r="0.65"/><circle cx="108.7" cy="576.5" r="0.65"/><circle cx="110.2" cy="576.3" r="0.65"/><circle cx="117.0" cy="588.9" r="0.65"/><circle cx="136.0" cy="555.6" r="0.65"/><circle cx="154.4" cy="543.9" r="0.65"/><circle cx="122.7" cy="567.2" r="0.65"/><circle cx="121.7" cy="565.4" r="0.65"/><circle cx="136.3" cy="557.6" r="0.65"/><circle cx="94.4" cy="606.9" r="0.65"/><circle cx="106.1" cy="577.6" r="0.65"/><circle cx="98.6" cy="603.6" r="0.65"/><circle cx="76.9" cy="618.4" r="0.65"/><circle cx="150.9" cy="555.5" r="0.65"/><circle cx="121.0" cy="568.6" r="0.65"/><circle cx="129.7" cy="573.8" r="0.65"/><circle cx="138.1" cy="555.9" r="0.65"/><circle cx="110.2" cy="575.5" r="0.65"/><circle cx="134.8" cy="555.8" r="0.65"/><circle cx="128.7" cy="575.2" r="0.65"/><circle cx="98.1" cy="608.7" r="0.65"/><circle cx="89.8" cy="587.9" r="0.65"/><circle cx="104.4" cy="598.9" r="0.65"/><circle cx="130.6" cy="560.7" r="0.65"/><circle cx="134.9" cy="557.4" r="0.65"/><circle cx="101.2" cy="582.1" r="0.65"/><circle cx="115.7" cy="570.1" r="0.65"/><circle cx="101.6" cy="602.3" r="0.65"/><circle cx="99.9" cy="602.9" r="0.65"/><circle cx="134.1" cy="569.9" r="0.65"/><circle cx="142.0" cy="552.3" r="0.65"/><circle cx="125.1" cy="581.7" r="0.65"/><circle cx="110.8" cy="575.7" r="0.65"/><circle cx="81.1" cy="600.0" r="0.65"/><circle cx="120.2" cy="584.7" r="0.65"/><circle cx="153.2" cy="548.1" r="0.65"/><circle cx="90.2" cy="589.2" r="0.65"/><circle cx="82.8" cy="611.5" r="0.65"/><circle cx="131.0" cy="558.9" r="0.65"/><circle cx="96.7" cy="605.7" r="0.65"/><circle cx="93.0" cy="587.4" r="0.65"/><circle cx="97.1" cy="585.8" r="0.65"/><circle cx="95.1" cy="585.7" r="0.65"/><circle cx="146.6" cy="547.4" r="0.65"/><circle cx="123.8" cy="583.7" r="0.65"/><circle cx="128.1" cy="578.0" r="0.65"/><circle cx="139.0" cy="553.5" r="0.65"/><circle cx="134.0" cy="571.4" r="0.65"/><circle cx="101.6" cy="581.7" r="0.65"/><circle cx="120.3" cy="567.7" r="0.65"/><circle cx="146.1" cy="550.0" r="0.65"/><circle cx="74.3" cy="617.6" r="0.65"/><circle cx="139.0" cy="567.3" r="0.65"/><circle cx="87.5" cy="612.3" r="0.65"/><circle cx="88.5" cy="612.7" r="0.65"/><circle cx="79.1" cy="604.2" r="0.65"/><circle cx="131.6" cy="577.0" r="0.65"/><circle cx="121.9" cy="581.8" r="0.65"/><circle cx="151.4" cy="544.4" r="0.65"/><circle cx="81.6" cy="611.5" r="0.65"/><circle cx="142.1" cy="558.7" r="0.65"/><circle cx="136.5" cy="565.7" r="0.65"/><circle cx="139.7" cy="561.8" r="0.65"/><circle cx="101.0" cy="581.5" r="0.65"/><circle cx="94.0" cy="606.8" r="0.65"/><circle cx="129.4" cy="562.5" r="0.65"/><circle cx="86.9" cy="590.8" r="0.65"/><circle cx="138.6" cy="553.2" r="0.65"/><circle cx="94.1" cy="610.3" r="0.65"/><circle cx="87.6" cy="589.8" r="0.65"/><circle cx="133.8" cy="570.5" r="0.65"/><circle cx="90.5" cy="589.4" r="0.65"/><circle cx="102.3" cy="602.8" r="0.65"/><circle cx="83.3" cy="610.2" r="0.65"/><circle cx="104.0" cy="577.9" r="0.65"/><circle cx="112.5" cy="594.9" r="0.65"/><circle cx="104.2" cy="579.8" r="0.65"/><circle cx="89.3" cy="615.6" r="0.65"/><circle cx="101.4" cy="603.7" r="0.65"/><circle cx="152.7" cy="543.5" r="0.65"/><circle cx="133.8" cy="570.7" r="0.65"/><circle cx="101.5" cy="582.5" r="0.65"/><circle cx="82.0" cy="612.1" r="0.65"/><circle cx="117.0" cy="589.3" r="0.65"/><circle cx="78.8" cy="604.8" r="0.65"/><circle cx="85.5" cy="595.9" r="0.65"/><circle cx="154.9" cy="539.9" r="0.65"/><circle cx="88.3" cy="613.0" r="0.65"/><circle cx="137.0" cy="557.0" r="0.65"/><circle cx="86.7" cy="611.4" r="0.65"/><circle cx="90.2" cy="609.5" r="0.65"/><circle cx="111.8" cy="575.8" r="0.65"/><circle cx="75.3" cy="608.0" r="0.65"/><circle cx="124.6" cy="564.2" r="0.65"/><circle cx="121.1" cy="565.2" r="0.65"/><circle cx="100.3" cy="602.5" r="0.65"/><circle cx="144.7" cy="562.5" r="0.65"/><circle cx="133.4" cy="558.5" r="0.65"/><circle cx="119.9" cy="568.2" r="0.65"/><circle cx="104.0" cy="579.7" r="0.65"/><circle cx="120.7" cy="583.3" r="0.65"/><circle cx="113.8" cy="573.7" r="0.65"/><circle cx="96.3" cy="582.6" r="0.65"/><circle cx="92.0" cy="610.6" r="0.65"/><circle cx="148.4" cy="553.8" r="0.65"/><circle cx="96.7" cy="606.9" r="0.65"/><circle cx="88.2" cy="591.2" r="0.65"/><circle cx="154.7" cy="546.9" r="0.65"/><circle cx="141.3" cy="562.5" r="0.65"/><circle cx="97.7" cy="585.1" r="0.65"/><circle cx="115.1" cy="572.2" r="0.65"/><circle cx="149.4" cy="551.7" r="0.65"/><circle cx="128.6" cy="558.8" r="0.65"/><circle cx="97.9" cy="583.8" r="0.65"/><circle cx="145.9" cy="558.1" r="0.65"/><circle cx="120.2" cy="588.9" r="0.65"/><circle cx="104.9" cy="578.7" r="0.65"/><circle cx="139.3" cy="554.8" r="0.65"/><circle cx="130.9" cy="575.1" r="0.65"/><circle cx="87.6" cy="612.7" r="0.65"/><circle cx="100.3" cy="607.6" r="0.65"/><circle cx="153.0" cy="547.8" r="0.65"/><circle cx="95.7" cy="607.6" r="0.65"/><circle cx="144.8" cy="555.7" r="0.65"/><circle cx="93.0" cy="588.5" r="0.65"/><circle cx="100.1" cy="583.2" r="0.65"/><circle cx="116.6" cy="588.2" r="0.65"/><circle cx="105.8" cy="577.6" r="0.65"/><circle cx="82.4" cy="601.3" r="0.65"/><circle cx="126.7" cy="580.0" r="0.65"/><circle cx="117.8" cy="587.4" r="0.65"/><circle cx="137.3" cy="556.6" r="0.65"/><circle cx="95.1" cy="608.4" r="0.65"/><circle cx="137.1" cy="566.6" r="0.65"/><circle cx="108.0" cy="575.5" r="0.65"/><circle cx="147.7" cy="548.2" r="0.65"/><circle cx="131.2" cy="560.8" r="0.65"/><circle cx="120.4" cy="585.3" r="0.65"/><circle cx="130.4" cy="574.9" r="0.65"/><circle cx="121.9" cy="567.2" r="0.65"/><circle cx="97.6" cy="583.8" r="0.65"/><circle cx="106.7" cy="577.8" r="0.65"/><circle cx="139.4" cy="564.4" r="0.65"/><circle cx="109.5" cy="576.3" r="0.65"/><circle cx="106.6" cy="578.7" r="0.65"/><circle cx="112.3" cy="594.5" r="0.65"/><circle cx="148.0" cy="552.9" r="0.65"/><circle cx="129.5" cy="574.9" r="0.65"/><circle cx="152.5" cy="548.2" r="0.65"/><circle cx="91.0" cy="615.7" r="0.65"/><circle cx="101.1" cy="603.8" r="0.65"/><circle cx="137.0" cy="555.7" r="0.65"/><circle cx="106.5" cy="599.4" r="0.65"/><circle cx="122.2" cy="586.1" r="0.65"/><circle cx="121.1" cy="565.2" r="0.65"/><circle cx="118.6" cy="589.2" r="0.65"/><circle cx="99.8" cy="605.7" r="0.65"/><circle cx="120.0" cy="584.6" r="0.65"/><circle cx="125.0" cy="578.3" r="0.65"/><circle cx="140.8" cy="552.8" r="0.65"/><circle cx="111.5" cy="596.0" r="0.65"/><circle cx="153.3" cy="545.1" r="0.65"/><circle cx="131.0" cy="572.7" r="0.65"/><circle cx="95.2" cy="585.6" r="0.65"/><circle cx="104.0" cy="599.2" r="0.65"/><circle cx="146.2" cy="556.5" r="0.65"/><circle cx="82.0" cy="601.1" r="0.65"/><circle cx="114.1" cy="592.8" r="0.65"/><circle cx="144.9" cy="550.2" r="0.65"/><circle cx="100.7" cy="605.3" r="0.65"/><circle cx="98.8" cy="582.4" r="0.65"/><circle cx="123.8" cy="582.9" r="0.65"/><circle cx="124.9" cy="564.8" r="0.65"/><circle cx="109.7" cy="576.9" r="0.65"/><circle cx="129.3" cy="558.3" r="0.65"/><circle cx="90.5" cy="612.4" r="0.65"/><circle cx="102.9" cy="580.7" r="0.65"/><circle cx="131.3" cy="560.8" r="0.65"/><circle cx="121.8" cy="566.3" r="0.65"/><circle cx="155.8" cy="545.3" r="0.65"/><circle cx="94.9" cy="606.5" r="0.65"/><circle cx="111.6" cy="573.8" r="0.65"/><circle cx="102.8" cy="581.6" r="0.65"/><circle cx="143.7" cy="550.8" r="0.65"/><circle cx="147.1" cy="553.5" r="0.65"/><circle cx="130.6" cy="574.3" r="0.65"/><circle cx="114.5" cy="572.3" r="0.65"/><circle cx="139.0" cy="562.9" r="0.65"/><circle cx="97.7" cy="585.2" r="0.65"/><circle cx="96.7" cy="583.8" r="0.65"/><circle cx="130.1" cy="576.1" r="0.65"/><circle cx="106.5" cy="600.4" r="0.65"/><circle cx="150.1" cy="556.1" r="0.65"/><circle cx="154.3" cy="546.4" r="0.65"/><circle cx="116.8" cy="593.1" r="0.65"/><circle cx="126.1" cy="560.2" r="0.65"/><circle cx="108.8" cy="598.0" r="0.65"/><circle cx="86.5" cy="593.0" r="0.65"/><circle cx="90.4" cy="589.6" r="0.65"/><circle cx="121.1" cy="584.7" r="0.65"/><circle cx="128.0" cy="560.6" r="0.65"/><circle cx="100.3" cy="602.8" r="0.65"/><circle cx="125.7" cy="563.8" r="0.65"/><circle cx="136.6" cy="553.5" r="0.65"/><circle cx="142.1" cy="550.9" r="0.65"/><circle cx="151.4" cy="544.3" r="0.65"/><circle cx="93.8" cy="608.2" r="0.65"/><circle cx="155.0" cy="543.0" r="0.65"/><circle cx="77.8" cy="606.2" r="0.65"/><circle cx="131.2" cy="572.6" r="0.65"/><circle cx="104.6" cy="599.4" r="0.65"/><circle cx="113.8" cy="573.5" r="0.65"/><circle cx="122.5" cy="583.1" r="0.65"/><circle cx="114.3" cy="592.6" r="0.65"/><circle cx="88.7" cy="611.4" r="0.65"/><circle cx="143.2" cy="557.4" r="0.65"/><circle cx="133.3" cy="559.1" r="0.65"/><circle cx="78.8" cy="604.1" r="0.65"/><circle cx="88.6" cy="592.7" r="0.65"/><circle cx="86.2" cy="594.1" r="0.65"/><circle cx="100.3" cy="581.2" r="0.65"/><circle cx="105.3" cy="599.2" r="0.65"/><circle cx="104.9" cy="601.3" r="0.65"/><circle cx="149.4" cy="547.5" r="0.65"/><circle cx="135.1" cy="567.8" r="0.65"/><circle cx="87.4" cy="591.9" r="0.65"/><circle cx="123.8" cy="585.4" r="0.65"/><circle cx="147.9" cy="555.1" r="0.65"/><circle cx="119.8" cy="569.7" r="0.65"/><circle cx="125.8" cy="564.4" r="0.65"/><circle cx="87.6" cy="589.6" r="0.65"/><circle cx="94.1" cy="587.8" r="0.65"/><circle cx="144.1" cy="549.7" r="0.65"/><circle cx="132.9" cy="556.6" r="0.65"/><circle cx="144.9" cy="558.1" r="0.65"/><circle cx="105.5" cy="579.7" r="0.65"/><circle cx="129.5" cy="560.9" r="0.65"/><circle cx="89.3" cy="610.3" r="0.65"/><circle cx="106.8" cy="578.5" r="0.65"/><circle cx="129.4" cy="574.5" r="0.65"/><circle cx="74.6" cy="607.1" r="0.65"/><circle cx="145.1" cy="548.7" r="0.65"/><circle cx="116.7" cy="571.6" r="0.65"/><circle cx="101.0" cy="580.5" r="0.65"/><circle cx="146.6" cy="557.3" r="0.65"/><circle cx="129.4" cy="575.7" r="0.65"/><circle cx="126.1" cy="561.8" r="0.65"/><circle cx="94.0" cy="606.5" r="0.65"/><circle cx="76.6" cy="606.8" r="0.65"/><circle cx="139.0" cy="549.0" r="0.65"/><circle cx="140.6" cy="553.7" r="0.65"/><circle cx="105.1" cy="578.6" r="0.65"/><circle cx="129.9" cy="561.2" r="0.65"/><circle cx="123.3" cy="582.6" r="0.65"/><circle cx="103.3" cy="599.5" r="0.65"/><circle cx="147.4" cy="548.5" r="0.65"/><circle cx="147.9" cy="556.6" r="0.65"/><circle cx="90.1" cy="591.2" r="0.65"/><circle cx="148.6" cy="552.3" r="0.65"/><circle cx="123.9" cy="565.8" r="0.65"/><circle cx="90.0" cy="614.9" r="0.65"/><circle cx="153.1" cy="548.8" r="0.65"/><circle cx="139.6" cy="553.8" r="0.65"/><circle cx="118.3" cy="587.1" r="0.65"/><circle cx="119.3" cy="568.8" r="0.65"/><circle cx="136.8" cy="554.3" r="0.65"/><circle cx="133.9" cy="558.6" r="0.65"/><circle cx="86.4" cy="614.7" r="0.65"/><circle cx="103.7" cy="579.1" r="0.65"/><circle cx="123.1" cy="566.3" r="0.65"/><circle cx="123.7" cy="583.5" r="0.65"/><circle cx="103.0" cy="601.6" r="0.65"/><circle cx="143.7" cy="559.0" r="0.65"/><circle cx="104.8" cy="602.8" r="0.65"/><circle cx="80.5" cy="614.3" r="0.65"/><circle cx="82.0" cy="600.5" r="0.65"/><circle cx="93.7" cy="607.6" r="0.65"/><circle cx="102.1" cy="578.0" r="0.65"/><circle cx="108.1" cy="576.5" r="0.65"/><circle cx="126.2" cy="577.5" r="0.65"/><circle cx="82.2" cy="601.1" r="0.65"/><circle cx="110.5" cy="594.1" r="0.65"/><circle cx="108.1" cy="578.0" r="0.65"/><circle cx="150.8" cy="550.4" r="0.65"/><circle cx="80.6" cy="600.6" r="0.65"/><circle cx="147.8" cy="552.6" r="0.65"/><circle cx="112.0" cy="592.9" r="0.65"/><circle cx="117.0" cy="568.4" r="0.65"/><circle cx="130.0" cy="573.1" r="0.65"/><circle cx="79.9" cy="603.2" r="0.65"/><circle cx="98.4" cy="582.4" r="0.65"/><circle cx="96.3" cy="607.7" r="0.65"/><circle cx="140.3" cy="553.5" r="0.65"/><circle cx="147.6" cy="549.0" r="0.65"/><circle cx="122.4" cy="584.3" r="0.65"/><circle cx="89.7" cy="592.5" r="0.65"/><circle cx="81.4" cy="602.5" r="0.65"/><circle cx="142.4" cy="561.1" r="0.65"/><circle cx="141.6" cy="563.6" r="0.65"/><circle cx="86.3" cy="595.6" r="0.65"/><circle cx="126.8" cy="576.4" r="0.65"/><circle cx="111.1" cy="574.7" r="0.65"/><circle cx="130.6" cy="573.9" r="0.65"/><circle cx="78.8" cy="604.0" r="0.65"/><circle cx="98.9" cy="584.2" r="0.65"/><circle cx="122.0" cy="583.0" r="0.65"/><circle cx="81.0" cy="602.5" r="0.65"/><circle cx="139.3" cy="551.8" r="0.65"/><circle cx="137.2" cy="566.2" r="0.65"/><circle cx="102.2" cy="580.1" r="0.65"/><circle cx="140.3" cy="562.3" r="0.65"/><circle cx="151.9" cy="542.8" r="0.65"/><circle cx="143.9" cy="559.3" r="0.65"/><circle cx="145.6" cy="557.4" r="0.65"/><circle cx="96.7" cy="583.5" r="0.65"/><circle cx="142.2" cy="553.3" r="0.65"/><circle cx="101.0" cy="582.5" r="0.65"/><circle cx="107.3" cy="599.3" r="0.65"/><circle cx="96.5" cy="585.5" r="0.65"/><circle cx="113.9" cy="574.2" r="0.65"/><circle cx="97.3" cy="585.6" r="0.65"/><circle cx="112.7" cy="573.4" r="0.65"/><circle cx="109.7" cy="595.8" r="0.65"/><circle cx="138.8" cy="565.0" r="0.65"/><circle cx="135.3" cy="567.2" r="0.65"/><circle cx="147.7" cy="554.1" r="0.65"/><circle cx="117.3" cy="591.6" r="0.65"/><circle cx="144.5" cy="551.0" r="0.65"/><circle cx="123.0" cy="583.7" r="0.65"/><circle cx="104.2" cy="600.7" r="0.65"/><circle cx="147.2" cy="549.2" r="0.65"/><circle cx="146.7" cy="558.3" r="0.65"/><circle cx="132.9" cy="571.0" r="0.65"/><circle cx="116.6" cy="570.1" r="0.65"/><circle cx="81.1" cy="612.1" r="0.65"/><circle cx="95.4" cy="607.6" r="0.65"/><circle cx="106.5" cy="577.8" r="0.65"/><circle cx="152.0" cy="549.4" r="0.65"/><circle cx="92.5" cy="588.1" r="0.65"/><circle cx="101.7" cy="603.4" r="0.65"/><circle cx="79.8" cy="604.1" r="0.65"/><circle cx="92.3" cy="589.4" r="0.65"/><circle cx="95.2" cy="583.6" r="0.65"/><circle cx="132.9" cy="558.9" r="0.65"/><circle cx="114.9" cy="569.4" r="0.65"/><circle cx="100.0" cy="602.9" r="0.65"/><circle cx="90.7" cy="587.3" r="0.65"/><circle cx="150.8" cy="551.3" r="0.65"/><circle cx="78.4" cy="616.8" r="0.65"/><circle cx="148.1" cy="556.4" r="0.65"/><circle cx="128.8" cy="576.8" r="0.65"/><circle cx="89.3" cy="588.6" r="0.65"/><circle cx="93.1" cy="589.0" r="0.65"/><circle cx="131.0" cy="571.6" r="0.65"/><circle cx="145.3" cy="555.6" r="0.65"/><circle cx="102.3" cy="579.5" r="0.65"/><circle cx="76.4" cy="618.4" r="0.65"/><circle cx="139.8" cy="563.6" r="0.65"/><circle cx="110.8" cy="573.8" r="0.65"/><circle cx="145.4" cy="555.7" r="0.65"/><circle cx="142.6" cy="562.0" r="0.65"/><circle cx="144.5" cy="559.4" r="0.65"/><circle cx="148.3" cy="546.6" r="0.65"/><circle cx="102.0" cy="602.2" r="0.65"/><circle cx="131.0" cy="561.0" r="0.65"/><circle cx="155.1" cy="541.5" r="0.65"/><circle cx="97.5" cy="604.2" r="0.65"/><circle cx="116.4" cy="569.8" r="0.65"/><circle cx="101.9" cy="582.5" r="0.65"/><circle cx="131.9" cy="574.9" r="0.65"/><circle cx="77.2" cy="604.5" r="0.65"/><circle cx="137.5" cy="550.7" r="0.65"/><circle cx="123.7" cy="566.0" r="0.65"/><circle cx="94.8" cy="606.6" r="0.65"/><circle cx="128.9" cy="562.6" r="0.65"/><circle cx="123.3" cy="565.3" r="0.65"/><circle cx="156.2" cy="549.1" r="0.65"/><circle cx="80.8" cy="615.0" r="0.65"/><circle cx="72.3" cy="623.7" r="0.65"/><circle cx="114.3" cy="570.6" r="0.65"/><circle cx="133.0" cy="570.6" r="0.65"/><circle cx="121.0" cy="565.6" r="0.65"/><circle cx="96.1" cy="605.1" r="0.65"/><circle cx="104.0" cy="578.6" r="0.65"/><circle cx="135.8" cy="565.9" r="0.65"/><circle cx="85.3" cy="596.4" r="0.65"/><circle cx="97.2" cy="582.2" r="0.65"/><circle cx="103.8" cy="601.3" r="0.65"/><circle cx="117.3" cy="568.8" r="0.65"/><circle cx="146.1" cy="549.5" r="0.65"/><circle cx="81.7" cy="611.7" r="0.65"/><circle cx="72.9" cy="606.5" r="0.65"/><circle cx="71.1" cy="627.6" r="0.65"/><circle cx="86.5" cy="601.1" r="0.65"/><circle cx="78.8" cy="614.6" r="0.65"/><circle cx="86.2" cy="605.5" r="0.65"/><circle cx="69.3" cy="616.5" r="0.65"/><circle cx="85.6" cy="605.9" r="0.65"/><circle cx="75.1" cy="617.0" r="0.65"/><circle cx="72.1" cy="617.4" r="0.65"/><circle cx="76.7" cy="605.3" r="0.65"/><circle cx="69.9" cy="611.1" r="0.65"/><circle cx="78.7" cy="615.3" r="0.65"/><circle cx="84.2" cy="607.5" r="0.65"/><circle cx="73.2" cy="615.7" r="0.65"/><circle cx="75.9" cy="608.2" r="0.65"/><circle cx="83.8" cy="612.7" r="0.65"/><circle cx="78.7" cy="609.8" r="0.65"/><circle cx="82.3" cy="614.9" r="0.65"/><circle cx="72.5" cy="611.8" r="0.65"/><circle cx="72.0" cy="610.5" r="0.65"/><circle cx="79.1" cy="609.9" r="0.65"/><circle cx="69.8" cy="614.6" r="0.65"/><circle cx="69.0" cy="611.9" r="0.65"/><circle cx="70.4" cy="626.0" r="0.65"/><circle cx="85.6" cy="600.1" r="0.65"/><circle cx="75.8" cy="615.3" r="0.65"/><circle cx="82.5" cy="606.4" r="0.65"/><circle cx="86.8" cy="603.5" r="0.65"/><circle cx="70.5" cy="616.5" r="0.65"/><circle cx="69.7" cy="619.2" r="0.65"/><circle cx="77.5" cy="603.5" r="0.65"/><circle cx="70.3" cy="614.4" r="0.65"/><circle cx="70.7" cy="613.6" r="0.65"/><circle cx="79.9" cy="602.7" r="0.65"/><circle cx="84.5" cy="597.4" r="0.65"/><circle cx="70.7" cy="614.9" r="0.65"/><circle cx="77.8" cy="613.3" r="0.65"/><circle cx="68.6" cy="623.2" r="0.65"/><circle cx="84.2" cy="599.3" r="0.65"/><circle cx="77.8" cy="619.3" r="0.65"/><circle cx="84.6" cy="599.6" r="0.65"/><circle cx="84.1" cy="606.6" r="0.65"/><circle cx="69.1" cy="622.1" r="0.65"/><circle cx="83.3" cy="590.2" r="0.65"/><circle cx="73.8" cy="616.2" r="0.65"/><circle cx="76.6" cy="621.0" r="0.65"/><circle cx="83.1" cy="595.5" r="0.65"/><circle cx="85.7" cy="608.2" r="0.65"/><circle cx="80.3" cy="606.4" r="0.65"/><circle cx="69.3" cy="611.0" r="0.65"/><circle cx="78.1" cy="598.0" r="0.65"/><circle cx="70.9" cy="613.9" r="0.65"/><circle cx="77.2" cy="610.0" r="0.65"/><circle cx="69.6" cy="608.0" r="0.65"/><circle cx="82.8" cy="611.6" r="0.65"/><circle cx="85.1" cy="599.0" r="0.65"/><circle cx="69.1" cy="618.7" r="0.65"/><circle cx="83.8" cy="600.6" r="0.65"/><circle cx="70.9" cy="613.4" r="0.65"/><circle cx="156.7" cy="540.4" r="0.65"/><circle cx="150.3" cy="545.6" r="0.65"/><circle cx="156.1" cy="541.4" r="0.65"/><circle cx="163.7" cy="538.6" r="0.65"/><circle cx="164.5" cy="537.6" r="0.65"/><circle cx="151.0" cy="546.3" r="0.65"/><circle cx="164.0" cy="538.2" r="0.65"/><circle cx="160.3" cy="541.4" r="0.65"/><circle cx="148.9" cy="547.4" r="0.65"/><circle cx="156.2" cy="545.9" r="0.65"/><circle cx="165.9" cy="536.7" r="0.65"/><circle cx="152.9" cy="543.3" r="0.65"/><circle cx="158.6" cy="541.2" r="0.65"/><circle cx="165.7" cy="534.4" r="0.65"/><circle cx="151.9" cy="543.9" r="0.65"/><circle cx="148.5" cy="551.6" r="0.65"/><circle cx="164.6" cy="534.9" r="0.65"/><circle cx="148.3" cy="550.3" r="0.65"/><circle cx="152.7" cy="547.2" r="0.65"/><circle cx="165.3" cy="538.2" r="0.65"/><circle cx="153.3" cy="546.6" r="0.65"/><circle cx="153.5" cy="547.5" r="0.65"/><circle cx="152.9" cy="548.7" r="0.65"/><circle cx="160.9" cy="542.6" r="0.65"/><circle cx="154.6" cy="547.9" r="0.65"/><circle cx="159.1" cy="539.9" r="0.65"/><circle cx="160.3" cy="539.3" r="0.65"/><circle cx="150.2" cy="545.4" r="0.65"/><circle cx="159.6" cy="539.4" r="0.65"/><circle cx="149.9" cy="550.4" r="0.65"/><circle cx="150.7" cy="549.6" r="0.65"/><circle cx="153.2" cy="545.1" r="0.65"/><circle cx="165.7" cy="538.4" r="0.65"/><circle cx="163.9" cy="540.9" r="0.65"/><circle cx="159.5" cy="544.0" r="0.65"/><circle cx="159.8" cy="541.4" r="0.65"/><circle cx="154.2" cy="544.5" r="0.65"/><circle cx="158.8" cy="540.0" r="0.65"/><circle cx="160.2" cy="542.9" r="0.65"/><circle cx="161.7" cy="537.6" r="0.65"/><circle cx="81.9" cy="618.8" r="0.65"/><circle cx="89.5" cy="614.9" r="0.65"/><circle cx="122.4" cy="561.3" r="0.65"/><circle cx="119.0" cy="565.9" r="0.65"/><circle cx="120.3" cy="592.8" r="0.65"/><circle cx="146.3" cy="568.3" r="0.65"/><circle cx="107.8" cy="600.5" r="0.65"/><circle cx="147.0" cy="542.2" r="0.65"/><circle cx="127.8" cy="560.5" r="0.65"/><circle cx="126.3" cy="559.1" r="0.65"/><circle cx="92.0" cy="612.7" r="0.65"/><circle cx="89.9" cy="614.6" r="0.65"/><circle cx="116.8" cy="594.7" r="0.65"/><circle cx="121.0" cy="590.9" r="0.65"/><circle cx="118.4" cy="566.4" r="0.65"/><circle cx="106.1" cy="601.9" r="0.65"/><circle cx="142.4" cy="547.4" r="0.65"/><circle cx="90.2" cy="614.3" r="0.65"/><circle cx="103.7" cy="577.3" r="0.65"/><circle cx="86.1" cy="591.4" r="0.65"/><circle cx="132.7" cy="552.8" r="0.65"/><circle cx="110.5" cy="599.0" r="0.65"/><circle cx="124.4" cy="588.5" r="0.65"/><circle cx="119.2" cy="562.9" r="0.65"/><circle cx="118.4" cy="565.7" r="0.65"/><circle cx="147.9" cy="570.6" r="0.65"/><circle cx="107.4" cy="599.9" r="0.65"/><circle cx="81.9" cy="595.3" r="0.65"/><circle cx="129.9" cy="556.1" r="0.65"/><circle cx="95.5" cy="608.1" r="0.65"/></g>
<g fill="#e0242b"><circle cx="139.4" cy="554.7" r="0.8"/><circle cx="144.9" cy="547.4" r="0.8"/><circle cx="121.9" cy="564.6" r="0.8"/><circle cx="122.4" cy="567.0" r="0.8"/><circle cx="118.4" cy="568.2" r="0.8"/><circle cx="139.9" cy="554.1" r="0.8"/><circle cx="125.6" cy="563.0" r="0.8"/><circle cx="126.1" cy="560.8" r="0.8"/><circle cx="128.0" cy="562.0" r="0.8"/><circle cx="143.9" cy="549.4" r="0.8"/><circle cx="115.4" cy="569.6" r="0.8"/><circle cx="139.8" cy="554.3" r="0.8"/><circle cx="130.1" cy="559.7" r="0.8"/><circle cx="116.0" cy="571.6" r="0.8"/><circle cx="114.1" cy="571.2" r="0.8"/><circle cx="120.9" cy="565.5" r="0.8"/><circle cx="115.4" cy="569.1" r="0.8"/><circle cx="122.9" cy="562.9" r="0.8"/><circle cx="137.0" cy="555.8" r="0.8"/><circle cx="144.9" cy="548.9" r="0.8"/><circle cx="117.7" cy="569.9" r="0.8"/><circle cx="132.9" cy="558.0" r="0.8"/><circle cx="131.6" cy="559.7" r="0.8"/><circle cx="139.5" cy="553.8" r="0.8"/><circle cx="139.9" cy="552.8" r="0.8"/><circle cx="120.1" cy="566.2" r="0.8"/><circle cx="124.9" cy="563.1" r="0.8"/><circle cx="126.4" cy="559.6" r="0.8"/><circle cx="134.2" cy="558.4" r="0.8"/><circle cx="145.4" cy="550.2" r="0.8"/><circle cx="109.0" cy="571.8" r="0.8"/><circle cx="115.6" cy="572.5" r="0.8"/><circle cx="112.3" cy="572.0" r="0.8"/><circle cx="138.7" cy="555.2" r="0.8"/><circle cx="112.0" cy="575.1" r="0.8"/><circle cx="109.0" cy="575.5" r="0.8"/><circle cx="123.6" cy="561.3" r="0.8"/><circle cx="130.1" cy="557.7" r="0.8"/><circle cx="127.7" cy="559.0" r="0.8"/><circle cx="131.2" cy="560.1" r="0.8"/><circle cx="119.1" cy="567.6" r="0.8"/><circle cx="110.4" cy="570.1" r="0.8"/><circle cx="123.3" cy="566.1" r="0.8"/><circle cx="123.6" cy="562.4" r="0.8"/><circle cx="115.5" cy="569.3" r="0.8"/><circle cx="109.9" cy="575.4" r="0.8"/><circle cx="112.7" cy="571.7" r="0.8"/><circle cx="131.8" cy="559.7" r="0.8"/><circle cx="131.8" cy="558.0" r="0.8"/><circle cx="134.6" cy="553.9" r="0.8"/><circle cx="117.6" cy="565.0" r="0.8"/><circle cx="122.2" cy="565.2" r="0.8"/><circle cx="112.4" cy="574.5" r="0.8"/><circle cx="130.0" cy="561.6" r="0.8"/><circle cx="108.6" cy="577.2" r="0.8"/><circle cx="125.7" cy="564.4" r="0.8"/><circle cx="115.2" cy="568.2" r="0.8"/><circle cx="121.9" cy="567.4" r="0.8"/><circle cx="131.4" cy="556.0" r="0.8"/><circle cx="129.0" cy="560.7" r="0.8"/><circle cx="125.5" cy="561.7" r="0.8"/><circle cx="138.5" cy="552.3" r="0.8"/><circle cx="114.7" cy="568.5" r="0.8"/><circle cx="110.2" cy="575.8" r="0.8"/><circle cx="124.3" cy="565.5" r="0.8"/><circle cx="126.5" cy="563.4" r="0.8"/><circle cx="143.3" cy="550.4" r="0.8"/><circle cx="137.5" cy="552.2" r="0.8"/><circle cx="122.1" cy="563.7" r="0.8"/><circle cx="123.7" cy="564.8" r="0.8"/><circle cx="110.8" cy="571.9" r="0.8"/><circle cx="142.3" cy="550.1" r="0.8"/><circle cx="117.0" cy="568.7" r="0.8"/><circle cx="118.5" cy="568.5" r="0.8"/><circle cx="135.5" cy="557.7" r="0.8"/><circle cx="123.2" cy="564.5" r="0.8"/><circle cx="111.5" cy="570.9" r="0.8"/><circle cx="114.8" cy="570.9" r="0.8"/><circle cx="114.6" cy="569.8" r="0.8"/><circle cx="121.3" cy="564.8" r="0.8"/><circle cx="121.0" cy="564.3" r="0.8"/><circle cx="126.0" cy="564.5" r="0.8"/><circle cx="123.7" cy="565.6" r="0.8"/><circle cx="116.4" cy="566.1" r="0.8"/><circle cx="123.2" cy="563.1" r="0.8"/><circle cx="111.7" cy="571.5" r="0.8"/><circle cx="110.6" cy="575.0" r="0.8"/><circle cx="110.9" cy="575.8" r="0.8"/><circle cx="141.7" cy="549.3" r="0.8"/><circle cx="118.9" cy="570.2" r="0.8"/><circle cx="133.8" cy="556.2" r="0.8"/><circle cx="108.8" cy="572.4" r="0.8"/><circle cx="109.3" cy="575.8" r="0.8"/><circle cx="135.8" cy="554.2" r="0.8"/><circle cx="114.2" cy="570.7" r="0.8"/><circle cx="136.8" cy="554.4" r="0.8"/><circle cx="125.0" cy="564.9" r="0.8"/><circle cx="109.3" cy="576.1" r="0.8"/><circle cx="125.0" cy="562.8" r="0.8"/><circle cx="122.4" cy="564.3" r="0.8"/><circle cx="126.6" cy="561.3" r="0.8"/><circle cx="120.5" cy="564.2" r="0.8"/><circle cx="125.2" cy="560.8" r="0.8"/><circle cx="145.3" cy="547.5" r="0.8"/><circle cx="135.5" cy="554.8" r="0.8"/><circle cx="126.1" cy="563.8" r="0.8"/><circle cx="110.2" cy="572.3" r="0.8"/><circle cx="114.7" cy="569.7" r="0.8"/><circle cx="126.0" cy="562.0" r="0.8"/><circle cx="121.2" cy="567.4" r="0.8"/><circle cx="116.6" cy="567.8" r="0.8"/><circle cx="140.7" cy="552.8" r="0.8"/><circle cx="116.9" cy="569.2" r="0.8"/><circle cx="121.2" cy="565.1" r="0.8"/><circle cx="134.8" cy="554.9" r="0.8"/><circle cx="137.2" cy="553.5" r="0.8"/><circle cx="144.7" cy="549.4" r="0.8"/><circle cx="121.9" cy="564.6" r="0.8"/><circle cx="116.9" cy="566.7" r="0.8"/><circle cx="120.8" cy="565.9" r="0.8"/><circle cx="124.8" cy="564.2" r="0.8"/><circle cx="108.1" cy="576.3" r="0.8"/><circle cx="123.0" cy="561.8" r="0.8"/><circle cx="111.2" cy="569.8" r="0.8"/><circle cx="144.7" cy="548.0" r="0.8"/><circle cx="115.7" cy="572.4" r="0.8"/><circle cx="140.4" cy="553.8" r="0.8"/><circle cx="116.4" cy="566.2" r="0.8"/><circle cx="131.2" cy="557.1" r="0.8"/><circle cx="138.3" cy="555.1" r="0.8"/><circle cx="124.2" cy="566.0" r="0.8"/><circle cx="119.3" cy="567.3" r="0.8"/><circle cx="137.5" cy="555.2" r="0.8"/><circle cx="130.9" cy="560.8" r="0.8"/><circle cx="114.9" cy="572.8" r="0.8"/><circle cx="127.3" cy="561.2" r="0.8"/><circle cx="132.9" cy="558.0" r="0.8"/><circle cx="143.0" cy="549.5" r="0.8"/><circle cx="126.8" cy="559.9" r="0.8"/><circle cx="112.4" cy="573.3" r="0.8"/><circle cx="126.1" cy="562.0" r="0.8"/><circle cx="143.9" cy="549.1" r="0.8"/><circle cx="108.8" cy="570.9" r="0.8"/><circle cx="122.7" cy="566.5" r="0.8"/><circle cx="135.1" cy="555.5" r="0.8"/><circle cx="139.2" cy="552.9" r="0.8"/><circle cx="114.9" cy="570.5" r="0.8"/><circle cx="122.6" cy="565.8" r="0.8"/><circle cx="127.3" cy="563.4" r="0.8"/><circle cx="114.8" cy="572.6" r="0.8"/><circle cx="108.4" cy="574.4" r="0.8"/><circle cx="134.0" cy="557.3" r="0.8"/><circle cx="141.4" cy="551.1" r="0.8"/><circle cx="130.5" cy="560.4" r="0.8"/><circle cx="141.3" cy="552.2" r="0.8"/><circle cx="138.8" cy="554.4" r="0.8"/><circle cx="143.7" cy="549.1" r="0.8"/><circle cx="112.4" cy="570.3" r="0.8"/><circle cx="111.7" cy="573.2" r="0.8"/><circle cx="119.3" cy="568.3" r="0.8"/><circle cx="118.7" cy="569.7" r="0.8"/><circle cx="120.1" cy="569.0" r="0.8"/><circle cx="136.6" cy="555.6" r="0.8"/><circle cx="132.9" cy="558.0" r="0.8"/><circle cx="144.8" cy="547.6" r="0.8"/><circle cx="132.6" cy="556.1" r="0.8"/><circle cx="141.9" cy="549.3" r="0.8"/><circle cx="120.6" cy="565.8" r="0.8"/><circle cx="109.3" cy="575.0" r="0.8"/><circle cx="117.4" cy="567.8" r="0.8"/><circle cx="108.1" cy="572.9" r="0.8"/><circle cx="109.5" cy="574.5" r="0.8"/><circle cx="123.4" cy="562.3" r="0.8"/><circle cx="129.4" cy="561.8" r="0.8"/><circle cx="130.9" cy="560.4" r="0.8"/><circle cx="128.8" cy="561.1" r="0.8"/><circle cx="143.9" cy="549.9" r="0.8"/><circle cx="115.5" cy="571.1" r="0.8"/><circle cx="144.0" cy="550.3" r="0.8"/><circle cx="114.5" cy="570.3" r="0.8"/><circle cx="131.0" cy="556.6" r="0.8"/><circle cx="109.6" cy="575.0" r="0.8"/><circle cx="133.3" cy="557.3" r="0.8"/><circle cx="131.9" cy="557.4" r="0.8"/><circle cx="109.9" cy="576.4" r="0.8"/><circle cx="112.4" cy="573.3" r="0.8"/><circle cx="112.5" cy="573.3" r="0.8"/><circle cx="110.5" cy="576.1" r="0.8"/><circle cx="125.0" cy="561.8" r="0.8"/><circle cx="111.8" cy="574.9" r="0.8"/><circle cx="133.6" cy="559.0" r="0.8"/><circle cx="111.3" cy="572.8" r="0.8"/><circle cx="116.3" cy="567.4" r="0.8"/><circle cx="124.2" cy="563.7" r="0.8"/><circle cx="119.1" cy="569.9" r="0.8"/><circle cx="137.7" cy="554.7" r="0.8"/><circle cx="138.0" cy="555.5" r="0.8"/><circle cx="121.3" cy="565.6" r="0.8"/><circle cx="111.7" cy="575.1" r="0.8"/><circle cx="143.0" cy="548.6" r="0.8"/><circle cx="146.0" cy="548.1" r="0.8"/><circle cx="133.8" cy="556.5" r="0.8"/><circle cx="123.1" cy="566.4" r="0.8"/><circle cx="129.8" cy="560.2" r="0.8"/><circle cx="131.4" cy="560.7" r="0.8"/><circle cx="116.2" cy="571.6" r="0.8"/><circle cx="135.1" cy="556.1" r="0.8"/><circle cx="116.0" cy="567.6" r="0.8"/><circle cx="124.8" cy="564.6" r="0.8"/><circle cx="119.8" cy="569.5" r="0.8"/><circle cx="109.1" cy="577.0" r="0.8"/><circle cx="144.2" cy="548.0" r="0.8"/><circle cx="125.8" cy="560.1" r="0.8"/><circle cx="125.6" cy="561.8" r="0.8"/><circle cx="110.3" cy="573.9" r="0.8"/><circle cx="128.5" cy="561.3" r="0.8"/><circle cx="130.3" cy="560.3" r="0.8"/><circle cx="130.4" cy="560.9" r="0.8"/><circle cx="123.6" cy="564.7" r="0.8"/><circle cx="125.0" cy="565.5" r="0.8"/><circle cx="114.5" cy="569.1" r="0.8"/><circle cx="112.0" cy="572.4" r="0.8"/><circle cx="145.7" cy="548.1" r="0.8"/><circle cx="133.8" cy="555.6" r="0.8"/><circle cx="144.5" cy="549.8" r="0.8"/><circle cx="119.9" cy="565.2" r="0.8"/><circle cx="108.4" cy="574.9" r="0.8"/><circle cx="115.4" cy="569.5" r="0.8"/><circle cx="133.8" cy="555.2" r="0.8"/><circle cx="124.3" cy="562.7" r="0.8"/><circle cx="150.4" cy="539.8" r="0.8"/><circle cx="157.3" cy="531.0" r="0.8"/><circle cx="146.5" cy="545.5" r="0.8"/><circle cx="116.5" cy="562.5" r="0.8"/><circle cx="122.0" cy="560.5" r="0.8"/></g>
<g fill="#27598f"><circle cx="124.8" cy="584.0" r="0.7"/><circle cx="144.4" cy="561.7" r="0.7"/><circle cx="134.3" cy="572.1" r="0.7"/><circle cx="132.5" cy="572.4" r="0.7"/><circle cx="127.5" cy="581.9" r="0.7"/><circle cx="134.9" cy="569.3" r="0.7"/><circle cx="137.1" cy="571.1" r="0.7"/><circle cx="138.0" cy="566.1" r="0.7"/><circle cx="144.9" cy="558.7" r="0.7"/><circle cx="134.7" cy="571.3" r="0.7"/><circle cx="126.8" cy="579.3" r="0.7"/><circle cx="127.3" cy="578.4" r="0.7"/><circle cx="123.9" cy="584.9" r="0.7"/><circle cx="138.3" cy="566.0" r="0.7"/><circle cx="144.9" cy="559.9" r="0.7"/><circle cx="133.5" cy="576.1" r="0.7"/><circle cx="137.9" cy="567.6" r="0.7"/><circle cx="140.2" cy="567.1" r="0.7"/><circle cx="130.1" cy="574.8" r="0.7"/><circle cx="139.8" cy="567.5" r="0.7"/><circle cx="136.8" cy="567.2" r="0.7"/><circle cx="140.1" cy="563.8" r="0.7"/><circle cx="141.3" cy="565.0" r="0.7"/><circle cx="137.6" cy="566.1" r="0.7"/><circle cx="131.4" cy="577.0" r="0.7"/><circle cx="125.6" cy="580.0" r="0.7"/><circle cx="132.5" cy="576.6" r="0.7"/><circle cx="137.5" cy="566.8" r="0.7"/><circle cx="124.9" cy="585.3" r="0.7"/><circle cx="142.4" cy="564.5" r="0.7"/><circle cx="127.8" cy="581.3" r="0.7"/><circle cx="123.2" cy="583.1" r="0.7"/><circle cx="130.4" cy="580.0" r="0.7"/><circle cx="123.8" cy="582.4" r="0.7"/><circle cx="139.9" cy="567.6" r="0.7"/><circle cx="129.2" cy="575.9" r="0.7"/><circle cx="142.6" cy="566.4" r="0.7"/><circle cx="143.9" cy="561.9" r="0.7"/><circle cx="125.0" cy="584.5" r="0.7"/><circle cx="137.9" cy="570.2" r="0.7"/><circle cx="153.8" cy="559.3" r="0.7"/><circle cx="154.7" cy="561.4" r="0.7"/><circle cx="147.8" cy="567.0" r="0.7"/><circle cx="144.3" cy="566.2" r="0.7"/><circle cx="150.8" cy="572.2" r="0.7"/><circle cx="163.8" cy="569.2" r="0.7"/><circle cx="156.0" cy="589.1" r="0.7"/><circle cx="126.7" cy="596.9" r="0.7"/><circle cx="136.5" cy="592.9" r="0.7"/><circle cx="141.7" cy="570.0" r="0.7"/><circle cx="142.6" cy="572.7" r="0.7"/></g>
<g fill="#27598f"><circle cx="200.7" cy="530.8" r="0.8"/><circle cx="205.5" cy="533.4" r="0.8"/><circle cx="189.0" cy="546.0" r="0.8"/></g>
<path d="M55.8 627.5 L212.4 505.8" stroke="#000" stroke-width="1.1"/>
<path d="M55.8 618.8 L200.8 505.4" stroke="#000" stroke-width="1.0" stroke-dasharray="3.2 2"/>
<path d="M56.3 636.0 L212.4 514.3" stroke="#000" stroke-width="1.0" stroke-dasharray="3.2 2"/>
<rect x="55.8" y="505.4" width="156.60000000000002" height="130.60000000000002" fill="none" stroke="#000" stroke-width="1.2"/>
<path d="M52.599999999999994 510.30 H55.8" stroke="#000" stroke-width="1"/>
<text x="50.30" y="513.20" font-size="8.2" text-anchor="end" fill="#231f20" stroke="#231f20" stroke-width="0.2">5.0</text>
<path d="M52.599999999999994 549.55 H55.8" stroke="#000" stroke-width="1"/>
<text x="50.30" y="552.45" font-size="8.2" text-anchor="end" fill="#231f20" stroke="#231f20" stroke-width="0.2">2.5</text>
<path d="M52.599999999999994 588.80 H55.8" stroke="#000" stroke-width="1"/>
<text x="50.30" y="591.70" font-size="8.2" text-anchor="end" fill="#231f20" stroke="#231f20" stroke-width="0.2">0.0</text>
<path d="M52.599999999999994 628.05 H55.8" stroke="#000" stroke-width="1"/>
<text x="50.30" y="630.95" font-size="8.2" text-anchor="end" fill="#231f20" stroke="#231f20" stroke-width="0.2">−2.5</text>
<path d="M65.60 636.0 V639.4" stroke="#000" stroke-width="1"/>
<text x="63.30" y="648.80" font-size="8.2" text-anchor="middle" fill="#231f20" stroke="#231f20" stroke-width="0.2">−2</text>
<path d="M106.00 636.0 V639.4" stroke="#000" stroke-width="1"/>
<text x="106.00" y="648.80" font-size="8.2" text-anchor="middle" fill="#231f20" stroke="#231f20" stroke-width="0.2">0</text>
<path d="M146.40 636.0 V639.4" stroke="#000" stroke-width="1"/>
<text x="146.40" y="648.80" font-size="8.2" text-anchor="middle" fill="#231f20" stroke="#231f20" stroke-width="0.2">2</text>
<path d="M186.80 636.0 V639.4" stroke="#000" stroke-width="1"/>
<text x="186.80" y="648.80" font-size="8.2" text-anchor="middle" fill="#231f20" stroke="#231f20" stroke-width="0.2">4</text>
<text x="0.00" y="0.00" font-size="8.8" text-anchor="middle" fill="#231f20" stroke="#231f20" stroke-width="0.2" transform="translate(134.30 662.20) scale(0.74 1)">Log<tspan font-size="5.6" dy="1.8">2</tspan><tspan dy="-1.8">FC in stable group</tspan></text>
<text x="0.00" y="0.00" font-size="8.8" text-anchor="middle" fill="#231f20" stroke="#231f20" stroke-width="0.2" transform="translate(31.5 568.7) rotate(-90) scale(0.74 1)">Log<tspan font-size="5.6" dy="1.8">2</tspan><tspan dy="-1.8">FC in shifted group</tspan></text>
<text x="114.30" y="543.30" font-size="8.0" text-anchor="start" font-style="italic" fill="#231f20" stroke="#231f20" stroke-width="0.2">ESPL1</text>
<text x="90.80" y="556.60" font-size="8.0" text-anchor="start" font-style="italic" fill="#231f20" stroke="#231f20" stroke-width="0.2">CDC25A</text>
<text x="84.90" y="571.80" font-size="8.0" text-anchor="start" font-style="italic" fill="#231f20" stroke="#231f20" stroke-width="0.2">E2F2</text>
<text x="144.30" y="586.30" font-size="8.0" text-anchor="start" font-style="italic" fill="#231f20" stroke="#231f20" stroke-width="0.2">CD69</text>
<text x="127.60" y="594.80" font-size="8.0" text-anchor="start" font-style="italic" fill="#231f20" stroke="#231f20" stroke-width="0.2">CD83</text>
<text x="194.30" y="540.50" font-size="8.0" text-anchor="start" font-style="italic" fill="#231f20" stroke="#231f20" stroke-width="0.2">FOS</text>
<path d="M138.3 543.7 L144.6 549.6" stroke="#231f20" stroke-width="0.7"/>
<path d="M124.5 554.3 L135.1 557.7" stroke="#231f20" stroke-width="0.7"/>
<path d="M104.8 569.0 L112.9 571.8" stroke="#231f20" stroke-width="0.7"/>
<path d="M144.2 581.8 L140.4 574.0" stroke="#231f20" stroke-width="0.7"/>
<path d="M138.3 572.9 L138.3 586.6" stroke="#231f20" stroke-width="0.7"/>
<text x="296.30" y="490.80" font-size="11" text-anchor="start" font-weight="bold" fill="#000" stroke="#000" stroke-width="0.2">D</text>
<defs><filter id="hb" x="-5%" y="-5%" width="110%" height="110%"><feGaussianBlur stdDeviation="0.55"/></filter><clipPath id="hc"><rect x="353.5" y="502.5" width="110.76" height="152.28"/></clipPath></defs>
<g clip-path="url(#hc)"><g filter="url(#hb)">
<rect x="352.00" y="501.00" width="10.72" height="10.66" fill="#64648e"/>
<rect x="362.02" y="501.00" width="9.22" height="10.66" fill="#69698c"/>
<rect x="370.54" y="501.00" width="9.22" height="10.66" fill="#969675"/>
<rect x="379.06" y="501.00" width="9.22" height="10.66" fill="#8c8c82"/>
<rect x="387.58" y="501.00" width="9.22" height="10.66" fill="#8c8c82"/>
<rect x="396.10" y="501.00" width="9.22" height="10.66" fill="#afaf54"/>
<rect x="404.62" y="501.00" width="9.22" height="10.66" fill="#9b9b6e"/>
<rect x="413.14" y="501.00" width="9.22" height="10.66" fill="#5f5f90"/>
<rect x="421.66" y="501.00" width="9.22" height="10.66" fill="#7d7d86"/>
<rect x="430.18" y="501.00" width="9.22" height="10.66" fill="#69698c"/>
<rect x="438.70" y="501.00" width="9.22" height="10.66" fill="#69698c"/>
<rect x="447.22" y="501.00" width="9.22" height="10.66" fill="#c8c834"/>
<rect x="455.74" y="501.00" width="10.72" height="10.66" fill="#878784"/>
<rect x="352.00" y="510.96" width="10.72" height="9.16" fill="#3c3c9a"/>
<rect x="362.02" y="510.96" width="9.22" height="9.16" fill="#6e6e8b"/>
<rect x="370.54" y="510.96" width="9.22" height="9.16" fill="#9b9b6e"/>
<rect x="379.06" y="510.96" width="9.22" height="9.16" fill="#8c8c82"/>
<rect x="387.58" y="510.96" width="9.22" height="9.16" fill="#8c8c82"/>
<rect x="396.10" y="510.96" width="9.22" height="9.16" fill="#5a5a91"/>
<rect x="404.62" y="510.96" width="9.22" height="9.16" fill="#9b9b6e"/>
<rect x="413.14" y="510.96" width="9.22" height="9.16" fill="#3c3c9a"/>
<rect x="421.66" y="510.96" width="9.22" height="9.16" fill="#8c8c82"/>
<rect x="430.18" y="510.96" width="9.22" height="9.16" fill="#64648e"/>
<rect x="438.70" y="510.96" width="9.22" height="9.16" fill="#505094"/>
<rect x="447.22" y="510.96" width="9.22" height="9.16" fill="#91917c"/>
<rect x="455.74" y="510.96" width="10.72" height="9.16" fill="#969675"/>
<rect x="352.00" y="519.42" width="10.72" height="9.16" fill="#69698c"/>
<rect x="362.02" y="519.42" width="9.22" height="9.16" fill="#aaaa5b"/>
<rect x="370.54" y="519.42" width="9.22" height="9.16" fill="#8c8c82"/>
<rect x="379.06" y="519.42" width="9.22" height="9.16" fill="#8c8c82"/>
<rect x="387.58" y="519.42" width="9.22" height="9.16" fill="#8c8c82"/>
<rect x="396.10" y="519.42" width="9.22" height="9.16" fill="#5f5f90"/>
<rect x="404.62" y="519.42" width="9.22" height="9.16" fill="#969675"/>
<rect x="413.14" y="519.42" width="9.22" height="9.16" fill="#828285"/>
<rect x="421.66" y="519.42" width="9.22" height="9.16" fill="#8c8c82"/>
<rect x="430.18" y="519.42" width="9.22" height="9.16" fill="#8c8c82"/>
<rect x="438.70" y="519.42" width="9.22" height="9.16" fill="#5a5a91"/>
<rect x="447.22" y="519.42" width="9.22" height="9.16" fill="#969675"/>
<rect x="455.74" y="519.42" width="10.72" height="9.16" fill="#8c8c82"/>
<rect x="352.00" y="527.88" width="10.72" height="9.16" fill="#5f5f90"/>
<rect x="362.02" y="527.88" width="9.22" height="9.16" fill="#8c8c82"/>
<rect x="370.54" y="527.88" width="9.22" height="9.16" fill="#8c8c82"/>
<rect x="379.06" y="527.88" width="9.22" height="9.16" fill="#6e6e8b"/>
<rect x="387.58" y="527.88" width="9.22" height="9.16" fill="#8c8c82"/>
<rect x="396.10" y="527.88" width="9.22" height="9.16" fill="#8c8c82"/>
<rect x="404.62" y="527.88" width="9.22" height="9.16" fill="#91917c"/>
<rect x="413.14" y="527.88" width="9.22" height="9.16" fill="#787888"/>
<rect x="421.66" y="527.88" width="9.22" height="9.16" fill="#8c8c82"/>
<rect x="430.18" y="527.88" width="9.22" height="9.16" fill="#8c8c82"/>
<rect x="438.70" y="527.88" width="9.22" height="9.16" fill="#8c8c82"/>
<rect x="447.22" y="527.88" width="9.22" height="9.16" fill="#8c8c82"/>
<rect x="455.74" y="527.88" width="10.72" height="9.16" fill="#8c8c82"/>
<rect x="352.00" y="536.34" width="10.72" height="9.16" fill="#ebeb06"/>
<rect x="362.02" y="536.34" width="9.22" height="9.16" fill="#b9b948"/>
<rect x="370.54" y="536.34" width="9.22" height="9.16" fill="#b4b44e"/>
<rect x="379.06" y="536.34" width="9.22" height="9.16" fill="#414198"/>
<rect x="387.58" y="536.34" width="9.22" height="9.16" fill="#3c3c9a"/>
<rect x="396.10" y="536.34" width="9.22" height="9.16" fill="#787888"/>
<rect x="404.62" y="536.34" width="9.22" height="9.16" fill="#64648e"/>
<rect x="413.14" y="536.34" width="9.22" height="9.16" fill="#a5a562"/>
<rect x="421.66" y="536.34" width="9.22" height="9.16" fill="#a0a068"/>
<rect x="430.18" y="536.34" width="9.22" height="9.16" fill="#969675"/>
<rect x="438.70" y="536.34" width="9.22" height="9.16" fill="#969675"/>
<rect x="447.22" y="536.34" width="9.22" height="9.16" fill="#69698c"/>
<rect x="455.74" y="536.34" width="10.72" height="9.16" fill="#5a5a91"/>
<rect x="352.00" y="544.80" width="10.72" height="9.16" fill="#dcdc1a"/>
<rect x="362.02" y="544.80" width="9.22" height="9.16" fill="#91917c"/>
<rect x="370.54" y="544.80" width="9.22" height="9.16" fill="#ebeb06"/>
<rect x="379.06" y="544.80" width="9.22" height="9.16" fill="#afaf54"/>
<rect x="387.58" y="544.80" width="9.22" height="9.16" fill="#828285"/>
<rect x="396.10" y="544.80" width="9.22" height="9.16" fill="#aaaa5b"/>
<rect x="404.62" y="544.80" width="9.22" height="9.16" fill="#b9b948"/>
<rect x="413.14" y="544.80" width="9.22" height="9.16" fill="#4b4b96"/>
<rect x="421.66" y="544.80" width="9.22" height="9.16" fill="#555592"/>
<rect x="430.18" y="544.80" width="9.22" height="9.16" fill="#64648e"/>
<rect x="438.70" y="544.80" width="9.22" height="9.16" fill="#6e6e8b"/>
<rect x="447.22" y="544.80" width="9.22" height="9.16" fill="#37379c"/>
<rect x="455.74" y="544.80" width="10.72" height="9.16" fill="#37379c"/>
<rect x="352.00" y="553.26" width="10.72" height="9.16" fill="#a5a562"/>
<rect x="362.02" y="553.26" width="9.22" height="9.16" fill="#7d7d86"/>
<rect x="370.54" y="553.26" width="9.22" height="9.16" fill="#969675"/>
<rect x="379.06" y="553.26" width="9.22" height="9.16" fill="#91917c"/>
<rect x="387.58" y="553.26" width="9.22" height="9.16" fill="#8c8c82"/>
<rect x="396.10" y="553.26" width="9.22" height="9.16" fill="#8c8c82"/>
<rect x="404.62" y="553.26" width="9.22" height="9.16" fill="#7d7d86"/>
<rect x="413.14" y="553.26" width="9.22" height="9.16" fill="#878784"/>
<rect x="421.66" y="553.26" width="9.22" height="9.16" fill="#37379c"/>
<rect x="430.18" y="553.26" width="9.22" height="9.16" fill="#37379c"/>
<rect x="438.70" y="553.26" width="9.22" height="9.16" fill="#3c3c9a"/>
<rect x="447.22" y="553.26" width="9.22" height="9.16" fill="#5a5a91"/>
<rect x="455.74" y="553.26" width="10.72" height="9.16" fill="#5f5f90"/>
<rect x="352.00" y="561.72" width="10.72" height="9.16" fill="#afaf54"/>
<rect x="362.02" y="561.72" width="9.22" height="9.16" fill="#969675"/>
<rect x="370.54" y="561.72" width="9.22" height="9.16" fill="#c8c834"/>
<rect x="379.06" y="561.72" width="9.22" height="9.16" fill="#afaf54"/>
<rect x="387.58" y="561.72" width="9.22" height="9.16" fill="#aaaa5b"/>
<rect x="396.10" y="561.72" width="9.22" height="9.16" fill="#91917c"/>
<rect x="404.62" y="561.72" width="9.22" height="9.16" fill="#8c8c82"/>
<rect x="413.14" y="561.72" width="9.22" height="9.16" fill="#878784"/>
<rect x="421.66" y="561.72" width="9.22" height="9.16" fill="#37379c"/>
<rect x="430.18" y="561.72" width="9.22" height="9.16" fill="#37379c"/>
<rect x="438.70" y="561.72" width="9.22" height="9.16" fill="#3c3c9a"/>
<rect x="447.22" y="561.72" width="9.22" height="9.16" fill="#5f5f90"/>
<rect x="455.74" y="561.72" width="10.72" height="9.16" fill="#787888"/>
<rect x="352.00" y="570.18" width="10.72" height="9.16" fill="#afaf54"/>
<rect x="362.02" y="570.18" width="9.22" height="9.16" fill="#aaaa5b"/>
<rect x="370.54" y="570.18" width="9.22" height="9.16" fill="#c3c33a"/>
<rect x="379.06" y="570.18" width="9.22" height="9.16" fill="#b4b44e"/>
<rect x="387.58" y="570.18" width="9.22" height="9.16" fill="#a0a068"/>
<rect x="396.10" y="570.18" width="9.22" height="9.16" fill="#9b9b6e"/>
<rect x="404.62" y="570.18" width="9.22" height="9.16" fill="#8c8c82"/>
<rect x="413.14" y="570.18" width="9.22" height="9.16" fill="#828285"/>
<rect x="421.66" y="570.18" width="9.22" height="9.16" fill="#3c3c9a"/>
<rect x="430.18" y="570.18" width="9.22" height="9.16" fill="#37379c"/>
<rect x="438.70" y="570.18" width="9.22" height="9.16" fill="#3c3c9a"/>
<rect x="447.22" y="570.18" width="9.22" height="9.16" fill="#64648e"/>
<rect x="455.74" y="570.18" width="10.72" height="9.16" fill="#787888"/>
<rect x="352.00" y="578.64" width="10.72" height="9.16" fill="#aaaa5b"/>
<rect x="362.02" y="578.64" width="9.22" height="9.16" fill="#a0a068"/>
<rect x="370.54" y="578.64" width="9.22" height="9.16" fill="#b9b948"/>
<rect x="379.06" y="578.64" width="9.22" height="9.16" fill="#b9b948"/>
<rect x="387.58" y="578.64" width="9.22" height="9.16" fill="#91917c"/>
<rect x="396.10" y="578.64" width="9.22" height="9.16" fill="#69698c"/>
<rect x="404.62" y="578.64" width="9.22" height="9.16" fill="#8c8c82"/>
<rect x="413.14" y="578.64" width="9.22" height="9.16" fill="#5a5a91"/>
<rect x="421.66" y="578.64" width="9.22" height="9.16" fill="#37379c"/>
<rect x="430.18" y="578.64" width="9.22" height="9.16" fill="#37379c"/>
<rect x="438.70" y="578.64" width="9.22" height="9.16" fill="#37379c"/>
<rect x="447.22" y="578.64" width="9.22" height="9.16" fill="#4b4b96"/>
<rect x="455.74" y="578.64" width="10.72" height="9.16" fill="#8c8c82"/>
<rect x="352.00" y="587.10" width="10.72" height="9.16" fill="#d2d227"/>
<rect x="362.02" y="587.10" width="9.22" height="9.16" fill="#aaaa5b"/>
<rect x="370.54" y="587.10" width="9.22" height="9.16" fill="#bebe41"/>
<rect x="379.06" y="587.10" width="9.22" height="9.16" fill="#e1e114"/>
<rect x="387.58" y="587.10" width="9.22" height="9.16" fill="#91917c"/>
<rect x="396.10" y="587.10" width="9.22" height="9.16" fill="#7d7d86"/>
<rect x="404.62" y="587.10" width="9.22" height="9.16" fill="#b4b44e"/>
<rect x="413.14" y="587.10" width="9.22" height="9.16" fill="#828285"/>
<rect x="421.66" y="587.10" width="9.22" height="9.16" fill="#7d7d86"/>
<rect x="430.18" y="587.10" width="9.22" height="9.16" fill="#7d7d86"/>
<rect x="438.70" y="587.10" width="9.22" height="9.16" fill="#787888"/>
<rect x="447.22" y="587.10" width="9.22" height="9.16" fill="#787888"/>
<rect x="455.74" y="587.10" width="10.72" height="9.16" fill="#73738a"/>
<rect x="352.00" y="595.56" width="10.72" height="9.16" fill="#b4b44e"/>
<rect x="362.02" y="595.56" width="9.22" height="9.16" fill="#aaaa5b"/>
<rect x="370.54" y="595.56" width="9.22" height="9.16" fill="#c3c33a"/>
<rect x="379.06" y="595.56" width="9.22" height="9.16" fill="#d7d720"/>
<rect x="387.58" y="595.56" width="9.22" height="9.16" fill="#91917c"/>
<rect x="396.10" y="595.56" width="9.22" height="9.16" fill="#464697"/>
<rect x="404.62" y="595.56" width="9.22" height="9.16" fill="#8c8c82"/>
<rect x="413.14" y="595.56" width="9.22" height="9.16" fill="#4b4b96"/>
<rect x="421.66" y="595.56" width="9.22" height="9.16" fill="#555592"/>
<rect x="430.18" y="595.56" width="9.22" height="9.16" fill="#69698c"/>
<rect x="438.70" y="595.56" width="9.22" height="9.16" fill="#3c3c9a"/>
<rect x="447.22" y="595.56" width="9.22" height="9.16" fill="#a0a068"/>
<rect x="455.74" y="595.56" width="10.72" height="9.16" fill="#a0a068"/>
<rect x="352.00" y="604.02" width="10.72" height="9.16" fill="#a0a068"/>
<rect x="362.02" y="604.02" width="9.22" height="9.16" fill="#969675"/>
<rect x="370.54" y="604.02" width="9.22" height="9.16" fill="#9b9b6e"/>
<rect x="379.06" y="604.02" width="9.22" height="9.16" fill="#9b9b6e"/>
<rect x="387.58" y="604.02" width="9.22" height="9.16" fill="#8c8c82"/>
<rect x="396.10" y="604.02" width="9.22" height="9.16" fill="#a5a562"/>
<rect x="404.62" y="604.02" width="9.22" height="9.16" fill="#969675"/>
<rect x="413.14" y="604.02" width="9.22" height="9.16" fill="#505094"/>
<rect x="421.66" y="604.02" width="9.22" height="9.16" fill="#878784"/>
<rect x="430.18" y="604.02" width="9.22" height="9.16" fill="#4b4b96"/>
<rect x="438.70" y="604.02" width="9.22" height="9.16" fill="#7d7d86"/>
<rect x="447.22" y="604.02" width="9.22" height="9.16" fill="#828285"/>
<rect x="455.74" y="604.02" width="10.72" height="9.16" fill="#5f5f90"/>
<rect x="352.00" y="612.48" width="10.72" height="9.16" fill="#a5a562"/>
<rect x="362.02" y="612.48" width="9.22" height="9.16" fill="#b9b948"/>
<rect x="370.54" y="612.48" width="9.22" height="9.16" fill="#d2d227"/>
<rect x="379.06" y="612.48" width="9.22" height="9.16" fill="#c8c834"/>
<rect x="387.58" y="612.48" width="9.22" height="9.16" fill="#8c8c82"/>
<rect x="396.10" y="612.48" width="9.22" height="9.16" fill="#8c8c82"/>
<rect x="404.62" y="612.48" width="9.22" height="9.16" fill="#878784"/>
<rect x="413.14" y="612.48" width="9.22" height="9.16" fill="#73738a"/>
<rect x="421.66" y="612.48" width="9.22" height="9.16" fill="#787888"/>
<rect x="430.18" y="612.48" width="9.22" height="9.16" fill="#4b4b96"/>
<rect x="438.70" y="612.48" width="9.22" height="9.16" fill="#828285"/>
<rect x="447.22" y="612.48" width="9.22" height="9.16" fill="#aaaa5b"/>
<rect x="455.74" y="612.48" width="10.72" height="9.16" fill="#7d7d86"/>
<rect x="352.00" y="620.94" width="10.72" height="9.16" fill="#a5a562"/>
<rect x="362.02" y="620.94" width="9.22" height="9.16" fill="#c3c33a"/>
<rect x="370.54" y="620.94" width="9.22" height="9.16" fill="#c8c834"/>
<rect x="379.06" y="620.94" width="9.22" height="9.16" fill="#c8c834"/>
<rect x="387.58" y="620.94" width="9.22" height="9.16" fill="#8c8c82"/>
<rect x="396.10" y="620.94" width="9.22" height="9.16" fill="#7d7d86"/>
<rect x="404.62" y="620.94" width="9.22" height="9.16" fill="#828285"/>
<rect x="413.14" y="620.94" width="9.22" height="9.16" fill="#73738a"/>
<rect x="421.66" y="620.94" width="9.22" height="9.16" fill="#6e6e8b"/>
<rect x="430.18" y="620.94" width="9.22" height="9.16" fill="#6e6e8b"/>
<rect x="438.70" y="620.94" width="9.22" height="9.16" fill="#aaaa5b"/>
<rect x="447.22" y="620.94" width="9.22" height="9.16" fill="#828285"/>
<rect x="455.74" y="620.94" width="10.72" height="9.16" fill="#787888"/>
<rect x="352.00" y="629.40" width="10.72" height="9.16" fill="#a0a068"/>
<rect x="362.02" y="629.40" width="9.22" height="9.16" fill="#b9b948"/>
<rect x="370.54" y="629.40" width="9.22" height="9.16" fill="#bebe41"/>
<rect x="379.06" y="629.40" width="9.22" height="9.16" fill="#c3c33a"/>
<rect x="387.58" y="629.40" width="9.22" height="9.16" fill="#8c8c82"/>
<rect x="396.10" y="629.40" width="9.22" height="9.16" fill="#787888"/>
<rect x="404.62" y="629.40" width="9.22" height="9.16" fill="#969675"/>
<rect x="413.14" y="629.40" width="9.22" height="9.16" fill="#37379c"/>
<rect x="421.66" y="629.40" width="9.22" height="9.16" fill="#37379c"/>
<rect x="430.18" y="629.40" width="9.22" height="9.16" fill="#37379c"/>
<rect x="438.70" y="629.40" width="9.22" height="9.16" fill="#aaaa5b"/>
<rect x="447.22" y="629.40" width="9.22" height="9.16" fill="#5f5f90"/>
<rect x="455.74" y="629.40" width="10.72" height="9.16" fill="#787888"/>
<rect x="352.00" y="637.86" width="10.72" height="9.16" fill="#91917c"/>
<rect x="362.02" y="637.86" width="9.22" height="9.16" fill="#d7d720"/>
<rect x="370.54" y="637.86" width="9.22" height="9.16" fill="#aaaa5b"/>
<rect x="379.06" y="637.86" width="9.22" height="9.16" fill="#b4b44e"/>
<rect x="387.58" y="637.86" width="9.22" height="9.16" fill="#8c8c82"/>
<rect x="396.10" y="637.86" width="9.22" height="9.16" fill="#37379c"/>
<rect x="404.62" y="637.86" width="9.22" height="9.16" fill="#37379c"/>
<rect x="413.14" y="637.86" width="9.22" height="9.16" fill="#37379c"/>
<rect x="421.66" y="637.86" width="9.22" height="9.16" fill="#37379c"/>
<rect x="430.18" y="637.86" width="9.22" height="9.16" fill="#37379c"/>
<rect x="438.70" y="637.86" width="9.22" height="9.16" fill="#69698c"/>
<rect x="447.22" y="637.86" width="9.22" height="9.16" fill="#bebe41"/>
<rect x="455.74" y="637.86" width="10.72" height="9.16" fill="#878784"/>
<rect x="352.00" y="646.32" width="10.72" height="10.66" fill="#69698c"/>
<rect x="362.02" y="646.32" width="9.22" height="10.66" fill="#8c8c82"/>
<rect x="370.54" y="646.32" width="9.22" height="10.66" fill="#a0a068"/>
<rect x="379.06" y="646.32" width="9.22" height="10.66" fill="#8c8c82"/>
<rect x="387.58" y="646.32" width="9.22" height="10.66" fill="#969675"/>
<rect x="396.10" y="646.32" width="9.22" height="10.66" fill="#8c8c82"/>
<rect x="404.62" y="646.32" width="9.22" height="10.66" fill="#878784"/>
<rect x="413.14" y="646.32" width="9.22" height="10.66" fill="#878784"/>
<rect x="421.66" y="646.32" width="9.22" height="10.66" fill="#a0a068"/>
<rect x="430.18" y="646.32" width="9.22" height="10.66" fill="#8c8c82"/>
<rect x="438.70" y="646.32" width="9.22" height="10.66" fill="#bebe41"/>
<rect x="447.22" y="646.32" width="9.22" height="10.66" fill="#787888"/>
<rect x="455.74" y="646.32" width="10.72" height="10.66" fill="#828285"/>
</g></g>
<text x="350.10" y="509.30" font-size="7.9" text-anchor="end" font-style="italic" fill="#231f20" stroke="#231f20" stroke-width="0.2">CIITA</text>
<text x="350.10" y="517.76" font-size="7.9" text-anchor="end" font-style="italic" fill="#231f20" stroke="#231f20" stroke-width="0.2">HLA-DRA</text>
<text x="350.10" y="526.22" font-size="7.9" text-anchor="end" font-style="italic" fill="#231f20" stroke="#231f20" stroke-width="0.2">HLA-E</text>
<text x="350.10" y="534.68" font-size="7.9" text-anchor="end" font-style="italic" fill="#231f20" stroke="#231f20" stroke-width="0.2">IL2RG</text>
<text x="350.10" y="543.14" font-size="7.9" text-anchor="end" font-style="italic" fill="#231f20" stroke="#231f20" stroke-width="0.2">CXCL13</text>
<text x="350.10" y="551.60" font-size="7.9" text-anchor="end" font-style="italic" fill="#231f20" stroke="#231f20" stroke-width="0.2">IDO1</text>
<text x="350.10" y="560.06" font-size="7.9" text-anchor="end" font-style="italic" fill="#231f20" stroke="#231f20" stroke-width="0.2">CD3E</text>
<text x="350.10" y="568.52" font-size="7.9" text-anchor="end" font-style="italic" fill="#231f20" stroke="#231f20" stroke-width="0.2">CD3D</text>
<text x="350.10" y="576.98" font-size="7.9" text-anchor="end" font-style="italic" fill="#231f20" stroke="#231f20" stroke-width="0.2">CD2</text>
<text x="350.10" y="585.44" font-size="7.9" text-anchor="end" font-style="italic" fill="#231f20" stroke="#231f20" stroke-width="0.2">GZMK</text>
<text x="350.10" y="593.90" font-size="7.9" text-anchor="end" font-style="italic" fill="#231f20" stroke="#231f20" stroke-width="0.2">CCL5</text>
<text x="350.10" y="602.36" font-size="7.9" text-anchor="end" font-style="italic" fill="#231f20" stroke="#231f20" stroke-width="0.2">NKG7</text>
<text x="350.10" y="610.82" font-size="7.9" text-anchor="end" font-style="italic" fill="#231f20" stroke="#231f20" stroke-width="0.2">CXCR6</text>
<text x="350.10" y="619.28" font-size="7.9" text-anchor="end" font-style="italic" fill="#231f20" stroke="#231f20" stroke-width="0.2">CXCL10</text>
<text x="350.10" y="627.74" font-size="7.9" text-anchor="end" font-style="italic" fill="#231f20" stroke="#231f20" stroke-width="0.2">STAT1</text>
<text x="350.10" y="636.20" font-size="7.9" text-anchor="end" font-style="italic" fill="#231f20" stroke="#231f20" stroke-width="0.2">GZMB</text>
<text x="350.10" y="644.66" font-size="7.9" text-anchor="end" font-style="italic" fill="#231f20" stroke="#231f20" stroke-width="0.2">LAG3</text>
<text x="350.10" y="653.12" font-size="7.9" text-anchor="end" font-style="italic" fill="#231f20" stroke="#231f20" stroke-width="0.2">TAGAP</text>
<rect x="353.85" y="493.8" width="7.82" height="7.6" fill="#ffffff" stroke="#4a4a4a" stroke-width="0.7"/>
<rect x="362.37" y="493.8" width="7.82" height="7.6" fill="#ffffff" stroke="#4a4a4a" stroke-width="0.7"/>
<rect x="370.89" y="493.8" width="7.82" height="7.6" fill="#ffffff" stroke="#4a4a4a" stroke-width="0.7"/>
<rect x="379.41" y="493.8" width="7.82" height="7.6" fill="#a3161c" stroke="#4a4a4a" stroke-width="0.7"/>
<rect x="387.93" y="493.8" width="7.82" height="7.6" fill="#ffffff" stroke="#4a4a4a" stroke-width="0.7"/>
<rect x="396.45" y="493.8" width="7.82" height="7.6" fill="#ffffff" stroke="#4a4a4a" stroke-width="0.7"/>
<rect x="404.97" y="493.8" width="7.82" height="7.6" fill="#ffffff" stroke="#4a4a4a" stroke-width="0.7"/>
<rect x="413.49" y="493.8" width="7.82" height="7.6" fill="#ffffff" stroke="#4a4a4a" stroke-width="0.7"/>
<rect x="422.01" y="493.8" width="7.82" height="7.6" fill="#a3161c" stroke="#4a4a4a" stroke-width="0.7"/>
<rect x="430.53" y="493.8" width="7.82" height="7.6" fill="#a3161c" stroke="#4a4a4a" stroke-width="0.7"/>
<rect x="439.05" y="493.8" width="7.82" height="7.6" fill="#a3161c" stroke="#4a4a4a" stroke-width="0.7"/>
<rect x="447.57" y="493.8" width="7.82" height="7.6" fill="#f07a80" stroke="#4a4a4a" stroke-width="0.7"/>
<rect x="456.09" y="493.8" width="7.82" height="7.6" fill="#f07a80" stroke="#4a4a4a" stroke-width="0.7"/>
<path d="M357.8 493.6V491.0H366.3V493.6 M374.8 493.6V491.0H383.3V493.6 M362.0 491.0V489.5H379.1V491.0 M370.5 489.5V487.8H391.8V493.6 M400.4 493.6V490.6H408.9V493.6 M417.4 493.6V490.8H425.9V493.6 M434.4 493.6V491.0H443.0V493.6 M421.7 490.8V489.8H438.7V491.0 M404.6 490.6V488.4H430.2V489.8 M451.5 493.6V490.1H460.0V493.6 M417.4 488.4V486.1H455.7V490.1 M381.2 487.8V482.6H436.6V486.1" fill="none" stroke="#3a3a3a" stroke-width="0.7"/>
<rect x="467.4" y="502.3" width="8" height="7.5" fill="#fff" stroke="#3a3a3a" stroke-width="0.7"/>
<path d="M467.4 509.8 H475.4 L467.4 517.5 Z" fill="#a3161c"/>
<path d="M475.4 509.8 V517.5 H467.4 Z" fill="#f07a80"/>
<path d="M475.4 509.8 L467.4 517.5" stroke="#fff" stroke-width="0.7"/>
<rect x="467.4" y="509.8" width="8" height="7.7" fill="none" stroke="#3a3a3a" stroke-width="0.7"/>
<text x="478.70" y="508.60" font-size="7.2" text-anchor="start" fill="#231f20" stroke="#231f20" stroke-width="0.2">Stable</text>
<text x="478.70" y="516.20" font-size="7.2" text-anchor="start" fill="#231f20" stroke="#231f20" stroke-width="0.2">Shifted</text>
<defs><linearGradient id="cb" x1="0" x2="1" y1="0" y2="0"><stop offset="0" stop-color="#282896"/><stop offset="0.25" stop-color="#3a3aa4"/><stop offset="0.5" stop-color="#8c8c82"/><stop offset="0.75" stop-color="#c4c448"/><stop offset="1" stop-color="#f2f200"/></linearGradient></defs>
<rect x="366.7" y="659.6" width="83.7" height="8.1" fill="url(#cb)"/>
<text x="360.20" y="677.30" font-size="7.6" text-anchor="start" fill="#231f20" stroke="#231f20" stroke-width="0.2">Min</text>
<text x="455.40" y="677.30" font-size="7.6" text-anchor="end" fill="#231f20" stroke="#231f20" stroke-width="0.2">Max</text>
</svg>
</body></html>
